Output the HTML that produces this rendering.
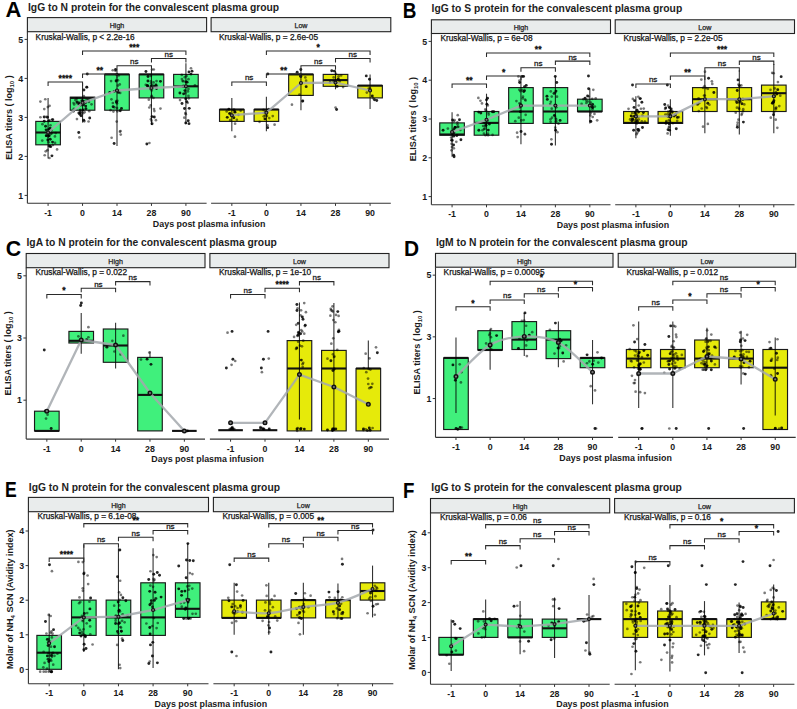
<!DOCTYPE html>
<html><head><meta charset="utf-8"><style>
html,body{margin:0;padding:0;background:#fff;width:797px;height:709px;overflow:hidden;position:relative}
svg text{font-family:"Liberation Sans", sans-serif}
</style></head><body>
<svg width="797" height="709" viewBox="0 0 797 709" style="position:absolute;left:0;top:0">
<rect width="797" height="709" fill="#ffffff"/>
<text transform="translate(5.5,17.2) scale(1.0,1)" font-size="22" font-weight="bold" fill="#000">A</text>
<text x="28" y="10.8" font-size="10.3" font-weight="bold" text-anchor="start" fill="#1e1e1e" >IgG to N protein for the convalescent plasma group</text>
<rect x="27.4" y="17.6" width="179.2" height="14.1" fill="#e9ecec" stroke="#222" stroke-width="1.1"/>
<text x="117" y="28" font-size="7.1" font-weight="normal" text-anchor="middle" fill="#222" stroke="#222" stroke-width="0.25">High</text>
<line x1="27.4" y1="203.3" x2="206.6" y2="203.3" stroke="#333" stroke-width="1.1"/>
<line x1="27.4" y1="31.7" x2="27.4" y2="203.3" stroke="#333" stroke-width="1.1"/>
<line x1="48.08" y1="203.3" x2="48.08" y2="205.9" stroke="#333" stroke-width="1"/>
<text x="48.08" y="215.7" font-size="8.8" font-weight="bold" text-anchor="middle" fill="#1a1a1a" >-1</text>
<line x1="82.54" y1="203.3" x2="82.54" y2="205.9" stroke="#333" stroke-width="1"/>
<text x="82.54" y="215.7" font-size="8.8" font-weight="bold" text-anchor="middle" fill="#1a1a1a" >0</text>
<line x1="117" y1="203.3" x2="117" y2="205.9" stroke="#333" stroke-width="1"/>
<text x="117" y="215.7" font-size="8.8" font-weight="bold" text-anchor="middle" fill="#1a1a1a" >14</text>
<line x1="151.46" y1="203.3" x2="151.46" y2="205.9" stroke="#333" stroke-width="1"/>
<text x="151.46" y="215.7" font-size="8.8" font-weight="bold" text-anchor="middle" fill="#1a1a1a" >28</text>
<line x1="185.92" y1="203.3" x2="185.92" y2="205.9" stroke="#333" stroke-width="1"/>
<text x="185.92" y="215.7" font-size="8.8" font-weight="bold" text-anchor="middle" fill="#1a1a1a" >90</text>
<rect x="35.78" y="121.4" width="24.6" height="23.4" fill="#40f07c" stroke="#1a1a1a" stroke-width="1.15"/>
<line x1="35.78" y1="132.5" x2="60.38" y2="132.5" stroke="#111" stroke-width="2.1"/>
<rect x="70.24" y="97.2" width="24.6" height="13" fill="#40f07c" stroke="#1a1a1a" stroke-width="1.15"/>
<line x1="70.24" y1="97.9" x2="94.84" y2="97.9" stroke="#111" stroke-width="2.1"/>
<rect x="104.7" y="74.4" width="24.6" height="35.8" fill="#40f07c" stroke="#1a1a1a" stroke-width="1.15"/>
<line x1="104.7" y1="74.4" x2="129.3" y2="74.4" stroke="#111" stroke-width="2.1"/>
<rect x="139.16" y="74.4" width="24.6" height="23.5" fill="#40f07c" stroke="#1a1a1a" stroke-width="1.15"/>
<line x1="139.16" y1="74.4" x2="163.76" y2="74.4" stroke="#111" stroke-width="2.1"/>
<rect x="173.62" y="74.4" width="24.6" height="23.5" fill="#40f07c" stroke="#1a1a1a" stroke-width="1.15"/>
<line x1="173.62" y1="86.3" x2="198.22" y2="86.3" stroke="#111" stroke-width="2.1"/>
<line x1="48.08" y1="97.9" x2="48.08" y2="158.4" stroke="#000" stroke-opacity="0.8" stroke-width="1.1"/>
<line x1="82.54" y1="83" x2="82.54" y2="122.6" stroke="#000" stroke-opacity="0.8" stroke-width="1.1"/>
<line x1="117" y1="69.5" x2="117" y2="146" stroke="#000" stroke-opacity="0.8" stroke-width="1.1"/>
<line x1="151.46" y1="69.5" x2="151.46" y2="125" stroke="#000" stroke-opacity="0.8" stroke-width="1.1"/>
<line x1="185.92" y1="63.3" x2="185.92" y2="123.8" stroke="#000" stroke-opacity="0.8" stroke-width="1.1"/>
<circle cx="52.55" cy="142.1" r="1.45" fill="#000" fill-opacity="0.85"/>
<circle cx="49.06" cy="130.66" r="1.35" fill="#000" fill-opacity="0.52"/>
<circle cx="48.66" cy="129.4" r="1.45" fill="#000" fill-opacity="0.85"/>
<circle cx="46.35" cy="135.64" r="1.45" fill="#000" fill-opacity="0.85"/>
<circle cx="44.7" cy="155.24" r="1.35" fill="#000" fill-opacity="0.52"/>
<circle cx="50.06" cy="128.12" r="1.45" fill="#000" fill-opacity="0.85"/>
<circle cx="45.56" cy="126.27" r="1.45" fill="#000" fill-opacity="0.85"/>
<circle cx="45.72" cy="151.37" r="1.35" fill="#000" fill-opacity="0.52"/>
<circle cx="50.48" cy="125.23" r="1.35" fill="#000" fill-opacity="0.52"/>
<circle cx="46.1" cy="135.74" r="1.35" fill="#000" fill-opacity="0.52"/>
<circle cx="49.7" cy="146.09" r="1.45" fill="#000" fill-opacity="0.85"/>
<circle cx="40.42" cy="117.25" r="1.35" fill="#000" fill-opacity="0.52"/>
<circle cx="49.97" cy="129.68" r="1.35" fill="#000" fill-opacity="0.52"/>
<circle cx="47.84" cy="107.1" r="1.35" fill="#000" fill-opacity="0.52"/>
<circle cx="42.45" cy="124.21" r="1.35" fill="#000" fill-opacity="0.52"/>
<circle cx="46.36" cy="116.88" r="1.35" fill="#000" fill-opacity="0.52"/>
<circle cx="52.97" cy="119.65" r="1.35" fill="#000" fill-opacity="0.52"/>
<circle cx="40.36" cy="101.57" r="1.35" fill="#000" fill-opacity="0.52"/>
<circle cx="49.44" cy="157.98" r="1.35" fill="#000" fill-opacity="0.52"/>
<circle cx="45.28" cy="99.27" r="1.35" fill="#000" fill-opacity="0.52"/>
<circle cx="48.97" cy="135.85" r="1.35" fill="#000" fill-opacity="0.52"/>
<circle cx="51.86" cy="133.26" r="1.35" fill="#000" fill-opacity="0.52"/>
<circle cx="49.58" cy="120.35" r="1.35" fill="#000" fill-opacity="0.52"/>
<circle cx="47.38" cy="150.17" r="1.35" fill="#000" fill-opacity="0.52"/>
<circle cx="51.95" cy="155.84" r="1.45" fill="#000" fill-opacity="0.85"/>
<circle cx="50.83" cy="133.98" r="1.35" fill="#000" fill-opacity="0.52"/>
<circle cx="48.42" cy="133.02" r="1.35" fill="#000" fill-opacity="0.52"/>
<circle cx="44.27" cy="109.04" r="1.35" fill="#000" fill-opacity="0.52"/>
<circle cx="44.23" cy="121.29" r="1.45" fill="#000" fill-opacity="0.85"/>
<circle cx="52.87" cy="145.09" r="1.35" fill="#000" fill-opacity="0.52"/>
<circle cx="52.37" cy="119.61" r="1.45" fill="#000" fill-opacity="0.85"/>
<circle cx="48.66" cy="142.24" r="1.35" fill="#000" fill-opacity="0.52"/>
<circle cx="50.25" cy="139.22" r="1.45" fill="#000" fill-opacity="0.85"/>
<circle cx="55.72" cy="133.11" r="1.35" fill="#000" fill-opacity="0.52"/>
<circle cx="48.03" cy="136.56" r="1.35" fill="#000" fill-opacity="0.52"/>
<circle cx="55.06" cy="142.93" r="1.35" fill="#000" fill-opacity="0.52"/>
<circle cx="49.59" cy="105.82" r="1.35" fill="#000" fill-opacity="0.52"/>
<circle cx="49.15" cy="135.64" r="1.45" fill="#000" fill-opacity="0.85"/>
<circle cx="46.09" cy="129.86" r="1.45" fill="#000" fill-opacity="0.85"/>
<circle cx="48.86" cy="145.95" r="1.35" fill="#000" fill-opacity="0.52"/>
<circle cx="47.82" cy="140.02" r="1.45" fill="#000" fill-opacity="0.85"/>
<circle cx="51.7" cy="130.12" r="1.35" fill="#000" fill-opacity="0.52"/>
<circle cx="54.92" cy="136.38" r="1.35" fill="#000" fill-opacity="0.52"/>
<circle cx="50.67" cy="146.67" r="1.45" fill="#000" fill-opacity="0.85"/>
<circle cx="47.51" cy="117.23" r="1.45" fill="#000" fill-opacity="0.85"/>
<circle cx="47.74" cy="135.13" r="1.35" fill="#000" fill-opacity="0.52"/>
<circle cx="57.08" cy="149.41" r="1.35" fill="#000" fill-opacity="0.52"/>
<circle cx="48.58" cy="120.9" r="1.45" fill="#000" fill-opacity="0.85"/>
<circle cx="42.27" cy="140.6" r="1.35" fill="#000" fill-opacity="0.52"/>
<circle cx="44.18" cy="117.04" r="1.45" fill="#000" fill-opacity="0.85"/>
<circle cx="76.95" cy="119.03" r="1.35" fill="#000" fill-opacity="0.52"/>
<circle cx="85.45" cy="101.93" r="1.35" fill="#000" fill-opacity="0.52"/>
<circle cx="88.58" cy="121.48" r="1.35" fill="#000" fill-opacity="0.52"/>
<circle cx="80.54" cy="112.67" r="1.45" fill="#000" fill-opacity="0.85"/>
<circle cx="89.24" cy="111.16" r="1.35" fill="#000" fill-opacity="0.52"/>
<circle cx="73.54" cy="111.36" r="1.35" fill="#000" fill-opacity="0.52"/>
<circle cx="81.93" cy="100.71" r="1.45" fill="#000" fill-opacity="0.85"/>
<circle cx="73.81" cy="108.73" r="1.35" fill="#000" fill-opacity="0.52"/>
<circle cx="81.07" cy="115.72" r="1.45" fill="#000" fill-opacity="0.85"/>
<circle cx="85.26" cy="102.53" r="1.35" fill="#000" fill-opacity="0.52"/>
<circle cx="83.52" cy="100.96" r="1.35" fill="#000" fill-opacity="0.52"/>
<circle cx="83.85" cy="96.15" r="1.35" fill="#000" fill-opacity="0.52"/>
<circle cx="80.32" cy="109.76" r="1.35" fill="#000" fill-opacity="0.52"/>
<circle cx="83.02" cy="110.02" r="1.45" fill="#000" fill-opacity="0.85"/>
<circle cx="80.31" cy="104.81" r="1.35" fill="#000" fill-opacity="0.52"/>
<circle cx="80.43" cy="105.04" r="1.35" fill="#000" fill-opacity="0.52"/>
<circle cx="86.62" cy="87.2" r="1.35" fill="#000" fill-opacity="0.52"/>
<circle cx="88.98" cy="101.99" r="1.35" fill="#000" fill-opacity="0.52"/>
<circle cx="74.17" cy="104.52" r="1.35" fill="#000" fill-opacity="0.52"/>
<circle cx="76.72" cy="103.02" r="1.35" fill="#000" fill-opacity="0.52"/>
<circle cx="73.57" cy="103.01" r="1.35" fill="#000" fill-opacity="0.52"/>
<circle cx="83.78" cy="120.31" r="1.45" fill="#000" fill-opacity="0.85"/>
<circle cx="80" cy="114.3" r="1.45" fill="#000" fill-opacity="0.85"/>
<circle cx="83.06" cy="101.56" r="1.45" fill="#000" fill-opacity="0.85"/>
<circle cx="76.72" cy="98.69" r="1.35" fill="#000" fill-opacity="0.52"/>
<circle cx="77.08" cy="101.87" r="1.45" fill="#000" fill-opacity="0.85"/>
<circle cx="84.32" cy="121.31" r="1.35" fill="#000" fill-opacity="0.52"/>
<circle cx="89.71" cy="118.02" r="1.45" fill="#000" fill-opacity="0.85"/>
<circle cx="79.1" cy="102.99" r="1.45" fill="#000" fill-opacity="0.85"/>
<circle cx="82.41" cy="103.17" r="1.35" fill="#000" fill-opacity="0.52"/>
<circle cx="85.93" cy="102.55" r="1.35" fill="#000" fill-opacity="0.52"/>
<circle cx="91.54" cy="104.3" r="1.35" fill="#000" fill-opacity="0.52"/>
<circle cx="86.87" cy="87.15" r="1.45" fill="#000" fill-opacity="0.85"/>
<circle cx="79.57" cy="104.55" r="1.45" fill="#000" fill-opacity="0.85"/>
<circle cx="78.83" cy="112.98" r="1.45" fill="#000" fill-opacity="0.85"/>
<circle cx="80.14" cy="110.41" r="1.35" fill="#000" fill-opacity="0.52"/>
<circle cx="84.59" cy="112.14" r="1.35" fill="#000" fill-opacity="0.52"/>
<circle cx="80.5" cy="111.46" r="1.35" fill="#000" fill-opacity="0.52"/>
<circle cx="81.43" cy="105.06" r="1.35" fill="#000" fill-opacity="0.52"/>
<circle cx="86.62" cy="99.72" r="1.35" fill="#000" fill-opacity="0.52"/>
<circle cx="85.91" cy="108.67" r="1.45" fill="#000" fill-opacity="0.85"/>
<circle cx="83.58" cy="104.7" r="1.45" fill="#000" fill-opacity="0.85"/>
<circle cx="88.57" cy="100.32" r="1.45" fill="#000" fill-opacity="0.85"/>
<circle cx="85.69" cy="106.09" r="1.45" fill="#000" fill-opacity="0.85"/>
<circle cx="83.13" cy="113.26" r="1.35" fill="#000" fill-opacity="0.52"/>
<circle cx="83.94" cy="90.07" r="1.45" fill="#000" fill-opacity="0.85"/>
<circle cx="75.33" cy="100.11" r="1.35" fill="#000" fill-opacity="0.52"/>
<circle cx="78.42" cy="104.05" r="1.35" fill="#000" fill-opacity="0.52"/>
<circle cx="73.54" cy="110.99" r="1.35" fill="#000" fill-opacity="0.52"/>
<circle cx="83.58" cy="102.56" r="1.45" fill="#000" fill-opacity="0.85"/>
<circle cx="114.09" cy="91.58" r="1.45" fill="#000" fill-opacity="0.85"/>
<circle cx="110.55" cy="110.15" r="1.35" fill="#000" fill-opacity="0.52"/>
<circle cx="120.16" cy="92.96" r="1.35" fill="#000" fill-opacity="0.52"/>
<circle cx="117.99" cy="80.31" r="1.35" fill="#000" fill-opacity="0.52"/>
<circle cx="117.34" cy="111.35" r="1.35" fill="#000" fill-opacity="0.52"/>
<circle cx="120.73" cy="134.53" r="1.35" fill="#000" fill-opacity="0.52"/>
<circle cx="118.37" cy="92.41" r="1.45" fill="#000" fill-opacity="0.85"/>
<circle cx="120.24" cy="110.68" r="1.45" fill="#000" fill-opacity="0.85"/>
<circle cx="116.08" cy="101.08" r="1.35" fill="#000" fill-opacity="0.52"/>
<circle cx="117.02" cy="103.47" r="1.35" fill="#000" fill-opacity="0.52"/>
<circle cx="111.44" cy="99.3" r="1.35" fill="#000" fill-opacity="0.52"/>
<circle cx="116.12" cy="80.93" r="1.45" fill="#000" fill-opacity="0.85"/>
<circle cx="111.62" cy="137.73" r="1.35" fill="#000" fill-opacity="0.52"/>
<circle cx="119.97" cy="131.63" r="1.35" fill="#000" fill-opacity="0.52"/>
<circle cx="120.55" cy="131.06" r="1.35" fill="#000" fill-opacity="0.52"/>
<circle cx="113.41" cy="111.58" r="1.35" fill="#000" fill-opacity="0.52"/>
<circle cx="117.4" cy="100.83" r="1.35" fill="#000" fill-opacity="0.52"/>
<circle cx="112.83" cy="102.99" r="1.35" fill="#000" fill-opacity="0.52"/>
<circle cx="116.69" cy="121.57" r="1.35" fill="#000" fill-opacity="0.52"/>
<circle cx="117.02" cy="107.98" r="1.35" fill="#000" fill-opacity="0.52"/>
<circle cx="116.76" cy="74.55" r="1.45" fill="#000" fill-opacity="0.85"/>
<circle cx="116.67" cy="79.94" r="1.35" fill="#000" fill-opacity="0.52"/>
<circle cx="114.45" cy="107.29" r="1.35" fill="#000" fill-opacity="0.52"/>
<circle cx="111.07" cy="81.06" r="1.35" fill="#000" fill-opacity="0.52"/>
<circle cx="118.75" cy="75.43" r="1.35" fill="#000" fill-opacity="0.52"/>
<circle cx="116.45" cy="102.26" r="1.45" fill="#000" fill-opacity="0.85"/>
<circle cx="114.25" cy="91.24" r="1.35" fill="#000" fill-opacity="0.52"/>
<circle cx="112.77" cy="70.26" r="1.35" fill="#000" fill-opacity="0.52"/>
<circle cx="118.99" cy="90.41" r="1.35" fill="#000" fill-opacity="0.52"/>
<circle cx="115.43" cy="70.84" r="1.35" fill="#000" fill-opacity="0.52"/>
<circle cx="114.14" cy="143.56" r="1.45" fill="#000" fill-opacity="0.85"/>
<circle cx="117.94" cy="85.62" r="1.35" fill="#000" fill-opacity="0.52"/>
<circle cx="115.59" cy="69.5" r="1.45" fill="#000" fill-opacity="0.85"/>
<circle cx="121.49" cy="108.42" r="1.45" fill="#000" fill-opacity="0.85"/>
<circle cx="113.13" cy="106.69" r="1.45" fill="#000" fill-opacity="0.85"/>
<circle cx="117.22" cy="74.51" r="1.35" fill="#000" fill-opacity="0.52"/>
<circle cx="119.75" cy="84.4" r="1.35" fill="#000" fill-opacity="0.52"/>
<circle cx="109.74" cy="92.44" r="1.45" fill="#000" fill-opacity="0.85"/>
<circle cx="154.02" cy="109.07" r="1.35" fill="#000" fill-opacity="0.52"/>
<circle cx="156.53" cy="81.03" r="1.35" fill="#000" fill-opacity="0.52"/>
<circle cx="151.27" cy="86.04" r="1.45" fill="#000" fill-opacity="0.85"/>
<circle cx="152.64" cy="85.35" r="1.35" fill="#000" fill-opacity="0.52"/>
<circle cx="155.98" cy="84.89" r="1.45" fill="#000" fill-opacity="0.85"/>
<circle cx="149.32" cy="107.5" r="1.35" fill="#000" fill-opacity="0.52"/>
<circle cx="155.93" cy="120.2" r="1.35" fill="#000" fill-opacity="0.52"/>
<circle cx="151" cy="81.24" r="1.35" fill="#000" fill-opacity="0.52"/>
<circle cx="147.33" cy="85.38" r="1.45" fill="#000" fill-opacity="0.85"/>
<circle cx="148.03" cy="76.57" r="1.45" fill="#000" fill-opacity="0.85"/>
<circle cx="152.07" cy="123.68" r="1.45" fill="#000" fill-opacity="0.85"/>
<circle cx="147.9" cy="86.2" r="1.45" fill="#000" fill-opacity="0.85"/>
<circle cx="153.62" cy="82.38" r="1.35" fill="#000" fill-opacity="0.52"/>
<circle cx="160.46" cy="108.57" r="1.35" fill="#000" fill-opacity="0.52"/>
<circle cx="152.05" cy="69.5" r="1.35" fill="#000" fill-opacity="0.52"/>
<circle cx="151.66" cy="90.51" r="1.35" fill="#000" fill-opacity="0.52"/>
<circle cx="154.39" cy="111.11" r="1.35" fill="#000" fill-opacity="0.52"/>
<circle cx="150.9" cy="75.88" r="1.35" fill="#000" fill-opacity="0.52"/>
<circle cx="160.46" cy="81.34" r="1.45" fill="#000" fill-opacity="0.85"/>
<circle cx="145.95" cy="71.54" r="1.45" fill="#000" fill-opacity="0.85"/>
<circle cx="155.3" cy="86.25" r="1.35" fill="#000" fill-opacity="0.52"/>
<circle cx="152.02" cy="116.6" r="1.45" fill="#000" fill-opacity="0.85"/>
<circle cx="150.89" cy="119.21" r="1.35" fill="#000" fill-opacity="0.52"/>
<circle cx="151.47" cy="96.8" r="1.35" fill="#000" fill-opacity="0.52"/>
<circle cx="154.29" cy="116.98" r="1.45" fill="#000" fill-opacity="0.85"/>
<circle cx="145.77" cy="84.75" r="1.35" fill="#000" fill-opacity="0.52"/>
<circle cx="150.66" cy="105.43" r="1.35" fill="#000" fill-opacity="0.52"/>
<circle cx="151.12" cy="83.27" r="1.35" fill="#000" fill-opacity="0.52"/>
<circle cx="148.82" cy="99.63" r="1.35" fill="#000" fill-opacity="0.52"/>
<circle cx="156.87" cy="85.98" r="1.35" fill="#000" fill-opacity="0.52"/>
<circle cx="153.44" cy="97.92" r="1.35" fill="#000" fill-opacity="0.52"/>
<circle cx="156.54" cy="88.54" r="1.45" fill="#000" fill-opacity="0.85"/>
<circle cx="153.81" cy="69.5" r="1.35" fill="#000" fill-opacity="0.52"/>
<circle cx="151.74" cy="95.88" r="1.35" fill="#000" fill-opacity="0.52"/>
<circle cx="154.31" cy="86.56" r="1.45" fill="#000" fill-opacity="0.85"/>
<circle cx="147.93" cy="81.05" r="1.45" fill="#000" fill-opacity="0.85"/>
<circle cx="151.61" cy="120.85" r="1.35" fill="#000" fill-opacity="0.52"/>
<circle cx="150.42" cy="88.93" r="1.35" fill="#000" fill-opacity="0.52"/>
<circle cx="183.62" cy="93.85" r="1.45" fill="#000" fill-opacity="0.85"/>
<circle cx="187.1" cy="82.16" r="1.45" fill="#000" fill-opacity="0.85"/>
<circle cx="183.43" cy="81.14" r="1.35" fill="#000" fill-opacity="0.52"/>
<circle cx="188.42" cy="89.06" r="1.35" fill="#000" fill-opacity="0.52"/>
<circle cx="188.23" cy="120.7" r="1.45" fill="#000" fill-opacity="0.85"/>
<circle cx="188.95" cy="71.89" r="1.45" fill="#000" fill-opacity="0.85"/>
<circle cx="190.97" cy="68.26" r="1.35" fill="#000" fill-opacity="0.52"/>
<circle cx="189.01" cy="123.65" r="1.45" fill="#000" fill-opacity="0.85"/>
<circle cx="184.51" cy="108.45" r="1.45" fill="#000" fill-opacity="0.85"/>
<circle cx="183.53" cy="86.21" r="1.45" fill="#000" fill-opacity="0.85"/>
<circle cx="185.26" cy="92.98" r="1.35" fill="#000" fill-opacity="0.52"/>
<circle cx="188.45" cy="95.92" r="1.35" fill="#000" fill-opacity="0.52"/>
<circle cx="185.35" cy="113.03" r="1.35" fill="#000" fill-opacity="0.52"/>
<circle cx="186.53" cy="75.98" r="1.35" fill="#000" fill-opacity="0.52"/>
<circle cx="192.03" cy="71.17" r="1.45" fill="#000" fill-opacity="0.85"/>
<circle cx="179.92" cy="93.05" r="1.45" fill="#000" fill-opacity="0.85"/>
<circle cx="189.2" cy="108.33" r="1.45" fill="#000" fill-opacity="0.85"/>
<circle cx="184.31" cy="117.66" r="1.35" fill="#000" fill-opacity="0.52"/>
<circle cx="188.49" cy="79.16" r="1.35" fill="#000" fill-opacity="0.52"/>
<circle cx="186.25" cy="86" r="1.35" fill="#000" fill-opacity="0.52"/>
<circle cx="186.71" cy="101.66" r="1.45" fill="#000" fill-opacity="0.85"/>
<circle cx="194.92" cy="85.32" r="1.35" fill="#000" fill-opacity="0.52"/>
<circle cx="181.91" cy="79.04" r="1.35" fill="#000" fill-opacity="0.52"/>
<circle cx="187.94" cy="91.46" r="1.35" fill="#000" fill-opacity="0.52"/>
<circle cx="180.04" cy="100.04" r="1.35" fill="#000" fill-opacity="0.52"/>
<circle cx="190.99" cy="74.09" r="1.45" fill="#000" fill-opacity="0.85"/>
<circle cx="183.06" cy="86.3" r="1.45" fill="#000" fill-opacity="0.85"/>
<circle cx="184.83" cy="77.18" r="1.35" fill="#000" fill-opacity="0.52"/>
<circle cx="185.77" cy="123.06" r="1.45" fill="#000" fill-opacity="0.85"/>
<circle cx="184.89" cy="90.61" r="1.45" fill="#000" fill-opacity="0.85"/>
<circle cx="181.78" cy="74.89" r="1.35" fill="#000" fill-opacity="0.52"/>
<circle cx="182.02" cy="103.5" r="1.45" fill="#000" fill-opacity="0.85"/>
<circle cx="182.57" cy="81.07" r="1.35" fill="#000" fill-opacity="0.52"/>
<circle cx="185.97" cy="81.94" r="1.45" fill="#000" fill-opacity="0.85"/>
<circle cx="188.77" cy="98.29" r="1.35" fill="#000" fill-opacity="0.52"/>
<circle cx="185.71" cy="98.85" r="1.45" fill="#000" fill-opacity="0.85"/>
<circle cx="187.69" cy="102.83" r="1.35" fill="#000" fill-opacity="0.52"/>
<circle cx="185.82" cy="114.15" r="1.35" fill="#000" fill-opacity="0.52"/>
<circle cx="146.87" cy="144" r="1.45" fill="#000" fill-opacity="0.85"/>
<circle cx="149.4" cy="143" r="1.35" fill="#000" fill-opacity="0.52"/>
<circle cx="78.73" cy="132.5" r="1.45" fill="#000" fill-opacity="0.85"/>
<circle cx="79.43" cy="137.4" r="1.35" fill="#000" fill-opacity="0.52"/>
<circle cx="87.27" cy="74" r="1.45" fill="#000" fill-opacity="0.85"/>
<polyline points="48.08,132.5 82.54,102.8 117,90.5 151.46,88 185.92,86.3" fill="none" stroke="#a3a8ad" stroke-opacity="0.85" stroke-width="2.3" stroke-linejoin="round"/>
<circle cx="48.08" cy="132.5" r="1.5" fill="#777" stroke="#111" stroke-width="1.1"/>
<circle cx="82.54" cy="102.8" r="1.5" fill="#777" stroke="#111" stroke-width="1.1"/>
<circle cx="117" cy="90.5" r="1.5" fill="#777" stroke="#111" stroke-width="1.1"/>
<circle cx="151.46" cy="88" r="1.5" fill="#777" stroke="#111" stroke-width="1.1"/>
<circle cx="185.92" cy="86.3" r="1.5" fill="#777" stroke="#111" stroke-width="1.1"/>
<path d="M48.08,85.9 V81.9 H82.54 V85.9" fill="none" stroke="#2a2a2a" stroke-width="1.05"/>
<text x="65.31" y="80.9" font-size="8.6" font-weight="normal" text-anchor="middle" fill="#222" stroke="#222" stroke-width="0.55">****</text>
<path d="M82.54,78 V74 H117 V78" fill="none" stroke="#2a2a2a" stroke-width="1.05"/>
<text x="99.77" y="73" font-size="8.6" font-weight="normal" text-anchor="middle" fill="#222" stroke="#222" stroke-width="0.55">**</text>
<path d="M117,69.8 V65.8 H151.46 V69.8" fill="none" stroke="#2a2a2a" stroke-width="1.05"/>
<text x="134.23" y="64.2" font-size="8" font-weight="normal" text-anchor="middle" fill="#222" stroke="#222" stroke-width="0.3">ns</text>
<path d="M151.46,62.4 V58.4 H185.92 V62.4" fill="none" stroke="#2a2a2a" stroke-width="1.05"/>
<text x="168.69" y="56.8" font-size="8" font-weight="normal" text-anchor="middle" fill="#222" stroke="#222" stroke-width="0.3">ns</text>
<path d="M82.54,55 V51 H185.92 V55" fill="none" stroke="#2a2a2a" stroke-width="1.05"/>
<text x="134.23" y="50" font-size="8.6" font-weight="normal" text-anchor="middle" fill="#222" stroke="#222" stroke-width="0.55">***</text>
<text x="35.6" y="39.9" font-size="8.3" font-weight="normal" text-anchor="start" fill="#111" stroke="#111" stroke-width="0.25">Kruskal-Wallis, p < 2.2e-16</text>
<rect x="211.1" y="17.6" width="179.7" height="14.1" fill="#e9ecec" stroke="#222" stroke-width="1.1"/>
<text x="300.95" y="28" font-size="7.1" font-weight="normal" text-anchor="middle" fill="#222" stroke="#222" stroke-width="0.25">Low</text>
<line x1="211.1" y1="203.3" x2="390.8" y2="203.3" stroke="#333" stroke-width="1.1"/>
<line x1="231.83" y1="203.3" x2="231.83" y2="205.9" stroke="#333" stroke-width="1"/>
<text x="231.83" y="215.7" font-size="8.8" font-weight="bold" text-anchor="middle" fill="#1a1a1a" >-1</text>
<line x1="266.39" y1="203.3" x2="266.39" y2="205.9" stroke="#333" stroke-width="1"/>
<text x="266.39" y="215.7" font-size="8.8" font-weight="bold" text-anchor="middle" fill="#1a1a1a" >0</text>
<line x1="300.95" y1="203.3" x2="300.95" y2="205.9" stroke="#333" stroke-width="1"/>
<text x="300.95" y="215.7" font-size="8.8" font-weight="bold" text-anchor="middle" fill="#1a1a1a" >14</text>
<line x1="335.51" y1="203.3" x2="335.51" y2="205.9" stroke="#333" stroke-width="1"/>
<text x="335.51" y="215.7" font-size="8.8" font-weight="bold" text-anchor="middle" fill="#1a1a1a" >28</text>
<line x1="370.07" y1="203.3" x2="370.07" y2="205.9" stroke="#333" stroke-width="1"/>
<text x="370.07" y="215.7" font-size="8.8" font-weight="bold" text-anchor="middle" fill="#1a1a1a" >90</text>
<rect x="219.53" y="109.5" width="24.6" height="11.9" fill="#e6ea0a" stroke="#1a1a1a" stroke-width="1.15"/>
<line x1="219.53" y1="109.5" x2="244.13" y2="109.5" stroke="#111" stroke-width="2.1"/>
<rect x="254.09" y="109.5" width="24.6" height="11.9" fill="#e6ea0a" stroke="#1a1a1a" stroke-width="1.15"/>
<line x1="254.09" y1="109.5" x2="278.69" y2="109.5" stroke="#111" stroke-width="2.1"/>
<rect x="288.65" y="74.4" width="24.6" height="21" fill="#e6ea0a" stroke="#1a1a1a" stroke-width="1.15"/>
<line x1="288.65" y1="74.4" x2="313.25" y2="74.4" stroke="#111" stroke-width="2.1"/>
<rect x="323.21" y="74.4" width="24.6" height="11.9" fill="#e6ea0a" stroke="#1a1a1a" stroke-width="1.15"/>
<line x1="323.21" y1="80.1" x2="347.81" y2="80.1" stroke="#111" stroke-width="2.1"/>
<rect x="357.77" y="85.6" width="24.6" height="12.3" fill="#e6ea0a" stroke="#1a1a1a" stroke-width="1.15"/>
<line x1="357.77" y1="85.6" x2="382.37" y2="85.6" stroke="#111" stroke-width="2.1"/>
<line x1="231.83" y1="97.9" x2="231.83" y2="131.2" stroke="#000" stroke-opacity="0.8" stroke-width="1.1"/>
<line x1="266.39" y1="96.7" x2="266.39" y2="131.2" stroke="#000" stroke-opacity="0.8" stroke-width="1.1"/>
<line x1="300.95" y1="69.5" x2="300.95" y2="110.2" stroke="#000" stroke-opacity="0.8" stroke-width="1.1"/>
<line x1="335.51" y1="70.7" x2="335.51" y2="89.3" stroke="#000" stroke-opacity="0.8" stroke-width="1.1"/>
<line x1="370.07" y1="74.4" x2="370.07" y2="109" stroke="#000" stroke-opacity="0.8" stroke-width="1.1"/>
<circle cx="230.28" cy="120.18" r="1.35" fill="#000" fill-opacity="0.52"/>
<circle cx="238.41" cy="114.86" r="1.35" fill="#000" fill-opacity="0.52"/>
<circle cx="228.83" cy="109.26" r="1.45" fill="#000" fill-opacity="0.85"/>
<circle cx="233.83" cy="117.75" r="1.45" fill="#000" fill-opacity="0.85"/>
<circle cx="229.75" cy="113.34" r="1.45" fill="#000" fill-opacity="0.85"/>
<circle cx="229.65" cy="113.94" r="1.35" fill="#000" fill-opacity="0.52"/>
<circle cx="227.24" cy="117.36" r="1.45" fill="#000" fill-opacity="0.85"/>
<circle cx="234.77" cy="110.04" r="1.35" fill="#000" fill-opacity="0.52"/>
<circle cx="236.85" cy="119.75" r="1.35" fill="#000" fill-opacity="0.52"/>
<circle cx="240.63" cy="110.71" r="1.35" fill="#000" fill-opacity="0.52"/>
<circle cx="234.92" cy="111.95" r="1.35" fill="#000" fill-opacity="0.52"/>
<circle cx="233.83" cy="110.01" r="1.45" fill="#000" fill-opacity="0.85"/>
<circle cx="235.09" cy="123.7" r="1.35" fill="#000" fill-opacity="0.52"/>
<circle cx="234.97" cy="112.16" r="1.45" fill="#000" fill-opacity="0.85"/>
<circle cx="226.68" cy="111.41" r="1.35" fill="#000" fill-opacity="0.52"/>
<circle cx="263.76" cy="112.99" r="1.35" fill="#000" fill-opacity="0.52"/>
<circle cx="265.43" cy="111.83" r="1.35" fill="#000" fill-opacity="0.52"/>
<circle cx="259.54" cy="121.87" r="1.35" fill="#000" fill-opacity="0.52"/>
<circle cx="272.76" cy="116.03" r="1.35" fill="#000" fill-opacity="0.52"/>
<circle cx="274.58" cy="124.7" r="1.35" fill="#000" fill-opacity="0.52"/>
<circle cx="269.25" cy="118.1" r="1.35" fill="#000" fill-opacity="0.52"/>
<circle cx="263.77" cy="116.31" r="1.35" fill="#000" fill-opacity="0.52"/>
<circle cx="267.48" cy="125.31" r="1.35" fill="#000" fill-opacity="0.52"/>
<circle cx="264.94" cy="118.91" r="1.45" fill="#000" fill-opacity="0.85"/>
<circle cx="267.69" cy="127.66" r="1.45" fill="#000" fill-opacity="0.85"/>
<circle cx="265.33" cy="115.52" r="1.35" fill="#000" fill-opacity="0.52"/>
<circle cx="263.58" cy="109.91" r="1.35" fill="#000" fill-opacity="0.52"/>
<circle cx="268.81" cy="109.18" r="1.35" fill="#000" fill-opacity="0.52"/>
<circle cx="265.63" cy="112.11" r="1.35" fill="#000" fill-opacity="0.52"/>
<circle cx="266.99" cy="115.89" r="1.35" fill="#000" fill-opacity="0.52"/>
<circle cx="302.79" cy="101.04" r="1.45" fill="#000" fill-opacity="0.85"/>
<circle cx="299.44" cy="94.67" r="1.35" fill="#000" fill-opacity="0.52"/>
<circle cx="306.18" cy="86.67" r="1.45" fill="#000" fill-opacity="0.85"/>
<circle cx="302.32" cy="101.15" r="1.35" fill="#000" fill-opacity="0.52"/>
<circle cx="300.86" cy="75.6" r="1.35" fill="#000" fill-opacity="0.52"/>
<circle cx="291.95" cy="104.72" r="1.35" fill="#000" fill-opacity="0.52"/>
<circle cx="305.34" cy="77.38" r="1.35" fill="#000" fill-opacity="0.52"/>
<circle cx="300.44" cy="76.22" r="1.35" fill="#000" fill-opacity="0.52"/>
<circle cx="297.17" cy="72.17" r="1.45" fill="#000" fill-opacity="0.85"/>
<circle cx="306.09" cy="80.69" r="1.35" fill="#000" fill-opacity="0.52"/>
<circle cx="300.83" cy="69.5" r="1.45" fill="#000" fill-opacity="0.85"/>
<circle cx="300.82" cy="76.54" r="1.45" fill="#000" fill-opacity="0.85"/>
<circle cx="343.08" cy="87.07" r="1.35" fill="#000" fill-opacity="0.52"/>
<circle cx="335.92" cy="73.84" r="1.35" fill="#000" fill-opacity="0.52"/>
<circle cx="333.67" cy="77.39" r="1.35" fill="#000" fill-opacity="0.52"/>
<circle cx="331.72" cy="70.7" r="1.45" fill="#000" fill-opacity="0.85"/>
<circle cx="330.16" cy="82.41" r="1.45" fill="#000" fill-opacity="0.85"/>
<circle cx="339.7" cy="81.44" r="1.35" fill="#000" fill-opacity="0.52"/>
<circle cx="338.29" cy="78.93" r="1.45" fill="#000" fill-opacity="0.85"/>
<circle cx="341.12" cy="75.42" r="1.35" fill="#000" fill-opacity="0.52"/>
<circle cx="333.81" cy="81.6" r="1.45" fill="#000" fill-opacity="0.85"/>
<circle cx="338.62" cy="76.34" r="1.35" fill="#000" fill-opacity="0.52"/>
<circle cx="337.11" cy="86.39" r="1.45" fill="#000" fill-opacity="0.85"/>
<circle cx="334.27" cy="71.11" r="1.45" fill="#000" fill-opacity="0.85"/>
<circle cx="372.28" cy="95.88" r="1.45" fill="#000" fill-opacity="0.85"/>
<circle cx="368.7" cy="88.55" r="1.35" fill="#000" fill-opacity="0.52"/>
<circle cx="376.75" cy="100.45" r="1.45" fill="#000" fill-opacity="0.85"/>
<circle cx="373.13" cy="98.32" r="1.35" fill="#000" fill-opacity="0.52"/>
<circle cx="370.01" cy="88.31" r="1.35" fill="#000" fill-opacity="0.52"/>
<circle cx="366.84" cy="92.6" r="1.35" fill="#000" fill-opacity="0.52"/>
<circle cx="374.49" cy="99.78" r="1.45" fill="#000" fill-opacity="0.85"/>
<circle cx="366.26" cy="75.92" r="1.45" fill="#000" fill-opacity="0.85"/>
<circle cx="370.17" cy="90.63" r="1.35" fill="#000" fill-opacity="0.52"/>
<circle cx="369.48" cy="79.32" r="1.45" fill="#000" fill-opacity="0.85"/>
<circle cx="336.59" cy="109.5" r="1.45" fill="#000" fill-opacity="0.85"/>
<circle cx="335.58" cy="107.5" r="1.35" fill="#000" fill-opacity="0.52"/>
<circle cx="267.81" cy="74" r="1.45" fill="#000" fill-opacity="0.85"/>
<circle cx="234.97" cy="136.7" r="1.35" fill="#000" fill-opacity="0.52"/>
<polyline points="231.83,115.2 266.39,112.7 300.95,83 335.51,82.6 370.07,90.5" fill="none" stroke="#a3a8ad" stroke-opacity="0.85" stroke-width="2.3" stroke-linejoin="round"/>
<circle cx="231.83" cy="115.2" r="1.5" fill="#777" stroke="#111" stroke-width="1.1"/>
<circle cx="266.39" cy="112.7" r="1.5" fill="#777" stroke="#111" stroke-width="1.1"/>
<circle cx="300.95" cy="83" r="1.5" fill="#777" stroke="#111" stroke-width="1.1"/>
<circle cx="335.51" cy="82.6" r="1.5" fill="#777" stroke="#111" stroke-width="1.1"/>
<circle cx="370.07" cy="90.5" r="1.5" fill="#777" stroke="#111" stroke-width="1.1"/>
<path d="M231.83,85.9 V81.9 H266.39 V85.9" fill="none" stroke="#2a2a2a" stroke-width="1.05"/>
<text x="249.11" y="80.3" font-size="8" font-weight="normal" text-anchor="middle" fill="#222" stroke="#222" stroke-width="0.3">ns</text>
<path d="M266.39,78 V74 H300.95 V78" fill="none" stroke="#2a2a2a" stroke-width="1.05"/>
<text x="283.67" y="73" font-size="8.6" font-weight="normal" text-anchor="middle" fill="#222" stroke="#222" stroke-width="0.55">**</text>
<path d="M300.95,69.8 V65.8 H335.51 V69.8" fill="none" stroke="#2a2a2a" stroke-width="1.05"/>
<text x="318.23" y="64.2" font-size="8" font-weight="normal" text-anchor="middle" fill="#222" stroke="#222" stroke-width="0.3">ns</text>
<path d="M335.51,62.4 V58.4 H370.07 V62.4" fill="none" stroke="#2a2a2a" stroke-width="1.05"/>
<text x="352.79" y="56.8" font-size="8" font-weight="normal" text-anchor="middle" fill="#222" stroke="#222" stroke-width="0.3">ns</text>
<path d="M266.39,55 V51 H370.07 V55" fill="none" stroke="#2a2a2a" stroke-width="1.05"/>
<text x="318.23" y="50" font-size="8.6" font-weight="normal" text-anchor="middle" fill="#222" stroke="#222" stroke-width="0.55">*</text>
<text x="219" y="39.9" font-size="8.3" font-weight="normal" text-anchor="start" fill="#111" stroke="#111" stroke-width="0.25">Kruskal-Wallis, p = 2.6e-05</text>
<line x1="24.6" y1="195.4" x2="27.4" y2="195.4" stroke="#333" stroke-width="1"/>
<text x="23.2" y="198.5" font-size="8.8" font-weight="bold" text-anchor="end" fill="#1a1a1a" >1</text>
<line x1="24.6" y1="156.4" x2="27.4" y2="156.4" stroke="#333" stroke-width="1"/>
<text x="23.2" y="159.5" font-size="8.8" font-weight="bold" text-anchor="end" fill="#1a1a1a" >2</text>
<line x1="24.6" y1="117.4" x2="27.4" y2="117.4" stroke="#333" stroke-width="1"/>
<text x="23.2" y="120.5" font-size="8.8" font-weight="bold" text-anchor="end" fill="#1a1a1a" >3</text>
<line x1="24.6" y1="78.4" x2="27.4" y2="78.4" stroke="#333" stroke-width="1"/>
<text x="23.2" y="81.5" font-size="8.8" font-weight="bold" text-anchor="end" fill="#1a1a1a" >4</text>
<line x1="24.6" y1="39.4" x2="27.4" y2="39.4" stroke="#333" stroke-width="1"/>
<text x="23.2" y="42.5" font-size="8.8" font-weight="bold" text-anchor="end" fill="#1a1a1a" >5</text>
<text transform="translate(12.2,117.5) rotate(-90)" font-size="9" font-weight="bold" text-anchor="middle" fill="#1a1a1a">ELISA titers ( log<tspan font-size="6" dy="1.5">10</tspan><tspan dy="-1.5"> )</tspan></text>
<text x="209.1" y="226.5" font-size="8.9" font-weight="bold" text-anchor="middle" fill="#1a1a1a" >Days post plasma infusion</text>
<text transform="translate(402.8,17.6) scale(0.86,1)" font-size="22" font-weight="bold" fill="#000">B</text>
<text x="431.6" y="12.1" font-size="10.3" font-weight="bold" text-anchor="start" fill="#1e1e1e" >IgG to S protein for the convalescent plasma group</text>
<rect x="431.4" y="19.8" width="179.1" height="13.7" fill="#e9ecec" stroke="#222" stroke-width="1.1"/>
<text x="520.95" y="29.8" font-size="7.1" font-weight="normal" text-anchor="middle" fill="#222" stroke="#222" stroke-width="0.25">High</text>
<line x1="431.4" y1="204.7" x2="610.5" y2="204.7" stroke="#333" stroke-width="1.1"/>
<line x1="431.4" y1="33.5" x2="431.4" y2="204.7" stroke="#333" stroke-width="1.1"/>
<line x1="452.07" y1="204.7" x2="452.07" y2="207.3" stroke="#333" stroke-width="1"/>
<text x="452.07" y="217.1" font-size="8.8" font-weight="bold" text-anchor="middle" fill="#1a1a1a" >-1</text>
<line x1="486.51" y1="204.7" x2="486.51" y2="207.3" stroke="#333" stroke-width="1"/>
<text x="486.51" y="217.1" font-size="8.8" font-weight="bold" text-anchor="middle" fill="#1a1a1a" >0</text>
<line x1="520.95" y1="204.7" x2="520.95" y2="207.3" stroke="#333" stroke-width="1"/>
<text x="520.95" y="217.1" font-size="8.8" font-weight="bold" text-anchor="middle" fill="#1a1a1a" >14</text>
<line x1="555.39" y1="204.7" x2="555.39" y2="207.3" stroke="#333" stroke-width="1"/>
<text x="555.39" y="217.1" font-size="8.8" font-weight="bold" text-anchor="middle" fill="#1a1a1a" >28</text>
<line x1="589.83" y1="204.7" x2="589.83" y2="207.3" stroke="#333" stroke-width="1"/>
<text x="589.83" y="217.1" font-size="8.8" font-weight="bold" text-anchor="middle" fill="#1a1a1a" >90</text>
<rect x="439.77" y="122.9" width="24.6" height="12.3" fill="#40f07c" stroke="#1a1a1a" stroke-width="1.15"/>
<line x1="439.77" y1="134.5" x2="464.37" y2="134.5" stroke="#111" stroke-width="2.1"/>
<rect x="474.21" y="111.5" width="24.6" height="23.7" fill="#40f07c" stroke="#1a1a1a" stroke-width="1.15"/>
<line x1="474.21" y1="122.9" x2="498.81" y2="122.9" stroke="#111" stroke-width="2.1"/>
<rect x="508.65" y="87.6" width="24.6" height="35.8" fill="#40f07c" stroke="#1a1a1a" stroke-width="1.15"/>
<line x1="508.65" y1="111.5" x2="533.25" y2="111.5" stroke="#111" stroke-width="2.1"/>
<rect x="543.09" y="87.6" width="24.6" height="35.8" fill="#40f07c" stroke="#1a1a1a" stroke-width="1.15"/>
<line x1="543.09" y1="111.5" x2="567.69" y2="111.5" stroke="#111" stroke-width="2.1"/>
<rect x="577.53" y="99.2" width="24.6" height="12.3" fill="#40f07c" stroke="#1a1a1a" stroke-width="1.15"/>
<line x1="577.53" y1="111.5" x2="602.13" y2="111.5" stroke="#111" stroke-width="2.1"/>
<line x1="452.07" y1="112.2" x2="452.07" y2="156.7" stroke="#000" stroke-opacity="0.8" stroke-width="1.1"/>
<line x1="486.51" y1="93.7" x2="486.51" y2="135.2" stroke="#000" stroke-opacity="0.8" stroke-width="1.1"/>
<line x1="520.95" y1="76.4" x2="520.95" y2="144.3" stroke="#000" stroke-opacity="0.8" stroke-width="1.1"/>
<line x1="555.39" y1="76.4" x2="555.39" y2="145.6" stroke="#000" stroke-opacity="0.8" stroke-width="1.1"/>
<line x1="589.83" y1="88.3" x2="589.83" y2="123.4" stroke="#000" stroke-opacity="0.8" stroke-width="1.1"/>
<circle cx="455.06" cy="127.33" r="1.45" fill="#000" fill-opacity="0.85"/>
<circle cx="451.97" cy="147.04" r="1.35" fill="#000" fill-opacity="0.52"/>
<circle cx="451.65" cy="132.9" r="1.35" fill="#000" fill-opacity="0.52"/>
<circle cx="453.84" cy="129.45" r="1.45" fill="#000" fill-opacity="0.85"/>
<circle cx="457.5" cy="124.29" r="1.35" fill="#000" fill-opacity="0.52"/>
<circle cx="451.58" cy="143.87" r="1.35" fill="#000" fill-opacity="0.52"/>
<circle cx="456.87" cy="135.48" r="1.45" fill="#000" fill-opacity="0.85"/>
<circle cx="453.68" cy="155.15" r="1.45" fill="#000" fill-opacity="0.85"/>
<circle cx="452.61" cy="140.32" r="1.35" fill="#000" fill-opacity="0.52"/>
<circle cx="458.31" cy="126.75" r="1.35" fill="#000" fill-opacity="0.52"/>
<circle cx="460.34" cy="129.88" r="1.35" fill="#000" fill-opacity="0.52"/>
<circle cx="456.31" cy="141.8" r="1.35" fill="#000" fill-opacity="0.52"/>
<circle cx="451.5" cy="150.36" r="1.35" fill="#000" fill-opacity="0.52"/>
<circle cx="451.13" cy="137.58" r="1.35" fill="#000" fill-opacity="0.52"/>
<circle cx="453.86" cy="132.66" r="1.45" fill="#000" fill-opacity="0.85"/>
<circle cx="455.22" cy="127.39" r="1.45" fill="#000" fill-opacity="0.85"/>
<circle cx="457.7" cy="126.83" r="1.35" fill="#000" fill-opacity="0.52"/>
<circle cx="453.58" cy="144.99" r="1.45" fill="#000" fill-opacity="0.85"/>
<circle cx="457.37" cy="122.31" r="1.35" fill="#000" fill-opacity="0.52"/>
<circle cx="457.75" cy="115.13" r="1.35" fill="#000" fill-opacity="0.52"/>
<circle cx="452.57" cy="119.9" r="1.45" fill="#000" fill-opacity="0.85"/>
<circle cx="453.85" cy="148.33" r="1.35" fill="#000" fill-opacity="0.52"/>
<circle cx="451.66" cy="140.3" r="1.45" fill="#000" fill-opacity="0.85"/>
<circle cx="453.76" cy="121.32" r="1.35" fill="#000" fill-opacity="0.52"/>
<circle cx="452.45" cy="133.32" r="1.45" fill="#000" fill-opacity="0.85"/>
<circle cx="447.85" cy="128.58" r="1.35" fill="#000" fill-opacity="0.52"/>
<circle cx="460.91" cy="139.71" r="1.45" fill="#000" fill-opacity="0.85"/>
<circle cx="454.61" cy="120.18" r="1.35" fill="#000" fill-opacity="0.52"/>
<circle cx="453.64" cy="136.14" r="1.45" fill="#000" fill-opacity="0.85"/>
<circle cx="459.47" cy="119.78" r="1.45" fill="#000" fill-opacity="0.85"/>
<circle cx="443.07" cy="130.23" r="1.45" fill="#000" fill-opacity="0.85"/>
<circle cx="486.87" cy="104.15" r="1.45" fill="#000" fill-opacity="0.85"/>
<circle cx="492.39" cy="111.69" r="1.45" fill="#000" fill-opacity="0.85"/>
<circle cx="487.8" cy="105.47" r="1.35" fill="#000" fill-opacity="0.52"/>
<circle cx="485.49" cy="135.2" r="1.35" fill="#000" fill-opacity="0.52"/>
<circle cx="485.33" cy="126.36" r="1.35" fill="#000" fill-opacity="0.52"/>
<circle cx="488.72" cy="114.57" r="1.35" fill="#000" fill-opacity="0.52"/>
<circle cx="485.95" cy="125.21" r="1.45" fill="#000" fill-opacity="0.85"/>
<circle cx="483.9" cy="133.69" r="1.35" fill="#000" fill-opacity="0.52"/>
<circle cx="481.97" cy="103.39" r="1.35" fill="#000" fill-opacity="0.52"/>
<circle cx="487.65" cy="120.52" r="1.35" fill="#000" fill-opacity="0.52"/>
<circle cx="492.57" cy="134.97" r="1.35" fill="#000" fill-opacity="0.52"/>
<circle cx="480.44" cy="100.74" r="1.35" fill="#000" fill-opacity="0.52"/>
<circle cx="478.83" cy="130.31" r="1.45" fill="#000" fill-opacity="0.85"/>
<circle cx="484.62" cy="128.65" r="1.35" fill="#000" fill-opacity="0.52"/>
<circle cx="488.1" cy="135.2" r="1.35" fill="#000" fill-opacity="0.52"/>
<circle cx="488.31" cy="130.1" r="1.45" fill="#000" fill-opacity="0.85"/>
<circle cx="489.38" cy="123.94" r="1.45" fill="#000" fill-opacity="0.85"/>
<circle cx="478.36" cy="97.92" r="1.35" fill="#000" fill-opacity="0.52"/>
<circle cx="493.76" cy="111.75" r="1.45" fill="#000" fill-opacity="0.85"/>
<circle cx="487.53" cy="98.14" r="1.45" fill="#000" fill-opacity="0.85"/>
<circle cx="488" cy="133.63" r="1.35" fill="#000" fill-opacity="0.52"/>
<circle cx="480.86" cy="112.93" r="1.45" fill="#000" fill-opacity="0.85"/>
<circle cx="486.04" cy="110.5" r="1.35" fill="#000" fill-opacity="0.52"/>
<circle cx="486.49" cy="99.86" r="1.45" fill="#000" fill-opacity="0.85"/>
<circle cx="482.53" cy="130.22" r="1.35" fill="#000" fill-opacity="0.52"/>
<circle cx="484.18" cy="129.08" r="1.35" fill="#000" fill-opacity="0.52"/>
<circle cx="485.31" cy="109.4" r="1.35" fill="#000" fill-opacity="0.52"/>
<circle cx="485.26" cy="123.3" r="1.35" fill="#000" fill-opacity="0.52"/>
<circle cx="488.44" cy="112.82" r="1.35" fill="#000" fill-opacity="0.52"/>
<circle cx="478.69" cy="112.1" r="1.45" fill="#000" fill-opacity="0.85"/>
<circle cx="483.13" cy="125.99" r="1.35" fill="#000" fill-opacity="0.52"/>
<circle cx="518.78" cy="117.65" r="1.35" fill="#000" fill-opacity="0.52"/>
<circle cx="520.34" cy="111.66" r="1.45" fill="#000" fill-opacity="0.85"/>
<circle cx="519.41" cy="80.49" r="1.35" fill="#000" fill-opacity="0.52"/>
<circle cx="517.08" cy="132.69" r="1.35" fill="#000" fill-opacity="0.52"/>
<circle cx="519.43" cy="103.23" r="1.35" fill="#000" fill-opacity="0.52"/>
<circle cx="524.49" cy="90.62" r="1.45" fill="#000" fill-opacity="0.85"/>
<circle cx="520.45" cy="104.01" r="1.35" fill="#000" fill-opacity="0.52"/>
<circle cx="519.82" cy="107.07" r="1.45" fill="#000" fill-opacity="0.85"/>
<circle cx="520.47" cy="91.13" r="1.35" fill="#000" fill-opacity="0.52"/>
<circle cx="522.15" cy="76.4" r="1.45" fill="#000" fill-opacity="0.85"/>
<circle cx="522.1" cy="90.11" r="1.35" fill="#000" fill-opacity="0.52"/>
<circle cx="518.43" cy="76.4" r="1.35" fill="#000" fill-opacity="0.52"/>
<circle cx="516.43" cy="101.07" r="1.35" fill="#000" fill-opacity="0.52"/>
<circle cx="519.63" cy="82.47" r="1.45" fill="#000" fill-opacity="0.85"/>
<circle cx="525.56" cy="100.49" r="1.35" fill="#000" fill-opacity="0.52"/>
<circle cx="522.99" cy="96.64" r="1.35" fill="#000" fill-opacity="0.52"/>
<circle cx="521.05" cy="131.53" r="1.45" fill="#000" fill-opacity="0.85"/>
<circle cx="525.06" cy="99.55" r="1.35" fill="#000" fill-opacity="0.52"/>
<circle cx="515.28" cy="121.16" r="1.35" fill="#000" fill-opacity="0.52"/>
<circle cx="524.83" cy="133.95" r="1.35" fill="#000" fill-opacity="0.52"/>
<circle cx="523.58" cy="76.4" r="1.45" fill="#000" fill-opacity="0.85"/>
<circle cx="526.25" cy="85.4" r="1.45" fill="#000" fill-opacity="0.85"/>
<circle cx="522.68" cy="98.41" r="1.35" fill="#000" fill-opacity="0.52"/>
<circle cx="525.67" cy="114.78" r="1.35" fill="#000" fill-opacity="0.52"/>
<circle cx="524.98" cy="134.35" r="1.35" fill="#000" fill-opacity="0.52"/>
<circle cx="517.66" cy="137.1" r="1.35" fill="#000" fill-opacity="0.52"/>
<circle cx="519.31" cy="89.8" r="1.35" fill="#000" fill-opacity="0.52"/>
<circle cx="524.53" cy="86.76" r="1.45" fill="#000" fill-opacity="0.85"/>
<circle cx="523.79" cy="91.58" r="1.45" fill="#000" fill-opacity="0.85"/>
<circle cx="523.67" cy="120.07" r="1.35" fill="#000" fill-opacity="0.52"/>
<circle cx="521.23" cy="120.41" r="1.35" fill="#000" fill-opacity="0.52"/>
<circle cx="550.2" cy="104.08" r="1.35" fill="#000" fill-opacity="0.52"/>
<circle cx="546.96" cy="96.28" r="1.45" fill="#000" fill-opacity="0.85"/>
<circle cx="560.11" cy="120.42" r="1.45" fill="#000" fill-opacity="0.85"/>
<circle cx="558.49" cy="123.64" r="1.35" fill="#000" fill-opacity="0.52"/>
<circle cx="547.32" cy="99.42" r="1.45" fill="#000" fill-opacity="0.85"/>
<circle cx="556.17" cy="119.67" r="1.35" fill="#000" fill-opacity="0.52"/>
<circle cx="550.81" cy="101.74" r="1.35" fill="#000" fill-opacity="0.52"/>
<circle cx="551.74" cy="108.67" r="1.35" fill="#000" fill-opacity="0.52"/>
<circle cx="556.97" cy="96.67" r="1.35" fill="#000" fill-opacity="0.52"/>
<circle cx="555.32" cy="92.55" r="1.35" fill="#000" fill-opacity="0.52"/>
<circle cx="556.28" cy="121.7" r="1.35" fill="#000" fill-opacity="0.52"/>
<circle cx="550.77" cy="91.42" r="1.35" fill="#000" fill-opacity="0.52"/>
<circle cx="554.04" cy="93.56" r="1.35" fill="#000" fill-opacity="0.52"/>
<circle cx="555.26" cy="76.4" r="1.45" fill="#000" fill-opacity="0.85"/>
<circle cx="555.8" cy="118.52" r="1.35" fill="#000" fill-opacity="0.52"/>
<circle cx="551.37" cy="139.36" r="1.35" fill="#000" fill-opacity="0.52"/>
<circle cx="551.99" cy="117.66" r="1.35" fill="#000" fill-opacity="0.52"/>
<circle cx="551.75" cy="96.53" r="1.35" fill="#000" fill-opacity="0.52"/>
<circle cx="556.34" cy="107.37" r="1.35" fill="#000" fill-opacity="0.52"/>
<circle cx="550.59" cy="121.78" r="1.35" fill="#000" fill-opacity="0.52"/>
<circle cx="555.23" cy="127.71" r="1.35" fill="#000" fill-opacity="0.52"/>
<circle cx="550.46" cy="119.28" r="1.35" fill="#000" fill-opacity="0.52"/>
<circle cx="554.41" cy="115.34" r="1.45" fill="#000" fill-opacity="0.85"/>
<circle cx="554.95" cy="116.21" r="1.35" fill="#000" fill-opacity="0.52"/>
<circle cx="555.73" cy="121.54" r="1.35" fill="#000" fill-opacity="0.52"/>
<circle cx="551.52" cy="144.27" r="1.45" fill="#000" fill-opacity="0.85"/>
<circle cx="555.99" cy="91.09" r="1.45" fill="#000" fill-opacity="0.85"/>
<circle cx="555.57" cy="130.18" r="1.45" fill="#000" fill-opacity="0.85"/>
<circle cx="556.76" cy="82.5" r="1.45" fill="#000" fill-opacity="0.85"/>
<circle cx="553.93" cy="93.17" r="1.35" fill="#000" fill-opacity="0.52"/>
<circle cx="557.42" cy="132.18" r="1.35" fill="#000" fill-opacity="0.52"/>
<circle cx="594.45" cy="113.91" r="1.35" fill="#000" fill-opacity="0.52"/>
<circle cx="592.49" cy="109.33" r="1.35" fill="#000" fill-opacity="0.52"/>
<circle cx="588.63" cy="88.7" r="1.45" fill="#000" fill-opacity="0.85"/>
<circle cx="592.71" cy="116.99" r="1.35" fill="#000" fill-opacity="0.52"/>
<circle cx="592.65" cy="107.67" r="1.45" fill="#000" fill-opacity="0.85"/>
<circle cx="586.2" cy="100.4" r="1.35" fill="#000" fill-opacity="0.52"/>
<circle cx="590.89" cy="102.62" r="1.35" fill="#000" fill-opacity="0.52"/>
<circle cx="586.38" cy="102.97" r="1.35" fill="#000" fill-opacity="0.52"/>
<circle cx="590.9" cy="121.47" r="1.45" fill="#000" fill-opacity="0.85"/>
<circle cx="595.68" cy="98.29" r="1.35" fill="#000" fill-opacity="0.52"/>
<circle cx="581.6" cy="103.93" r="1.35" fill="#000" fill-opacity="0.52"/>
<circle cx="583.38" cy="99.13" r="1.35" fill="#000" fill-opacity="0.52"/>
<circle cx="587.78" cy="101.52" r="1.35" fill="#000" fill-opacity="0.52"/>
<circle cx="585.1" cy="98.24" r="1.45" fill="#000" fill-opacity="0.85"/>
<circle cx="592.2" cy="98.78" r="1.35" fill="#000" fill-opacity="0.52"/>
<circle cx="593.3" cy="89.78" r="1.35" fill="#000" fill-opacity="0.52"/>
<circle cx="588.73" cy="96.5" r="1.35" fill="#000" fill-opacity="0.52"/>
<circle cx="597.17" cy="120.37" r="1.35" fill="#000" fill-opacity="0.52"/>
<circle cx="587.59" cy="95.92" r="1.45" fill="#000" fill-opacity="0.85"/>
<circle cx="590.35" cy="121" r="1.35" fill="#000" fill-opacity="0.52"/>
<circle cx="590.62" cy="112.95" r="1.35" fill="#000" fill-opacity="0.52"/>
<circle cx="592.64" cy="104.44" r="1.45" fill="#000" fill-opacity="0.85"/>
<circle cx="590.37" cy="115.4" r="1.35" fill="#000" fill-opacity="0.52"/>
<circle cx="594.81" cy="106.62" r="1.35" fill="#000" fill-opacity="0.52"/>
<circle cx="592.14" cy="106.71" r="1.45" fill="#000" fill-opacity="0.85"/>
<circle cx="454.08" cy="156.7" r="1.45" fill="#000" fill-opacity="0.85"/>
<circle cx="588.46" cy="76" r="1.45" fill="#000" fill-opacity="0.85"/>
<polyline points="452.07,132 486.51,119.7 520.95,105.6 555.39,105.6 589.83,105.6" fill="none" stroke="#a3a8ad" stroke-opacity="0.85" stroke-width="2.3" stroke-linejoin="round"/>
<circle cx="452.07" cy="132" r="1.5" fill="#777" stroke="#111" stroke-width="1.1"/>
<circle cx="486.51" cy="119.7" r="1.5" fill="#777" stroke="#111" stroke-width="1.1"/>
<circle cx="520.95" cy="105.6" r="1.5" fill="#777" stroke="#111" stroke-width="1.1"/>
<circle cx="555.39" cy="105.6" r="1.5" fill="#777" stroke="#111" stroke-width="1.1"/>
<circle cx="589.83" cy="105.6" r="1.5" fill="#777" stroke="#111" stroke-width="1.1"/>
<path d="M452.07,87.9 V83.9 H486.51 V87.9" fill="none" stroke="#2a2a2a" stroke-width="1.05"/>
<text x="469.29" y="82.9" font-size="8.6" font-weight="normal" text-anchor="middle" fill="#222" stroke="#222" stroke-width="0.55">**</text>
<path d="M486.51,80 V76 H520.95 V80" fill="none" stroke="#2a2a2a" stroke-width="1.05"/>
<text x="503.73" y="75" font-size="8.6" font-weight="normal" text-anchor="middle" fill="#222" stroke="#222" stroke-width="0.55">*</text>
<path d="M520.95,71.8 V67.8 H555.39 V71.8" fill="none" stroke="#2a2a2a" stroke-width="1.05"/>
<text x="538.17" y="66.2" font-size="8" font-weight="normal" text-anchor="middle" fill="#222" stroke="#222" stroke-width="0.3">ns</text>
<path d="M555.39,65.1 V61.1 H589.83 V65.1" fill="none" stroke="#2a2a2a" stroke-width="1.05"/>
<text x="572.61" y="59.5" font-size="8" font-weight="normal" text-anchor="middle" fill="#222" stroke="#222" stroke-width="0.3">ns</text>
<path d="M486.51,57 V53 H589.83 V57" fill="none" stroke="#2a2a2a" stroke-width="1.05"/>
<text x="538.17" y="52" font-size="8.6" font-weight="normal" text-anchor="middle" fill="#222" stroke="#222" stroke-width="0.55">**</text>
<text x="440.4" y="41.4" font-size="8.3" font-weight="normal" text-anchor="start" fill="#111" stroke="#111" stroke-width="0.25">Kruskal-Wallis, p = 6e-08</text>
<rect x="615.2" y="19.8" width="179.3" height="13.7" fill="#e9ecec" stroke="#222" stroke-width="1.1"/>
<text x="704.85" y="29.8" font-size="7.1" font-weight="normal" text-anchor="middle" fill="#222" stroke="#222" stroke-width="0.25">Low</text>
<line x1="615.2" y1="204.7" x2="794.5" y2="204.7" stroke="#333" stroke-width="1.1"/>
<line x1="635.89" y1="204.7" x2="635.89" y2="207.3" stroke="#333" stroke-width="1"/>
<text x="635.89" y="217.1" font-size="8.8" font-weight="bold" text-anchor="middle" fill="#1a1a1a" >-1</text>
<line x1="670.37" y1="204.7" x2="670.37" y2="207.3" stroke="#333" stroke-width="1"/>
<text x="670.37" y="217.1" font-size="8.8" font-weight="bold" text-anchor="middle" fill="#1a1a1a" >0</text>
<line x1="704.85" y1="204.7" x2="704.85" y2="207.3" stroke="#333" stroke-width="1"/>
<text x="704.85" y="217.1" font-size="8.8" font-weight="bold" text-anchor="middle" fill="#1a1a1a" >14</text>
<line x1="739.33" y1="204.7" x2="739.33" y2="207.3" stroke="#333" stroke-width="1"/>
<text x="739.33" y="217.1" font-size="8.8" font-weight="bold" text-anchor="middle" fill="#1a1a1a" >28</text>
<line x1="773.81" y1="204.7" x2="773.81" y2="207.3" stroke="#333" stroke-width="1"/>
<text x="773.81" y="217.1" font-size="8.8" font-weight="bold" text-anchor="middle" fill="#1a1a1a" >90</text>
<rect x="623.59" y="111.5" width="24.6" height="11.9" fill="#e6ea0a" stroke="#1a1a1a" stroke-width="1.15"/>
<line x1="623.59" y1="122.9" x2="648.19" y2="122.9" stroke="#111" stroke-width="2.1"/>
<rect x="658.07" y="111.5" width="24.6" height="11.9" fill="#e6ea0a" stroke="#1a1a1a" stroke-width="1.15"/>
<line x1="658.07" y1="122.9" x2="682.67" y2="122.9" stroke="#111" stroke-width="2.1"/>
<rect x="692.55" y="87.6" width="24.6" height="23.9" fill="#e6ea0a" stroke="#1a1a1a" stroke-width="1.15"/>
<line x1="692.55" y1="99.2" x2="717.15" y2="99.2" stroke="#111" stroke-width="2.1"/>
<rect x="727.03" y="87.6" width="24.6" height="23.9" fill="#e6ea0a" stroke="#1a1a1a" stroke-width="1.15"/>
<line x1="727.03" y1="99.2" x2="751.63" y2="99.2" stroke="#111" stroke-width="2.1"/>
<rect x="761.51" y="85.1" width="24.6" height="26.4" fill="#e6ea0a" stroke="#1a1a1a" stroke-width="1.15"/>
<line x1="761.51" y1="93.2" x2="786.11" y2="93.2" stroke="#111" stroke-width="2.1"/>
<line x1="635.89" y1="96.2" x2="635.89" y2="138.2" stroke="#000" stroke-opacity="0.8" stroke-width="1.1"/>
<line x1="670.37" y1="99.2" x2="670.37" y2="135.7" stroke="#000" stroke-opacity="0.8" stroke-width="1.1"/>
<line x1="704.85" y1="71.5" x2="704.85" y2="133.2" stroke="#000" stroke-opacity="0.8" stroke-width="1.1"/>
<line x1="739.33" y1="70.3" x2="739.33" y2="134.5" stroke="#000" stroke-opacity="0.8" stroke-width="1.1"/>
<line x1="773.81" y1="64.1" x2="773.81" y2="133.2" stroke="#000" stroke-opacity="0.8" stroke-width="1.1"/>
<circle cx="638.53" cy="112.11" r="1.45" fill="#000" fill-opacity="0.85"/>
<circle cx="635.82" cy="122.68" r="1.45" fill="#000" fill-opacity="0.85"/>
<circle cx="638.74" cy="129.27" r="1.35" fill="#000" fill-opacity="0.52"/>
<circle cx="636.87" cy="123.51" r="1.35" fill="#000" fill-opacity="0.52"/>
<circle cx="636.02" cy="116.63" r="1.35" fill="#000" fill-opacity="0.52"/>
<circle cx="631.95" cy="118.49" r="1.35" fill="#000" fill-opacity="0.52"/>
<circle cx="638.72" cy="130.59" r="1.45" fill="#000" fill-opacity="0.85"/>
<circle cx="636.56" cy="116.51" r="1.45" fill="#000" fill-opacity="0.85"/>
<circle cx="638.78" cy="119.5" r="1.35" fill="#000" fill-opacity="0.52"/>
<circle cx="632.83" cy="98.9" r="1.35" fill="#000" fill-opacity="0.52"/>
<circle cx="642.47" cy="127.43" r="1.45" fill="#000" fill-opacity="0.85"/>
<circle cx="628.53" cy="108.86" r="1.35" fill="#000" fill-opacity="0.52"/>
<circle cx="636.6" cy="114.43" r="1.35" fill="#000" fill-opacity="0.52"/>
<circle cx="638.72" cy="105.51" r="1.35" fill="#000" fill-opacity="0.52"/>
<circle cx="636.59" cy="134.19" r="1.35" fill="#000" fill-opacity="0.52"/>
<circle cx="630.07" cy="119.38" r="1.35" fill="#000" fill-opacity="0.52"/>
<circle cx="639.8" cy="98.54" r="1.35" fill="#000" fill-opacity="0.52"/>
<circle cx="640.92" cy="108.75" r="1.35" fill="#000" fill-opacity="0.52"/>
<circle cx="634.58" cy="100.63" r="1.45" fill="#000" fill-opacity="0.85"/>
<circle cx="637.26" cy="121.18" r="1.45" fill="#000" fill-opacity="0.85"/>
<circle cx="638.33" cy="96.73" r="1.35" fill="#000" fill-opacity="0.52"/>
<circle cx="637.84" cy="129.53" r="1.45" fill="#000" fill-opacity="0.85"/>
<circle cx="637.48" cy="132.6" r="1.35" fill="#000" fill-opacity="0.52"/>
<circle cx="642.47" cy="115.54" r="1.35" fill="#000" fill-opacity="0.52"/>
<circle cx="632.11" cy="112.95" r="1.35" fill="#000" fill-opacity="0.52"/>
<circle cx="641.87" cy="102.2" r="1.45" fill="#000" fill-opacity="0.85"/>
<circle cx="631.19" cy="115.9" r="1.45" fill="#000" fill-opacity="0.85"/>
<circle cx="634.01" cy="107.39" r="1.45" fill="#000" fill-opacity="0.85"/>
<circle cx="637.05" cy="110.25" r="1.45" fill="#000" fill-opacity="0.85"/>
<circle cx="643.36" cy="112.6" r="1.45" fill="#000" fill-opacity="0.85"/>
<circle cx="640.35" cy="98.59" r="1.45" fill="#000" fill-opacity="0.85"/>
<circle cx="635.23" cy="112.53" r="1.45" fill="#000" fill-opacity="0.85"/>
<circle cx="644.89" cy="121.52" r="1.35" fill="#000" fill-opacity="0.52"/>
<circle cx="633.91" cy="116.37" r="1.45" fill="#000" fill-opacity="0.85"/>
<circle cx="643.73" cy="108.53" r="1.35" fill="#000" fill-opacity="0.52"/>
<circle cx="632.64" cy="119.18" r="1.45" fill="#000" fill-opacity="0.85"/>
<circle cx="631.85" cy="120.72" r="1.45" fill="#000" fill-opacity="0.85"/>
<circle cx="634.49" cy="120.68" r="1.35" fill="#000" fill-opacity="0.52"/>
<circle cx="641.79" cy="121.39" r="1.35" fill="#000" fill-opacity="0.52"/>
<circle cx="636.66" cy="119.48" r="1.35" fill="#000" fill-opacity="0.52"/>
<circle cx="638.44" cy="116.9" r="1.35" fill="#000" fill-opacity="0.52"/>
<circle cx="633.67" cy="130.29" r="1.45" fill="#000" fill-opacity="0.85"/>
<circle cx="634.62" cy="113.34" r="1.35" fill="#000" fill-opacity="0.52"/>
<circle cx="632.7" cy="119.27" r="1.35" fill="#000" fill-opacity="0.52"/>
<circle cx="678.67" cy="117.2" r="1.35" fill="#000" fill-opacity="0.52"/>
<circle cx="671.18" cy="108.92" r="1.45" fill="#000" fill-opacity="0.85"/>
<circle cx="672.26" cy="112.6" r="1.35" fill="#000" fill-opacity="0.52"/>
<circle cx="666.27" cy="121.91" r="1.35" fill="#000" fill-opacity="0.52"/>
<circle cx="668.83" cy="116.72" r="1.35" fill="#000" fill-opacity="0.52"/>
<circle cx="669.47" cy="107.73" r="1.35" fill="#000" fill-opacity="0.52"/>
<circle cx="676.95" cy="112.31" r="1.35" fill="#000" fill-opacity="0.52"/>
<circle cx="665.74" cy="107.83" r="1.45" fill="#000" fill-opacity="0.85"/>
<circle cx="669.47" cy="107.37" r="1.45" fill="#000" fill-opacity="0.85"/>
<circle cx="677.37" cy="117.42" r="1.45" fill="#000" fill-opacity="0.85"/>
<circle cx="667.99" cy="116.33" r="1.45" fill="#000" fill-opacity="0.85"/>
<circle cx="668.23" cy="111.61" r="1.35" fill="#000" fill-opacity="0.52"/>
<circle cx="665.95" cy="123.32" r="1.45" fill="#000" fill-opacity="0.85"/>
<circle cx="670.55" cy="111.08" r="1.45" fill="#000" fill-opacity="0.85"/>
<circle cx="671.52" cy="115.02" r="1.35" fill="#000" fill-opacity="0.52"/>
<circle cx="664.72" cy="104.57" r="1.45" fill="#000" fill-opacity="0.85"/>
<circle cx="667.59" cy="133.42" r="1.35" fill="#000" fill-opacity="0.52"/>
<circle cx="666.45" cy="120.98" r="1.35" fill="#000" fill-opacity="0.52"/>
<circle cx="668.88" cy="127.56" r="1.35" fill="#000" fill-opacity="0.52"/>
<circle cx="677.19" cy="120.86" r="1.35" fill="#000" fill-opacity="0.52"/>
<circle cx="669.56" cy="130.14" r="1.45" fill="#000" fill-opacity="0.85"/>
<circle cx="668.05" cy="129.63" r="1.45" fill="#000" fill-opacity="0.85"/>
<circle cx="667.69" cy="113.99" r="1.35" fill="#000" fill-opacity="0.52"/>
<circle cx="672.21" cy="111.6" r="1.45" fill="#000" fill-opacity="0.85"/>
<circle cx="669.12" cy="126.65" r="1.35" fill="#000" fill-opacity="0.52"/>
<circle cx="676.27" cy="128.74" r="1.45" fill="#000" fill-opacity="0.85"/>
<circle cx="665.12" cy="108.9" r="1.35" fill="#000" fill-opacity="0.52"/>
<circle cx="668.1" cy="105.59" r="1.35" fill="#000" fill-opacity="0.52"/>
<circle cx="669.85" cy="111.73" r="1.35" fill="#000" fill-opacity="0.52"/>
<circle cx="675.53" cy="114.78" r="1.45" fill="#000" fill-opacity="0.85"/>
<circle cx="669.13" cy="123.7" r="1.45" fill="#000" fill-opacity="0.85"/>
<circle cx="669.91" cy="114.45" r="1.45" fill="#000" fill-opacity="0.85"/>
<circle cx="674.11" cy="115.96" r="1.45" fill="#000" fill-opacity="0.85"/>
<circle cx="672.87" cy="123.24" r="1.35" fill="#000" fill-opacity="0.52"/>
<circle cx="668.88" cy="120.01" r="1.35" fill="#000" fill-opacity="0.52"/>
<circle cx="665.37" cy="114.51" r="1.35" fill="#000" fill-opacity="0.52"/>
<circle cx="670.5" cy="115.24" r="1.35" fill="#000" fill-opacity="0.52"/>
<circle cx="669.86" cy="121.27" r="1.35" fill="#000" fill-opacity="0.52"/>
<circle cx="704.55" cy="86.22" r="1.35" fill="#000" fill-opacity="0.52"/>
<circle cx="713.85" cy="92.57" r="1.45" fill="#000" fill-opacity="0.85"/>
<circle cx="711.88" cy="81.28" r="1.35" fill="#000" fill-opacity="0.52"/>
<circle cx="701.73" cy="108.51" r="1.35" fill="#000" fill-opacity="0.52"/>
<circle cx="706.34" cy="107.12" r="1.35" fill="#000" fill-opacity="0.52"/>
<circle cx="703.01" cy="126.71" r="1.35" fill="#000" fill-opacity="0.52"/>
<circle cx="707.88" cy="123.94" r="1.35" fill="#000" fill-opacity="0.52"/>
<circle cx="698.6" cy="98.29" r="1.35" fill="#000" fill-opacity="0.52"/>
<circle cx="699.03" cy="103.27" r="1.35" fill="#000" fill-opacity="0.52"/>
<circle cx="704.59" cy="100.25" r="1.35" fill="#000" fill-opacity="0.52"/>
<circle cx="704.98" cy="71.69" r="1.35" fill="#000" fill-opacity="0.52"/>
<circle cx="697.31" cy="104.18" r="1.35" fill="#000" fill-opacity="0.52"/>
<circle cx="706.09" cy="88.06" r="1.35" fill="#000" fill-opacity="0.52"/>
<circle cx="707.92" cy="88.86" r="1.35" fill="#000" fill-opacity="0.52"/>
<circle cx="697.65" cy="104.43" r="1.35" fill="#000" fill-opacity="0.52"/>
<circle cx="707.81" cy="103.27" r="1.45" fill="#000" fill-opacity="0.85"/>
<circle cx="704.05" cy="95.49" r="1.35" fill="#000" fill-opacity="0.52"/>
<circle cx="698.81" cy="111.03" r="1.35" fill="#000" fill-opacity="0.52"/>
<circle cx="708.57" cy="78.18" r="1.45" fill="#000" fill-opacity="0.85"/>
<circle cx="703.08" cy="87.85" r="1.35" fill="#000" fill-opacity="0.52"/>
<circle cx="709.44" cy="104.73" r="1.35" fill="#000" fill-opacity="0.52"/>
<circle cx="704.8" cy="95.53" r="1.35" fill="#000" fill-opacity="0.52"/>
<circle cx="712.29" cy="83.88" r="1.35" fill="#000" fill-opacity="0.52"/>
<circle cx="706.99" cy="108.1" r="1.35" fill="#000" fill-opacity="0.52"/>
<circle cx="701.34" cy="79.56" r="1.35" fill="#000" fill-opacity="0.52"/>
<circle cx="741.28" cy="85.4" r="1.35" fill="#000" fill-opacity="0.52"/>
<circle cx="738.01" cy="79.92" r="1.45" fill="#000" fill-opacity="0.85"/>
<circle cx="738.37" cy="119.68" r="1.35" fill="#000" fill-opacity="0.52"/>
<circle cx="735.75" cy="112.65" r="1.35" fill="#000" fill-opacity="0.52"/>
<circle cx="737.38" cy="127.32" r="1.45" fill="#000" fill-opacity="0.85"/>
<circle cx="736.88" cy="102.57" r="1.45" fill="#000" fill-opacity="0.85"/>
<circle cx="739.26" cy="109.02" r="1.35" fill="#000" fill-opacity="0.52"/>
<circle cx="743.11" cy="111.16" r="1.35" fill="#000" fill-opacity="0.52"/>
<circle cx="739.21" cy="102.49" r="1.35" fill="#000" fill-opacity="0.52"/>
<circle cx="739.02" cy="107.93" r="1.35" fill="#000" fill-opacity="0.52"/>
<circle cx="739.4" cy="85.76" r="1.45" fill="#000" fill-opacity="0.85"/>
<circle cx="744.3" cy="104.42" r="1.35" fill="#000" fill-opacity="0.52"/>
<circle cx="742.88" cy="99.29" r="1.45" fill="#000" fill-opacity="0.85"/>
<circle cx="741.54" cy="114.83" r="1.35" fill="#000" fill-opacity="0.52"/>
<circle cx="743.39" cy="122.08" r="1.45" fill="#000" fill-opacity="0.85"/>
<circle cx="736" cy="100.79" r="1.35" fill="#000" fill-opacity="0.52"/>
<circle cx="741.95" cy="103.7" r="1.45" fill="#000" fill-opacity="0.85"/>
<circle cx="736.91" cy="107.68" r="1.35" fill="#000" fill-opacity="0.52"/>
<circle cx="743.21" cy="109.21" r="1.35" fill="#000" fill-opacity="0.52"/>
<circle cx="737.24" cy="90.43" r="1.45" fill="#000" fill-opacity="0.85"/>
<circle cx="737.36" cy="125.17" r="1.35" fill="#000" fill-opacity="0.52"/>
<circle cx="737.62" cy="122.68" r="1.35" fill="#000" fill-opacity="0.52"/>
<circle cx="742.03" cy="113.48" r="1.35" fill="#000" fill-opacity="0.52"/>
<circle cx="738.45" cy="84.51" r="1.35" fill="#000" fill-opacity="0.52"/>
<circle cx="740.08" cy="101.4" r="1.45" fill="#000" fill-opacity="0.85"/>
<circle cx="777.75" cy="89.66" r="1.45" fill="#000" fill-opacity="0.85"/>
<circle cx="777.33" cy="127.81" r="1.35" fill="#000" fill-opacity="0.52"/>
<circle cx="775.6" cy="108.1" r="1.35" fill="#000" fill-opacity="0.52"/>
<circle cx="773.89" cy="100.76" r="1.45" fill="#000" fill-opacity="0.85"/>
<circle cx="779.29" cy="106.11" r="1.35" fill="#000" fill-opacity="0.52"/>
<circle cx="773.35" cy="102.16" r="1.45" fill="#000" fill-opacity="0.85"/>
<circle cx="772.2" cy="72.93" r="1.35" fill="#000" fill-opacity="0.52"/>
<circle cx="775.73" cy="119.72" r="1.35" fill="#000" fill-opacity="0.52"/>
<circle cx="776.32" cy="107.72" r="1.35" fill="#000" fill-opacity="0.52"/>
<circle cx="774.41" cy="96.18" r="1.45" fill="#000" fill-opacity="0.85"/>
<circle cx="777.94" cy="82.12" r="1.35" fill="#000" fill-opacity="0.52"/>
<circle cx="775.92" cy="92.21" r="1.35" fill="#000" fill-opacity="0.52"/>
<circle cx="772.41" cy="102.57" r="1.35" fill="#000" fill-opacity="0.52"/>
<circle cx="780.29" cy="95.66" r="1.35" fill="#000" fill-opacity="0.52"/>
<circle cx="772.4" cy="103.33" r="1.45" fill="#000" fill-opacity="0.85"/>
<circle cx="775.79" cy="109.37" r="1.35" fill="#000" fill-opacity="0.52"/>
<circle cx="770.48" cy="89.8" r="1.35" fill="#000" fill-opacity="0.52"/>
<circle cx="776.82" cy="93.98" r="1.45" fill="#000" fill-opacity="0.85"/>
<circle cx="773.17" cy="102.47" r="1.35" fill="#000" fill-opacity="0.52"/>
<circle cx="770.78" cy="117.65" r="1.35" fill="#000" fill-opacity="0.52"/>
<circle cx="773.66" cy="73.23" r="1.35" fill="#000" fill-opacity="0.52"/>
<circle cx="774.73" cy="88.38" r="1.35" fill="#000" fill-opacity="0.52"/>
<circle cx="773.88" cy="112.42" r="1.35" fill="#000" fill-opacity="0.52"/>
<circle cx="781.17" cy="76.65" r="1.45" fill="#000" fill-opacity="0.85"/>
<circle cx="773.56" cy="114.82" r="1.45" fill="#000" fill-opacity="0.85"/>
<circle cx="632.51" cy="85" r="1.45" fill="#000" fill-opacity="0.85"/>
<circle cx="667.35" cy="85" r="1.45" fill="#000" fill-opacity="0.85"/>
<polyline points="635.89,116.4 670.37,116.4 704.85,99.2 739.33,99.2 773.81,96.2" fill="none" stroke="#a3a8ad" stroke-opacity="0.85" stroke-width="2.3" stroke-linejoin="round"/>
<circle cx="635.89" cy="116.4" r="1.5" fill="#777" stroke="#111" stroke-width="1.1"/>
<circle cx="670.37" cy="116.4" r="1.5" fill="#777" stroke="#111" stroke-width="1.1"/>
<circle cx="704.85" cy="99.2" r="1.5" fill="#777" stroke="#111" stroke-width="1.1"/>
<circle cx="739.33" cy="99.2" r="1.5" fill="#777" stroke="#111" stroke-width="1.1"/>
<circle cx="773.81" cy="96.2" r="1.5" fill="#777" stroke="#111" stroke-width="1.1"/>
<path d="M635.89,87.9 V83.9 H670.37 V87.9" fill="none" stroke="#2a2a2a" stroke-width="1.05"/>
<text x="653.13" y="82.3" font-size="8" font-weight="normal" text-anchor="middle" fill="#222" stroke="#222" stroke-width="0.3">ns</text>
<path d="M670.37,80 V76 H704.85 V80" fill="none" stroke="#2a2a2a" stroke-width="1.05"/>
<text x="687.61" y="75" font-size="8.6" font-weight="normal" text-anchor="middle" fill="#222" stroke="#222" stroke-width="0.55">**</text>
<path d="M704.85,71.8 V67.8 H739.33 V71.8" fill="none" stroke="#2a2a2a" stroke-width="1.05"/>
<text x="722.09" y="66.2" font-size="8" font-weight="normal" text-anchor="middle" fill="#222" stroke="#222" stroke-width="0.3">ns</text>
<path d="M739.33,65.1 V61.1 H773.81 V65.1" fill="none" stroke="#2a2a2a" stroke-width="1.05"/>
<text x="756.57" y="59.5" font-size="8" font-weight="normal" text-anchor="middle" fill="#222" stroke="#222" stroke-width="0.3">ns</text>
<path d="M670.37,57 V53 H773.81 V57" fill="none" stroke="#2a2a2a" stroke-width="1.05"/>
<text x="722.09" y="52" font-size="8.6" font-weight="normal" text-anchor="middle" fill="#222" stroke="#222" stroke-width="0.55">***</text>
<text x="623.5" y="41.4" font-size="8.3" font-weight="normal" text-anchor="start" fill="#111" stroke="#111" stroke-width="0.25">Kruskal-Wallis, p = 2.2e-05</text>
<line x1="428.6" y1="196.6" x2="431.4" y2="196.6" stroke="#333" stroke-width="1"/>
<text x="427.2" y="199.7" font-size="8.8" font-weight="bold" text-anchor="end" fill="#1a1a1a" >1</text>
<line x1="428.6" y1="157.8" x2="431.4" y2="157.8" stroke="#333" stroke-width="1"/>
<text x="427.2" y="160.9" font-size="8.8" font-weight="bold" text-anchor="end" fill="#1a1a1a" >2</text>
<line x1="428.6" y1="119" x2="431.4" y2="119" stroke="#333" stroke-width="1"/>
<text x="427.2" y="122.1" font-size="8.8" font-weight="bold" text-anchor="end" fill="#1a1a1a" >3</text>
<line x1="428.6" y1="80.2" x2="431.4" y2="80.2" stroke="#333" stroke-width="1"/>
<text x="427.2" y="83.3" font-size="8.8" font-weight="bold" text-anchor="end" fill="#1a1a1a" >4</text>
<line x1="428.6" y1="41.4" x2="431.4" y2="41.4" stroke="#333" stroke-width="1"/>
<text x="427.2" y="44.5" font-size="8.8" font-weight="bold" text-anchor="end" fill="#1a1a1a" >5</text>
<text transform="translate(416.2,119.1) rotate(-90)" font-size="9" font-weight="bold" text-anchor="middle" fill="#1a1a1a">ELISA titers ( log<tspan font-size="6" dy="1.5">10</tspan><tspan dy="-1.5"> )</tspan></text>
<text x="612.95" y="227.9" font-size="8.9" font-weight="bold" text-anchor="middle" fill="#1a1a1a" >Days post plasma infusion</text>
<text transform="translate(5.8,256.3) scale(0.97,1)" font-size="22" font-weight="bold" fill="#000">C</text>
<text x="26.5" y="246.3" font-size="10.3" font-weight="bold" text-anchor="start" fill="#1e1e1e" >IgA to N protein for the convalescent plasma group</text>
<rect x="26.2" y="253.5" width="178.8" height="14.2" fill="#e9ecec" stroke="#222" stroke-width="1.1"/>
<text x="115.6" y="264" font-size="7.1" font-weight="normal" text-anchor="middle" fill="#222" stroke="#222" stroke-width="0.25">High</text>
<line x1="26.2" y1="439.1" x2="205" y2="439.1" stroke="#333" stroke-width="1.1"/>
<line x1="26.2" y1="267.7" x2="26.2" y2="439.1" stroke="#333" stroke-width="1.1"/>
<line x1="46.83" y1="439.1" x2="46.83" y2="441.7" stroke="#333" stroke-width="1"/>
<text x="46.83" y="451.5" font-size="8.8" font-weight="bold" text-anchor="middle" fill="#1a1a1a" >-1</text>
<line x1="81.22" y1="439.1" x2="81.22" y2="441.7" stroke="#333" stroke-width="1"/>
<text x="81.22" y="451.5" font-size="8.8" font-weight="bold" text-anchor="middle" fill="#1a1a1a" >0</text>
<line x1="115.6" y1="439.1" x2="115.6" y2="441.7" stroke="#333" stroke-width="1"/>
<text x="115.6" y="451.5" font-size="8.8" font-weight="bold" text-anchor="middle" fill="#1a1a1a" >14</text>
<line x1="149.98" y1="439.1" x2="149.98" y2="441.7" stroke="#333" stroke-width="1"/>
<text x="149.98" y="451.5" font-size="8.8" font-weight="bold" text-anchor="middle" fill="#1a1a1a" >28</text>
<line x1="184.37" y1="439.1" x2="184.37" y2="441.7" stroke="#333" stroke-width="1"/>
<text x="184.37" y="451.5" font-size="8.8" font-weight="bold" text-anchor="middle" fill="#1a1a1a" >90</text>
<rect x="34.53" y="411.2" width="24.6" height="19.7" fill="#40f07c" stroke="#1a1a1a" stroke-width="1.15"/>
<line x1="34.53" y1="430.9" x2="59.13" y2="430.9" stroke="#111" stroke-width="2.1"/>
<rect x="68.92" y="331.4" width="24.6" height="11.6" fill="#40f07c" stroke="#1a1a1a" stroke-width="1.15"/>
<line x1="68.92" y1="340.8" x2="93.52" y2="340.8" stroke="#111" stroke-width="2.1"/>
<rect x="103.3" y="329" width="24.6" height="33.3" fill="#40f07c" stroke="#1a1a1a" stroke-width="1.15"/>
<line x1="103.3" y1="345.5" x2="127.9" y2="345.5" stroke="#111" stroke-width="2.1"/>
<rect x="137.68" y="357.4" width="24.6" height="73.5" fill="#40f07c" stroke="#1a1a1a" stroke-width="1.15"/>
<line x1="137.68" y1="394.9" x2="162.28" y2="394.9" stroke="#111" stroke-width="2.1"/>
<line x1="172.07" y1="430.9" x2="196.67" y2="430.9" stroke="#111" stroke-width="2.1"/>
<line x1="81.22" y1="312.9" x2="81.22" y2="353.7" stroke="#000" stroke-opacity="0.8" stroke-width="1.1"/>
<line x1="115.6" y1="322.8" x2="115.6" y2="368.5" stroke="#000" stroke-opacity="0.8" stroke-width="1.1"/>
<line x1="149.98" y1="351.2" x2="149.98" y2="357.4" stroke="#000" stroke-opacity="0.8" stroke-width="1.1"/>
<circle cx="46.04" cy="418.55" r="1.35" fill="#000" fill-opacity="0.52"/>
<circle cx="47.56" cy="414.74" r="1.35" fill="#000" fill-opacity="0.52"/>
<circle cx="78.37" cy="336.36" r="1.35" fill="#000" fill-opacity="0.52"/>
<circle cx="88.42" cy="327.14" r="1.35" fill="#000" fill-opacity="0.52"/>
<circle cx="88.4" cy="337.26" r="1.35" fill="#000" fill-opacity="0.52"/>
<circle cx="81.28" cy="339.96" r="1.35" fill="#000" fill-opacity="0.52"/>
<circle cx="86.65" cy="339.76" r="1.45" fill="#000" fill-opacity="0.85"/>
<circle cx="112.36" cy="340.79" r="1.35" fill="#000" fill-opacity="0.52"/>
<circle cx="123.36" cy="335.65" r="1.35" fill="#000" fill-opacity="0.52"/>
<circle cx="120.52" cy="354.41" r="1.35" fill="#000" fill-opacity="0.52"/>
<circle cx="114.39" cy="351.5" r="1.35" fill="#000" fill-opacity="0.52"/>
<circle cx="106.9" cy="347.13" r="1.45" fill="#000" fill-opacity="0.85"/>
<circle cx="149.33" cy="352.59" r="1.35" fill="#000" fill-opacity="0.52"/>
<circle cx="140.98" cy="359.54" r="1.35" fill="#000" fill-opacity="0.52"/>
<circle cx="147.1" cy="359.17" r="1.45" fill="#000" fill-opacity="0.85"/>
<circle cx="150.97" cy="364.34" r="1.45" fill="#000" fill-opacity="0.85"/>
<circle cx="187.49" cy="430.9" r="1.45" fill="#000" fill-opacity="0.85"/>
<circle cx="44.25" cy="350" r="1.45" fill="#000" fill-opacity="0.85"/>
<circle cx="81.37" cy="303" r="1.45" fill="#000" fill-opacity="0.85"/>
<circle cx="80.67" cy="305.5" r="1.45" fill="#000" fill-opacity="0.85"/>
<circle cx="51.19" cy="428.5" r="1.45" fill="#000" fill-opacity="0.85"/>
<circle cx="45.35" cy="411" r="1.45" fill="#000" fill-opacity="0.85"/>
<polyline points="46.83,411.2 81.22,340 115.6,345 149.98,393 184.37,431" fill="none" stroke="#a3a8ad" stroke-opacity="0.85" stroke-width="2.3" stroke-linejoin="round"/>
<circle cx="46.83" cy="411.2" r="1.8" fill="#777" stroke="#111" stroke-width="1.4"/>
<circle cx="81.22" cy="340" r="1.8" fill="#777" stroke="#111" stroke-width="1.4"/>
<circle cx="115.6" cy="345" r="1.8" fill="#777" stroke="#111" stroke-width="1.4"/>
<circle cx="149.98" cy="393" r="1.8" fill="#777" stroke="#111" stroke-width="1.4"/>
<circle cx="184.37" cy="431" r="1.8" fill="#777" stroke="#111" stroke-width="1.4"/>
<path d="M46.83,298.4 V294.4 H81.22 V298.4" fill="none" stroke="#2a2a2a" stroke-width="1.05"/>
<text x="64.02" y="293.4" font-size="8.6" font-weight="normal" text-anchor="middle" fill="#222" stroke="#222" stroke-width="0.55">*</text>
<path d="M81.22,292.2 V288.2 H115.6 V292.2" fill="none" stroke="#2a2a2a" stroke-width="1.05"/>
<text x="98.41" y="286.6" font-size="8" font-weight="normal" text-anchor="middle" fill="#222" stroke="#222" stroke-width="0.3">ns</text>
<path d="M115.6,285.6 V281.6 H149.98 V285.6" fill="none" stroke="#2a2a2a" stroke-width="1.05"/>
<text x="132.79" y="280" font-size="8" font-weight="normal" text-anchor="middle" fill="#222" stroke="#222" stroke-width="0.3">ns</text>
<text x="35.4" y="275.4" font-size="8.3" font-weight="normal" text-anchor="start" fill="#111" stroke="#111" stroke-width="0.25">Kruskal-Wallis, p = 0.022</text>
<rect x="209.9" y="253.5" width="179.1" height="14.2" fill="#e9ecec" stroke="#222" stroke-width="1.1"/>
<text x="299.45" y="264" font-size="7.1" font-weight="normal" text-anchor="middle" fill="#222" stroke="#222" stroke-width="0.25">Low</text>
<line x1="209.9" y1="439.1" x2="389" y2="439.1" stroke="#333" stroke-width="1.1"/>
<line x1="230.57" y1="439.1" x2="230.57" y2="441.7" stroke="#333" stroke-width="1"/>
<text x="230.57" y="451.5" font-size="8.8" font-weight="bold" text-anchor="middle" fill="#1a1a1a" >-1</text>
<line x1="265.01" y1="439.1" x2="265.01" y2="441.7" stroke="#333" stroke-width="1"/>
<text x="265.01" y="451.5" font-size="8.8" font-weight="bold" text-anchor="middle" fill="#1a1a1a" >0</text>
<line x1="299.45" y1="439.1" x2="299.45" y2="441.7" stroke="#333" stroke-width="1"/>
<text x="299.45" y="451.5" font-size="8.8" font-weight="bold" text-anchor="middle" fill="#1a1a1a" >14</text>
<line x1="333.89" y1="439.1" x2="333.89" y2="441.7" stroke="#333" stroke-width="1"/>
<text x="333.89" y="451.5" font-size="8.8" font-weight="bold" text-anchor="middle" fill="#1a1a1a" >28</text>
<line x1="368.33" y1="439.1" x2="368.33" y2="441.7" stroke="#333" stroke-width="1"/>
<text x="368.33" y="451.5" font-size="8.8" font-weight="bold" text-anchor="middle" fill="#1a1a1a" >90</text>
<line x1="218.27" y1="430.2" x2="242.87" y2="430.2" stroke="#111" stroke-width="2.1"/>
<line x1="252.71" y1="430.2" x2="277.31" y2="430.2" stroke="#111" stroke-width="2.1"/>
<rect x="287.15" y="340.6" width="24.6" height="90.3" fill="#e6ea0a" stroke="#1a1a1a" stroke-width="1.15"/>
<line x1="287.15" y1="368.5" x2="311.75" y2="368.5" stroke="#111" stroke-width="2.1"/>
<rect x="321.59" y="350.4" width="24.6" height="80.5" fill="#e6ea0a" stroke="#1a1a1a" stroke-width="1.15"/>
<line x1="321.59" y1="368.5" x2="346.19" y2="368.5" stroke="#111" stroke-width="2.1"/>
<rect x="356.03" y="368.5" width="24.6" height="62.4" fill="#e6ea0a" stroke="#1a1a1a" stroke-width="1.15"/>
<line x1="356.03" y1="368.5" x2="380.63" y2="368.5" stroke="#111" stroke-width="2.1"/>
<line x1="299.45" y1="302.5" x2="299.45" y2="419.5" stroke="#000" stroke-opacity="0.8" stroke-width="1.1"/>
<line x1="333.89" y1="303" x2="333.89" y2="430.9" stroke="#000" stroke-opacity="0.8" stroke-width="1.1"/>
<line x1="368.33" y1="340.6" x2="368.33" y2="368.5" stroke="#000" stroke-opacity="0.8" stroke-width="1.1"/>
<circle cx="302.52" cy="364.17" r="1.35" fill="#000" fill-opacity="0.52"/>
<circle cx="303.26" cy="340.72" r="1.35" fill="#000" fill-opacity="0.52"/>
<circle cx="296.01" cy="348.96" r="1.35" fill="#000" fill-opacity="0.52"/>
<circle cx="296.99" cy="310.48" r="1.45" fill="#000" fill-opacity="0.85"/>
<circle cx="302.32" cy="316.89" r="1.45" fill="#000" fill-opacity="0.85"/>
<circle cx="300.59" cy="333.73" r="1.45" fill="#000" fill-opacity="0.85"/>
<circle cx="297.95" cy="335.17" r="1.45" fill="#000" fill-opacity="0.85"/>
<circle cx="301.2" cy="428.42" r="1.35" fill="#000" fill-opacity="0.52"/>
<circle cx="304.31" cy="429.11" r="1.45" fill="#000" fill-opacity="0.85"/>
<circle cx="298.84" cy="332.77" r="1.45" fill="#000" fill-opacity="0.85"/>
<circle cx="304.23" cy="303.08" r="1.35" fill="#000" fill-opacity="0.52"/>
<circle cx="296.8" cy="347.99" r="1.45" fill="#000" fill-opacity="0.85"/>
<circle cx="305.91" cy="312.16" r="1.35" fill="#000" fill-opacity="0.52"/>
<circle cx="300.58" cy="315.45" r="1.35" fill="#000" fill-opacity="0.52"/>
<circle cx="302.71" cy="367.1" r="1.35" fill="#000" fill-opacity="0.52"/>
<circle cx="305.25" cy="325.27" r="1.45" fill="#000" fill-opacity="0.85"/>
<circle cx="296.19" cy="324.82" r="1.35" fill="#000" fill-opacity="0.52"/>
<circle cx="302.99" cy="319.19" r="1.45" fill="#000" fill-opacity="0.85"/>
<circle cx="301.97" cy="346.29" r="1.35" fill="#000" fill-opacity="0.52"/>
<circle cx="294.07" cy="336.96" r="1.35" fill="#000" fill-opacity="0.52"/>
<circle cx="298.09" cy="323.38" r="1.35" fill="#000" fill-opacity="0.52"/>
<circle cx="298.69" cy="333.39" r="1.35" fill="#000" fill-opacity="0.52"/>
<circle cx="297.15" cy="430.8" r="1.35" fill="#000" fill-opacity="0.52"/>
<circle cx="300.37" cy="428.8" r="1.35" fill="#000" fill-opacity="0.52"/>
<circle cx="298.29" cy="332.16" r="1.35" fill="#000" fill-opacity="0.52"/>
<circle cx="304.92" cy="326.11" r="1.35" fill="#000" fill-opacity="0.52"/>
<circle cx="301.33" cy="360.08" r="1.45" fill="#000" fill-opacity="0.85"/>
<circle cx="298.16" cy="341.77" r="1.35" fill="#000" fill-opacity="0.52"/>
<circle cx="297.56" cy="308.43" r="1.35" fill="#000" fill-opacity="0.52"/>
<circle cx="303.23" cy="362.82" r="1.35" fill="#000" fill-opacity="0.52"/>
<circle cx="299.95" cy="345.71" r="1.35" fill="#000" fill-opacity="0.52"/>
<circle cx="298.21" cy="323.21" r="1.35" fill="#000" fill-opacity="0.52"/>
<circle cx="297.52" cy="336.01" r="1.35" fill="#000" fill-opacity="0.52"/>
<circle cx="296.89" cy="304.44" r="1.45" fill="#000" fill-opacity="0.85"/>
<circle cx="304.25" cy="333.68" r="1.35" fill="#000" fill-opacity="0.52"/>
<circle cx="302.3" cy="331.52" r="1.35" fill="#000" fill-opacity="0.52"/>
<circle cx="301.26" cy="330.13" r="1.35" fill="#000" fill-opacity="0.52"/>
<circle cx="301.03" cy="310.33" r="1.35" fill="#000" fill-opacity="0.52"/>
<circle cx="331.05" cy="310.18" r="1.35" fill="#000" fill-opacity="0.52"/>
<circle cx="333.34" cy="320.12" r="1.35" fill="#000" fill-opacity="0.52"/>
<circle cx="332.57" cy="429.62" r="1.35" fill="#000" fill-opacity="0.52"/>
<circle cx="333.07" cy="429.8" r="1.35" fill="#000" fill-opacity="0.52"/>
<circle cx="333.97" cy="357.01" r="1.35" fill="#000" fill-opacity="0.52"/>
<circle cx="332.02" cy="310.72" r="1.35" fill="#000" fill-opacity="0.52"/>
<circle cx="338.63" cy="315.94" r="1.35" fill="#000" fill-opacity="0.52"/>
<circle cx="332.68" cy="428.96" r="1.45" fill="#000" fill-opacity="0.85"/>
<circle cx="338.97" cy="331.14" r="1.45" fill="#000" fill-opacity="0.85"/>
<circle cx="334.38" cy="356.46" r="1.35" fill="#000" fill-opacity="0.52"/>
<circle cx="337.29" cy="349.94" r="1.35" fill="#000" fill-opacity="0.52"/>
<circle cx="330.37" cy="315.7" r="1.35" fill="#000" fill-opacity="0.52"/>
<circle cx="330.89" cy="360.71" r="1.45" fill="#000" fill-opacity="0.85"/>
<circle cx="327.46" cy="358.72" r="1.35" fill="#000" fill-opacity="0.52"/>
<circle cx="332.51" cy="306.29" r="1.35" fill="#000" fill-opacity="0.52"/>
<circle cx="332.84" cy="311.54" r="1.35" fill="#000" fill-opacity="0.52"/>
<circle cx="335.34" cy="322.24" r="1.35" fill="#000" fill-opacity="0.52"/>
<circle cx="337.77" cy="311.58" r="1.45" fill="#000" fill-opacity="0.85"/>
<circle cx="335.8" cy="428.9" r="1.45" fill="#000" fill-opacity="0.85"/>
<circle cx="338.33" cy="331.78" r="1.45" fill="#000" fill-opacity="0.85"/>
<circle cx="331.33" cy="343.69" r="1.35" fill="#000" fill-opacity="0.52"/>
<circle cx="327.48" cy="430.04" r="1.45" fill="#000" fill-opacity="0.85"/>
<circle cx="334.21" cy="368.98" r="1.45" fill="#000" fill-opacity="0.85"/>
<circle cx="332.92" cy="354.35" r="1.35" fill="#000" fill-opacity="0.52"/>
<circle cx="336.03" cy="314.96" r="1.35" fill="#000" fill-opacity="0.52"/>
<circle cx="330.75" cy="308.73" r="1.35" fill="#000" fill-opacity="0.52"/>
<circle cx="332.93" cy="370.56" r="1.45" fill="#000" fill-opacity="0.85"/>
<circle cx="333.29" cy="338.35" r="1.35" fill="#000" fill-opacity="0.52"/>
<circle cx="338.89" cy="329.73" r="1.35" fill="#000" fill-opacity="0.52"/>
<circle cx="334.08" cy="429.75" r="1.35" fill="#000" fill-opacity="0.52"/>
<circle cx="332.45" cy="430.54" r="1.45" fill="#000" fill-opacity="0.85"/>
<circle cx="365.67" cy="353.64" r="1.35" fill="#000" fill-opacity="0.52"/>
<circle cx="369.33" cy="388.2" r="1.35" fill="#000" fill-opacity="0.52"/>
<circle cx="368.29" cy="383.99" r="1.35" fill="#000" fill-opacity="0.52"/>
<circle cx="366.32" cy="372.17" r="1.35" fill="#000" fill-opacity="0.52"/>
<circle cx="370.68" cy="387.29" r="1.35" fill="#000" fill-opacity="0.52"/>
<circle cx="368.04" cy="378.57" r="1.35" fill="#000" fill-opacity="0.52"/>
<circle cx="363.81" cy="367.99" r="1.35" fill="#000" fill-opacity="0.52"/>
<circle cx="363.3" cy="430.06" r="1.35" fill="#000" fill-opacity="0.52"/>
<circle cx="377.33" cy="352.71" r="1.45" fill="#000" fill-opacity="0.85"/>
<circle cx="376.02" cy="347.35" r="1.35" fill="#000" fill-opacity="0.52"/>
<circle cx="368.68" cy="368.89" r="1.35" fill="#000" fill-opacity="0.52"/>
<circle cx="367.3" cy="430.73" r="1.35" fill="#000" fill-opacity="0.52"/>
<circle cx="371.43" cy="387.23" r="1.35" fill="#000" fill-opacity="0.52"/>
<circle cx="370.42" cy="369.62" r="1.35" fill="#000" fill-opacity="0.52"/>
<circle cx="369.48" cy="358.36" r="1.35" fill="#000" fill-opacity="0.52"/>
<circle cx="372.32" cy="383.79" r="1.35" fill="#000" fill-opacity="0.52"/>
<circle cx="370.14" cy="430.26" r="1.45" fill="#000" fill-opacity="0.85"/>
<circle cx="367.58" cy="430.23" r="1.35" fill="#000" fill-opacity="0.52"/>
<circle cx="365.78" cy="429.39" r="1.35" fill="#000" fill-opacity="0.52"/>
<circle cx="232.05" cy="331.4" r="1.45" fill="#000" fill-opacity="0.85"/>
<circle cx="227.53" cy="332.7" r="1.35" fill="#000" fill-opacity="0.52"/>
<circle cx="232.9" cy="359.3" r="1.45" fill="#000" fill-opacity="0.85"/>
<circle cx="235.2" cy="361" r="1.35" fill="#000" fill-opacity="0.52"/>
<circle cx="231.58" cy="364.8" r="1.35" fill="#000" fill-opacity="0.52"/>
<circle cx="226.36" cy="368" r="1.45" fill="#000" fill-opacity="0.85"/>
<circle cx="268.1" cy="331.4" r="1.45" fill="#000" fill-opacity="0.85"/>
<circle cx="268.76" cy="358.6" r="1.35" fill="#000" fill-opacity="0.52"/>
<circle cx="263.42" cy="359.3" r="1.45" fill="#000" fill-opacity="0.85"/>
<circle cx="261.37" cy="368" r="1.45" fill="#000" fill-opacity="0.85"/>
<circle cx="261.89" cy="372.2" r="1.35" fill="#000" fill-opacity="0.52"/>
<circle cx="230.93" cy="429" r="1.45" fill="#000" fill-opacity="0.85"/>
<circle cx="234.32" cy="429" r="1.35" fill="#000" fill-opacity="0.52"/>
<circle cx="231.96" cy="428" r="1.35" fill="#000" fill-opacity="0.52"/>
<circle cx="269.24" cy="429" r="1.45" fill="#000" fill-opacity="0.85"/>
<circle cx="262.13" cy="428" r="1.35" fill="#000" fill-opacity="0.52"/>
<circle cx="263.28" cy="429" r="1.35" fill="#000" fill-opacity="0.52"/>
<circle cx="233.06" cy="429" r="1.45" fill="#000" fill-opacity="0.85"/>
<circle cx="232.05" cy="428" r="1.45" fill="#000" fill-opacity="0.85"/>
<circle cx="229.62" cy="429" r="1.35" fill="#000" fill-opacity="0.52"/>
<circle cx="232.36" cy="427" r="1.35" fill="#000" fill-opacity="0.52"/>
<circle cx="263.39" cy="429" r="1.45" fill="#000" fill-opacity="0.85"/>
<circle cx="260.58" cy="428" r="1.45" fill="#000" fill-opacity="0.85"/>
<circle cx="264.15" cy="429" r="1.35" fill="#000" fill-opacity="0.52"/>
<circle cx="260.46" cy="427" r="1.35" fill="#000" fill-opacity="0.52"/>
<circle cx="300.71" cy="429" r="1.45" fill="#000" fill-opacity="0.85"/>
<circle cx="297.8" cy="428" r="1.35" fill="#000" fill-opacity="0.52"/>
<circle cx="333.84" cy="429" r="1.45" fill="#000" fill-opacity="0.85"/>
<circle cx="369.31" cy="428" r="1.45" fill="#000" fill-opacity="0.85"/>
<circle cx="297.02" cy="429" r="1.45" fill="#000" fill-opacity="0.85"/>
<circle cx="333.53" cy="429" r="1.35" fill="#000" fill-opacity="0.52"/>
<circle cx="363.47" cy="429" r="1.45" fill="#000" fill-opacity="0.85"/>
<circle cx="372.59" cy="428" r="1.35" fill="#000" fill-opacity="0.52"/>
<polyline points="230.57,422.8 265.01,422.8 299.45,374.6 333.89,387 368.33,404.3" fill="none" stroke="#a3a8ad" stroke-opacity="0.85" stroke-width="2.3" stroke-linejoin="round"/>
<circle cx="230.57" cy="422.8" r="1.8" fill="#777" stroke="#111" stroke-width="1.4"/>
<circle cx="265.01" cy="422.8" r="1.8" fill="#777" stroke="#111" stroke-width="1.4"/>
<circle cx="299.45" cy="374.6" r="1.8" fill="#777" stroke="#111" stroke-width="1.4"/>
<circle cx="333.89" cy="387" r="1.8" fill="#777" stroke="#111" stroke-width="1.4"/>
<circle cx="368.33" cy="404.3" r="1.8" fill="#777" stroke="#111" stroke-width="1.4"/>
<path d="M230.57,298.4 V294.4 H265.01 V298.4" fill="none" stroke="#2a2a2a" stroke-width="1.05"/>
<text x="247.79" y="292.8" font-size="8" font-weight="normal" text-anchor="middle" fill="#222" stroke="#222" stroke-width="0.3">ns</text>
<path d="M265.01,292.2 V288.2 H299.45 V292.2" fill="none" stroke="#2a2a2a" stroke-width="1.05"/>
<text x="282.23" y="287.2" font-size="8.6" font-weight="normal" text-anchor="middle" fill="#222" stroke="#222" stroke-width="0.55">****</text>
<path d="M299.45,285.6 V281.6 H333.89 V285.6" fill="none" stroke="#2a2a2a" stroke-width="1.05"/>
<text x="316.67" y="280" font-size="8" font-weight="normal" text-anchor="middle" fill="#222" stroke="#222" stroke-width="0.3">ns</text>
<text x="219" y="275.4" font-size="8.3" font-weight="normal" text-anchor="start" fill="#111" stroke="#111" stroke-width="0.25">Kruskal-Wallis, p = 1e-10</text>
<line x1="23.4" y1="400.2" x2="26.2" y2="400.2" stroke="#333" stroke-width="1"/>
<text x="22" y="403.3" font-size="8.8" font-weight="bold" text-anchor="end" fill="#1a1a1a" >1</text>
<line x1="23.4" y1="338" x2="26.2" y2="338" stroke="#333" stroke-width="1"/>
<text x="22" y="341.1" font-size="8.8" font-weight="bold" text-anchor="end" fill="#1a1a1a" >3</text>
<line x1="23.4" y1="275.8" x2="26.2" y2="275.8" stroke="#333" stroke-width="1"/>
<text x="22" y="278.9" font-size="8.8" font-weight="bold" text-anchor="end" fill="#1a1a1a" >5</text>
<text transform="translate(11,353.4) rotate(-90)" font-size="9" font-weight="bold" text-anchor="middle" fill="#1a1a1a">ELISA titers ( log<tspan font-size="6" dy="1.5">10</tspan><tspan dy="-1.5"> )</tspan></text>
<text x="207.6" y="462" font-size="8.9" font-weight="bold" text-anchor="middle" fill="#1a1a1a" >Days post plasma infusion</text>
<text transform="translate(404,255.8) scale(0.95,1)" font-size="22" font-weight="bold" fill="#000">D</text>
<text x="435.9" y="246.3" font-size="10.3" font-weight="bold" text-anchor="start" fill="#1e1e1e" >IgM to N protein for the convalescent plasma group</text>
<rect x="435.5" y="253.4" width="177.5" height="13.8" fill="#e9ecec" stroke="#222" stroke-width="1.1"/>
<text x="524.25" y="263.5" font-size="7.1" font-weight="normal" text-anchor="middle" fill="#222" stroke="#222" stroke-width="0.25">High</text>
<line x1="435.5" y1="437.4" x2="613" y2="437.4" stroke="#333" stroke-width="1.1"/>
<line x1="435.5" y1="267.2" x2="435.5" y2="437.4" stroke="#333" stroke-width="1.1"/>
<line x1="455.98" y1="437.4" x2="455.98" y2="440" stroke="#333" stroke-width="1"/>
<text x="455.98" y="449.8" font-size="8.8" font-weight="bold" text-anchor="middle" fill="#1a1a1a" >-1</text>
<line x1="490.12" y1="437.4" x2="490.12" y2="440" stroke="#333" stroke-width="1"/>
<text x="490.12" y="449.8" font-size="8.8" font-weight="bold" text-anchor="middle" fill="#1a1a1a" >0</text>
<line x1="524.25" y1="437.4" x2="524.25" y2="440" stroke="#333" stroke-width="1"/>
<text x="524.25" y="449.8" font-size="8.8" font-weight="bold" text-anchor="middle" fill="#1a1a1a" >14</text>
<line x1="558.38" y1="437.4" x2="558.38" y2="440" stroke="#333" stroke-width="1"/>
<text x="558.38" y="449.8" font-size="8.8" font-weight="bold" text-anchor="middle" fill="#1a1a1a" >28</text>
<line x1="592.52" y1="437.4" x2="592.52" y2="440" stroke="#333" stroke-width="1"/>
<text x="592.52" y="449.8" font-size="8.8" font-weight="bold" text-anchor="middle" fill="#1a1a1a" >90</text>
<rect x="443.68" y="357.9" width="24.6" height="71.6" fill="#40f07c" stroke="#1a1a1a" stroke-width="1.15"/>
<line x1="443.68" y1="357.9" x2="468.28" y2="357.9" stroke="#111" stroke-width="2.1"/>
<rect x="477.82" y="330.7" width="24.6" height="19.3" fill="#40f07c" stroke="#1a1a1a" stroke-width="1.15"/>
<line x1="477.82" y1="350" x2="502.42" y2="350" stroke="#111" stroke-width="2.1"/>
<rect x="511.95" y="321.6" width="24.6" height="27.9" fill="#40f07c" stroke="#1a1a1a" stroke-width="1.15"/>
<line x1="511.95" y1="339.6" x2="536.55" y2="339.6" stroke="#111" stroke-width="2.1"/>
<rect x="546.08" y="330.7" width="24.6" height="27.9" fill="#40f07c" stroke="#1a1a1a" stroke-width="1.15"/>
<line x1="546.08" y1="339.6" x2="570.68" y2="339.6" stroke="#111" stroke-width="2.1"/>
<rect x="580.22" y="357.9" width="24.6" height="9.8" fill="#40f07c" stroke="#1a1a1a" stroke-width="1.15"/>
<line x1="580.22" y1="357.9" x2="604.82" y2="357.9" stroke="#111" stroke-width="2.1"/>
<line x1="455.98" y1="337.6" x2="455.98" y2="412.9" stroke="#000" stroke-opacity="0.8" stroke-width="1.1"/>
<line x1="490.12" y1="329" x2="490.12" y2="369.7" stroke="#000" stroke-opacity="0.8" stroke-width="1.1"/>
<line x1="524.25" y1="312.9" x2="524.25" y2="356.1" stroke="#000" stroke-opacity="0.8" stroke-width="1.1"/>
<line x1="558.38" y1="321.6" x2="558.38" y2="367.2" stroke="#000" stroke-opacity="0.8" stroke-width="1.1"/>
<line x1="592.52" y1="340" x2="592.52" y2="404.3" stroke="#000" stroke-opacity="0.8" stroke-width="1.1"/>
<circle cx="460.9" cy="382.39" r="1.35" fill="#000" fill-opacity="0.52"/>
<circle cx="457.79" cy="429.27" r="1.45" fill="#000" fill-opacity="0.85"/>
<circle cx="461.87" cy="427.58" r="1.35" fill="#000" fill-opacity="0.52"/>
<circle cx="459.71" cy="364.29" r="1.35" fill="#000" fill-opacity="0.52"/>
<circle cx="452.94" cy="364.89" r="1.45" fill="#000" fill-opacity="0.85"/>
<circle cx="461.44" cy="372.22" r="1.35" fill="#000" fill-opacity="0.52"/>
<circle cx="460.11" cy="427.57" r="1.45" fill="#000" fill-opacity="0.85"/>
<circle cx="455.39" cy="380.28" r="1.45" fill="#000" fill-opacity="0.85"/>
<circle cx="490.96" cy="329" r="1.35" fill="#000" fill-opacity="0.52"/>
<circle cx="489.94" cy="346.65" r="1.35" fill="#000" fill-opacity="0.52"/>
<circle cx="490.47" cy="344.99" r="1.45" fill="#000" fill-opacity="0.85"/>
<circle cx="489.3" cy="335.12" r="1.35" fill="#000" fill-opacity="0.52"/>
<circle cx="492.03" cy="343.59" r="1.35" fill="#000" fill-opacity="0.52"/>
<circle cx="496.6" cy="335.6" r="1.45" fill="#000" fill-opacity="0.85"/>
<circle cx="491.31" cy="349.31" r="1.35" fill="#000" fill-opacity="0.52"/>
<circle cx="486.11" cy="343.39" r="1.35" fill="#000" fill-opacity="0.52"/>
<circle cx="489.97" cy="333.39" r="1.35" fill="#000" fill-opacity="0.52"/>
<circle cx="490.99" cy="337.14" r="1.35" fill="#000" fill-opacity="0.52"/>
<circle cx="532.24" cy="332.19" r="1.35" fill="#000" fill-opacity="0.52"/>
<circle cx="524.21" cy="320.69" r="1.35" fill="#000" fill-opacity="0.52"/>
<circle cx="526.11" cy="345.44" r="1.35" fill="#000" fill-opacity="0.52"/>
<circle cx="526.9" cy="356.03" r="1.35" fill="#000" fill-opacity="0.52"/>
<circle cx="529.25" cy="335.23" r="1.45" fill="#000" fill-opacity="0.85"/>
<circle cx="518.44" cy="348.45" r="1.45" fill="#000" fill-opacity="0.85"/>
<circle cx="524.98" cy="312.9" r="1.45" fill="#000" fill-opacity="0.85"/>
<circle cx="519.47" cy="338.72" r="1.35" fill="#000" fill-opacity="0.52"/>
<circle cx="526.92" cy="340.4" r="1.35" fill="#000" fill-opacity="0.52"/>
<circle cx="521.85" cy="320.78" r="1.35" fill="#000" fill-opacity="0.52"/>
<circle cx="526.08" cy="325.76" r="1.35" fill="#000" fill-opacity="0.52"/>
<circle cx="526.1" cy="336.49" r="1.35" fill="#000" fill-opacity="0.52"/>
<circle cx="561.2" cy="340.83" r="1.45" fill="#000" fill-opacity="0.85"/>
<circle cx="563.64" cy="361.42" r="1.35" fill="#000" fill-opacity="0.52"/>
<circle cx="555.43" cy="323.1" r="1.45" fill="#000" fill-opacity="0.85"/>
<circle cx="562.76" cy="353.04" r="1.45" fill="#000" fill-opacity="0.85"/>
<circle cx="558.99" cy="348.19" r="1.35" fill="#000" fill-opacity="0.52"/>
<circle cx="559.78" cy="346.21" r="1.35" fill="#000" fill-opacity="0.52"/>
<circle cx="556.24" cy="340.21" r="1.35" fill="#000" fill-opacity="0.52"/>
<circle cx="558.05" cy="348.11" r="1.45" fill="#000" fill-opacity="0.85"/>
<circle cx="549.87" cy="329.74" r="1.35" fill="#000" fill-opacity="0.52"/>
<circle cx="566.1" cy="345.32" r="1.35" fill="#000" fill-opacity="0.52"/>
<circle cx="559.7" cy="339.32" r="1.45" fill="#000" fill-opacity="0.85"/>
<circle cx="554.5" cy="353.57" r="1.35" fill="#000" fill-opacity="0.52"/>
<circle cx="598.31" cy="362.55" r="1.35" fill="#000" fill-opacity="0.52"/>
<circle cx="586.97" cy="363.25" r="1.35" fill="#000" fill-opacity="0.52"/>
<circle cx="590.76" cy="386.15" r="1.35" fill="#000" fill-opacity="0.52"/>
<circle cx="597.49" cy="352.34" r="1.35" fill="#000" fill-opacity="0.52"/>
<circle cx="593.65" cy="360.71" r="1.35" fill="#000" fill-opacity="0.52"/>
<circle cx="587.08" cy="354.87" r="1.45" fill="#000" fill-opacity="0.85"/>
<circle cx="592.67" cy="364.24" r="1.45" fill="#000" fill-opacity="0.85"/>
<circle cx="595.04" cy="390.41" r="1.35" fill="#000" fill-opacity="0.52"/>
<circle cx="589.36" cy="361.44" r="1.35" fill="#000" fill-opacity="0.52"/>
<circle cx="601.52" cy="358.04" r="1.45" fill="#000" fill-opacity="0.85"/>
<circle cx="594.98" cy="428.5" r="1.45" fill="#000" fill-opacity="0.85"/>
<circle cx="596.05" cy="428.5" r="1.35" fill="#000" fill-opacity="0.52"/>
<circle cx="456.08" cy="428.5" r="1.45" fill="#000" fill-opacity="0.85"/>
<path d="M455.98,376.6 C461.67,371.33 478.74,351.7 490.12,345 C501.49,338.3 512.87,336.82 524.25,336.4 C535.63,335.98 547.01,336.53 558.38,342.5 C569.76,348.47 586.83,367.25 592.52,372.2" fill="none" stroke="#a3a8ad" stroke-opacity="0.85" stroke-width="2.3"/>
<circle cx="455.98" cy="376.6" r="1.8" fill="#777" stroke="#111" stroke-width="1.4"/>
<circle cx="490.12" cy="345" r="1.8" fill="#777" stroke="#111" stroke-width="1.4"/>
<circle cx="524.25" cy="336.4" r="1.8" fill="#777" stroke="#111" stroke-width="1.4"/>
<circle cx="558.38" cy="342.5" r="1.8" fill="#777" stroke="#111" stroke-width="1.4"/>
<circle cx="592.52" cy="372.2" r="1.8" fill="#777" stroke="#111" stroke-width="1.4"/>
<path d="M455.98,310.7 V306.7 H490.12 V310.7" fill="none" stroke="#2a2a2a" stroke-width="1.05"/>
<text x="473.05" y="305.7" font-size="8.6" font-weight="normal" text-anchor="middle" fill="#222" stroke="#222" stroke-width="0.55">*</text>
<path d="M490.12,304 V300 H524.25 V304" fill="none" stroke="#2a2a2a" stroke-width="1.05"/>
<text x="507.18" y="298.4" font-size="8" font-weight="normal" text-anchor="middle" fill="#222" stroke="#222" stroke-width="0.3">ns</text>
<path d="M524.25,297.7 V293.7 H558.38 V297.7" fill="none" stroke="#2a2a2a" stroke-width="1.05"/>
<text x="541.32" y="292.1" font-size="8" font-weight="normal" text-anchor="middle" fill="#222" stroke="#222" stroke-width="0.3">ns</text>
<path d="M558.38,291.5 V287.5 H592.52 V291.5" fill="none" stroke="#2a2a2a" stroke-width="1.05"/>
<text x="575.45" y="286.5" font-size="8.6" font-weight="normal" text-anchor="middle" fill="#222" stroke="#222" stroke-width="0.55">*</text>
<path d="M490.12,285.3 V281.3 H592.52 V285.3" fill="none" stroke="#2a2a2a" stroke-width="1.05"/>
<text x="541.32" y="280.3" font-size="8.6" font-weight="normal" text-anchor="middle" fill="#222" stroke="#222" stroke-width="0.55">*</text>
<text x="443.6" y="275.4" font-size="8.3" font-weight="normal" text-anchor="start" fill="#111" stroke="#111" stroke-width="0.25">Kruskal-Wallis, p = 0.00095</text>
<rect x="618.2" y="253.4" width="177.5" height="13.8" fill="#e9ecec" stroke="#222" stroke-width="1.1"/>
<text x="706.95" y="263.5" font-size="7.1" font-weight="normal" text-anchor="middle" fill="#222" stroke="#222" stroke-width="0.25">Low</text>
<line x1="618.2" y1="437.4" x2="795.7" y2="437.4" stroke="#333" stroke-width="1.1"/>
<line x1="638.68" y1="437.4" x2="638.68" y2="440" stroke="#333" stroke-width="1"/>
<text x="638.68" y="449.8" font-size="8.8" font-weight="bold" text-anchor="middle" fill="#1a1a1a" >-1</text>
<line x1="672.82" y1="437.4" x2="672.82" y2="440" stroke="#333" stroke-width="1"/>
<text x="672.82" y="449.8" font-size="8.8" font-weight="bold" text-anchor="middle" fill="#1a1a1a" >0</text>
<line x1="706.95" y1="437.4" x2="706.95" y2="440" stroke="#333" stroke-width="1"/>
<text x="706.95" y="449.8" font-size="8.8" font-weight="bold" text-anchor="middle" fill="#1a1a1a" >14</text>
<line x1="741.08" y1="437.4" x2="741.08" y2="440" stroke="#333" stroke-width="1"/>
<text x="741.08" y="449.8" font-size="8.8" font-weight="bold" text-anchor="middle" fill="#1a1a1a" >28</text>
<line x1="775.22" y1="437.4" x2="775.22" y2="440" stroke="#333" stroke-width="1"/>
<text x="775.22" y="449.8" font-size="8.8" font-weight="bold" text-anchor="middle" fill="#1a1a1a" >90</text>
<rect x="626.38" y="349.5" width="24.6" height="18.2" fill="#e6ea0a" stroke="#1a1a1a" stroke-width="1.15"/>
<line x1="626.38" y1="358.6" x2="650.98" y2="358.6" stroke="#111" stroke-width="2.1"/>
<rect x="660.52" y="349.5" width="24.6" height="18.2" fill="#e6ea0a" stroke="#1a1a1a" stroke-width="1.15"/>
<line x1="660.52" y1="358.6" x2="685.12" y2="358.6" stroke="#111" stroke-width="2.1"/>
<rect x="694.65" y="340" width="24.6" height="27.7" fill="#e6ea0a" stroke="#1a1a1a" stroke-width="1.15"/>
<line x1="694.65" y1="358.6" x2="719.25" y2="358.6" stroke="#111" stroke-width="2.1"/>
<rect x="728.78" y="349.5" width="24.6" height="18.2" fill="#e6ea0a" stroke="#1a1a1a" stroke-width="1.15"/>
<line x1="728.78" y1="358.6" x2="753.38" y2="358.6" stroke="#111" stroke-width="2.1"/>
<rect x="762.92" y="349.5" width="24.6" height="80" fill="#e6ea0a" stroke="#1a1a1a" stroke-width="1.15"/>
<line x1="762.92" y1="367.7" x2="787.52" y2="367.7" stroke="#111" stroke-width="2.1"/>
<line x1="638.68" y1="321.6" x2="638.68" y2="408" stroke="#000" stroke-opacity="0.8" stroke-width="1.1"/>
<line x1="672.82" y1="321.6" x2="672.82" y2="408" stroke="#000" stroke-opacity="0.8" stroke-width="1.1"/>
<line x1="706.95" y1="327.7" x2="706.95" y2="369.7" stroke="#000" stroke-opacity="0.8" stroke-width="1.1"/>
<line x1="741.08" y1="330.7" x2="741.08" y2="384.5" stroke="#000" stroke-opacity="0.8" stroke-width="1.1"/>
<line x1="775.22" y1="337.6" x2="775.22" y2="415.4" stroke="#000" stroke-opacity="0.8" stroke-width="1.1"/>
<circle cx="638.59" cy="364.64" r="1.35" fill="#000" fill-opacity="0.52"/>
<circle cx="637.79" cy="354.33" r="1.35" fill="#000" fill-opacity="0.52"/>
<circle cx="634.99" cy="380.11" r="1.35" fill="#000" fill-opacity="0.52"/>
<circle cx="639.56" cy="368.52" r="1.45" fill="#000" fill-opacity="0.85"/>
<circle cx="643.84" cy="362.49" r="1.35" fill="#000" fill-opacity="0.52"/>
<circle cx="639.07" cy="352.81" r="1.45" fill="#000" fill-opacity="0.85"/>
<circle cx="634.08" cy="367.28" r="1.35" fill="#000" fill-opacity="0.52"/>
<circle cx="641.99" cy="357.08" r="1.35" fill="#000" fill-opacity="0.52"/>
<circle cx="644.92" cy="393.09" r="1.35" fill="#000" fill-opacity="0.52"/>
<circle cx="633.41" cy="325.34" r="1.35" fill="#000" fill-opacity="0.52"/>
<circle cx="640.32" cy="369.21" r="1.45" fill="#000" fill-opacity="0.85"/>
<circle cx="640.19" cy="363.78" r="1.35" fill="#000" fill-opacity="0.52"/>
<circle cx="629.68" cy="349.11" r="1.35" fill="#000" fill-opacity="0.52"/>
<circle cx="631.94" cy="375.79" r="1.35" fill="#000" fill-opacity="0.52"/>
<circle cx="637.14" cy="360.61" r="1.35" fill="#000" fill-opacity="0.52"/>
<circle cx="636.3" cy="351.44" r="1.35" fill="#000" fill-opacity="0.52"/>
<circle cx="640.18" cy="364.07" r="1.45" fill="#000" fill-opacity="0.85"/>
<circle cx="638.08" cy="368.85" r="1.35" fill="#000" fill-opacity="0.52"/>
<circle cx="639.52" cy="352.1" r="1.35" fill="#000" fill-opacity="0.52"/>
<circle cx="637.24" cy="339.03" r="1.35" fill="#000" fill-opacity="0.52"/>
<circle cx="637.89" cy="374.98" r="1.35" fill="#000" fill-opacity="0.52"/>
<circle cx="637.94" cy="360.39" r="1.35" fill="#000" fill-opacity="0.52"/>
<circle cx="635.59" cy="391.66" r="1.35" fill="#000" fill-opacity="0.52"/>
<circle cx="634.58" cy="342.03" r="1.45" fill="#000" fill-opacity="0.85"/>
<circle cx="634.77" cy="383.11" r="1.35" fill="#000" fill-opacity="0.52"/>
<circle cx="638.82" cy="367.4" r="1.35" fill="#000" fill-opacity="0.52"/>
<circle cx="643.88" cy="350.52" r="1.45" fill="#000" fill-opacity="0.85"/>
<circle cx="634.57" cy="350.51" r="1.35" fill="#000" fill-opacity="0.52"/>
<circle cx="630.8" cy="360.75" r="1.35" fill="#000" fill-opacity="0.52"/>
<circle cx="631.61" cy="361.47" r="1.35" fill="#000" fill-opacity="0.52"/>
<circle cx="638.16" cy="356.3" r="1.45" fill="#000" fill-opacity="0.85"/>
<circle cx="639.47" cy="369.45" r="1.45" fill="#000" fill-opacity="0.85"/>
<circle cx="644.88" cy="344.52" r="1.45" fill="#000" fill-opacity="0.85"/>
<circle cx="638.78" cy="365.71" r="1.45" fill="#000" fill-opacity="0.85"/>
<circle cx="633.78" cy="383.04" r="1.35" fill="#000" fill-opacity="0.52"/>
<circle cx="635" cy="355.48" r="1.35" fill="#000" fill-opacity="0.52"/>
<circle cx="640.16" cy="392.18" r="1.35" fill="#000" fill-opacity="0.52"/>
<circle cx="647.68" cy="355.26" r="1.45" fill="#000" fill-opacity="0.85"/>
<circle cx="671.69" cy="359.54" r="1.35" fill="#000" fill-opacity="0.52"/>
<circle cx="668.86" cy="364.46" r="1.45" fill="#000" fill-opacity="0.85"/>
<circle cx="677.39" cy="358" r="1.35" fill="#000" fill-opacity="0.52"/>
<circle cx="673.18" cy="347.54" r="1.35" fill="#000" fill-opacity="0.52"/>
<circle cx="668.52" cy="361.18" r="1.35" fill="#000" fill-opacity="0.52"/>
<circle cx="673.62" cy="360.74" r="1.35" fill="#000" fill-opacity="0.52"/>
<circle cx="675.95" cy="353.36" r="1.35" fill="#000" fill-opacity="0.52"/>
<circle cx="669.73" cy="360.87" r="1.45" fill="#000" fill-opacity="0.85"/>
<circle cx="671.48" cy="346.79" r="1.35" fill="#000" fill-opacity="0.52"/>
<circle cx="664.29" cy="372.76" r="1.35" fill="#000" fill-opacity="0.52"/>
<circle cx="675.31" cy="326.59" r="1.35" fill="#000" fill-opacity="0.52"/>
<circle cx="673.77" cy="325.83" r="1.35" fill="#000" fill-opacity="0.52"/>
<circle cx="677.12" cy="356.17" r="1.35" fill="#000" fill-opacity="0.52"/>
<circle cx="670.19" cy="353.63" r="1.45" fill="#000" fill-opacity="0.85"/>
<circle cx="673.94" cy="347.59" r="1.35" fill="#000" fill-opacity="0.52"/>
<circle cx="674.19" cy="354.65" r="1.35" fill="#000" fill-opacity="0.52"/>
<circle cx="673.82" cy="357.43" r="1.35" fill="#000" fill-opacity="0.52"/>
<circle cx="669.59" cy="369.05" r="1.45" fill="#000" fill-opacity="0.85"/>
<circle cx="671.77" cy="357.79" r="1.35" fill="#000" fill-opacity="0.52"/>
<circle cx="677.81" cy="359.79" r="1.35" fill="#000" fill-opacity="0.52"/>
<circle cx="679.71" cy="368.95" r="1.35" fill="#000" fill-opacity="0.52"/>
<circle cx="676.06" cy="334.72" r="1.35" fill="#000" fill-opacity="0.52"/>
<circle cx="668.85" cy="336.55" r="1.45" fill="#000" fill-opacity="0.85"/>
<circle cx="676.35" cy="366.71" r="1.35" fill="#000" fill-opacity="0.52"/>
<circle cx="672.01" cy="363.73" r="1.35" fill="#000" fill-opacity="0.52"/>
<circle cx="681.82" cy="354.92" r="1.35" fill="#000" fill-opacity="0.52"/>
<circle cx="671.93" cy="345.82" r="1.35" fill="#000" fill-opacity="0.52"/>
<circle cx="674.33" cy="366" r="1.35" fill="#000" fill-opacity="0.52"/>
<circle cx="672.1" cy="373.25" r="1.35" fill="#000" fill-opacity="0.52"/>
<circle cx="675.14" cy="362.8" r="1.35" fill="#000" fill-opacity="0.52"/>
<circle cx="673.68" cy="341.23" r="1.35" fill="#000" fill-opacity="0.52"/>
<circle cx="672.37" cy="351.35" r="1.35" fill="#000" fill-opacity="0.52"/>
<circle cx="670.74" cy="325.92" r="1.45" fill="#000" fill-opacity="0.85"/>
<circle cx="676.41" cy="337.05" r="1.35" fill="#000" fill-opacity="0.52"/>
<circle cx="674.87" cy="368.2" r="1.45" fill="#000" fill-opacity="0.85"/>
<circle cx="667.85" cy="361.23" r="1.35" fill="#000" fill-opacity="0.52"/>
<circle cx="672.67" cy="354.87" r="1.35" fill="#000" fill-opacity="0.52"/>
<circle cx="671.15" cy="351.79" r="1.35" fill="#000" fill-opacity="0.52"/>
<circle cx="711.33" cy="334.58" r="1.35" fill="#000" fill-opacity="0.52"/>
<circle cx="714.88" cy="364.38" r="1.35" fill="#000" fill-opacity="0.52"/>
<circle cx="711.3" cy="369.7" r="1.45" fill="#000" fill-opacity="0.85"/>
<circle cx="706.52" cy="347.71" r="1.35" fill="#000" fill-opacity="0.52"/>
<circle cx="705.95" cy="339.25" r="1.35" fill="#000" fill-opacity="0.52"/>
<circle cx="708.41" cy="346.86" r="1.45" fill="#000" fill-opacity="0.85"/>
<circle cx="703.71" cy="364.13" r="1.35" fill="#000" fill-opacity="0.52"/>
<circle cx="705.42" cy="367.51" r="1.35" fill="#000" fill-opacity="0.52"/>
<circle cx="704.41" cy="350.45" r="1.35" fill="#000" fill-opacity="0.52"/>
<circle cx="707.9" cy="353.57" r="1.35" fill="#000" fill-opacity="0.52"/>
<circle cx="714.67" cy="346.95" r="1.45" fill="#000" fill-opacity="0.85"/>
<circle cx="712.04" cy="355.56" r="1.35" fill="#000" fill-opacity="0.52"/>
<circle cx="707.09" cy="330.31" r="1.35" fill="#000" fill-opacity="0.52"/>
<circle cx="702.66" cy="369.7" r="1.35" fill="#000" fill-opacity="0.52"/>
<circle cx="708.52" cy="340.78" r="1.35" fill="#000" fill-opacity="0.52"/>
<circle cx="710.59" cy="340.84" r="1.35" fill="#000" fill-opacity="0.52"/>
<circle cx="707.15" cy="349.1" r="1.35" fill="#000" fill-opacity="0.52"/>
<circle cx="705.78" cy="369.7" r="1.45" fill="#000" fill-opacity="0.85"/>
<circle cx="701.89" cy="359.59" r="1.35" fill="#000" fill-opacity="0.52"/>
<circle cx="715.95" cy="347.85" r="1.35" fill="#000" fill-opacity="0.52"/>
<circle cx="707" cy="365.84" r="1.45" fill="#000" fill-opacity="0.85"/>
<circle cx="701.54" cy="363.22" r="1.35" fill="#000" fill-opacity="0.52"/>
<circle cx="703.5" cy="351.48" r="1.45" fill="#000" fill-opacity="0.85"/>
<circle cx="706.89" cy="355.95" r="1.35" fill="#000" fill-opacity="0.52"/>
<circle cx="704.9" cy="365.7" r="1.35" fill="#000" fill-opacity="0.52"/>
<circle cx="703.53" cy="361.39" r="1.35" fill="#000" fill-opacity="0.52"/>
<circle cx="704.76" cy="364.27" r="1.45" fill="#000" fill-opacity="0.85"/>
<circle cx="708.73" cy="350.03" r="1.35" fill="#000" fill-opacity="0.52"/>
<circle cx="706.32" cy="338.28" r="1.35" fill="#000" fill-opacity="0.52"/>
<circle cx="710.93" cy="358.32" r="1.45" fill="#000" fill-opacity="0.85"/>
<circle cx="703.8" cy="369.7" r="1.35" fill="#000" fill-opacity="0.52"/>
<circle cx="700.35" cy="358.57" r="1.35" fill="#000" fill-opacity="0.52"/>
<circle cx="705.6" cy="362.38" r="1.35" fill="#000" fill-opacity="0.52"/>
<circle cx="707.85" cy="341.96" r="1.35" fill="#000" fill-opacity="0.52"/>
<circle cx="711.35" cy="361" r="1.45" fill="#000" fill-opacity="0.85"/>
<circle cx="708.46" cy="354.26" r="1.35" fill="#000" fill-opacity="0.52"/>
<circle cx="705.6" cy="341.73" r="1.35" fill="#000" fill-opacity="0.52"/>
<circle cx="709.21" cy="353.71" r="1.45" fill="#000" fill-opacity="0.85"/>
<circle cx="746.94" cy="356.91" r="1.35" fill="#000" fill-opacity="0.52"/>
<circle cx="745.27" cy="374.12" r="1.45" fill="#000" fill-opacity="0.85"/>
<circle cx="745.05" cy="340.6" r="1.45" fill="#000" fill-opacity="0.85"/>
<circle cx="742.37" cy="350.2" r="1.35" fill="#000" fill-opacity="0.52"/>
<circle cx="748.96" cy="351.92" r="1.35" fill="#000" fill-opacity="0.52"/>
<circle cx="743.54" cy="357.96" r="1.35" fill="#000" fill-opacity="0.52"/>
<circle cx="740.99" cy="358.21" r="1.45" fill="#000" fill-opacity="0.85"/>
<circle cx="741.07" cy="355.16" r="1.35" fill="#000" fill-opacity="0.52"/>
<circle cx="742.49" cy="356.31" r="1.35" fill="#000" fill-opacity="0.52"/>
<circle cx="734.85" cy="358.35" r="1.35" fill="#000" fill-opacity="0.52"/>
<circle cx="747.19" cy="334.78" r="1.35" fill="#000" fill-opacity="0.52"/>
<circle cx="740.14" cy="366.17" r="1.35" fill="#000" fill-opacity="0.52"/>
<circle cx="735.43" cy="350.92" r="1.35" fill="#000" fill-opacity="0.52"/>
<circle cx="734.28" cy="356.87" r="1.45" fill="#000" fill-opacity="0.85"/>
<circle cx="748.93" cy="367.47" r="1.35" fill="#000" fill-opacity="0.52"/>
<circle cx="733.08" cy="358.72" r="1.35" fill="#000" fill-opacity="0.52"/>
<circle cx="740.15" cy="332.59" r="1.35" fill="#000" fill-opacity="0.52"/>
<circle cx="742.92" cy="338.48" r="1.35" fill="#000" fill-opacity="0.52"/>
<circle cx="742.18" cy="366.5" r="1.35" fill="#000" fill-opacity="0.52"/>
<circle cx="741.33" cy="345.81" r="1.35" fill="#000" fill-opacity="0.52"/>
<circle cx="746.53" cy="351.76" r="1.35" fill="#000" fill-opacity="0.52"/>
<circle cx="740.33" cy="351.17" r="1.35" fill="#000" fill-opacity="0.52"/>
<circle cx="740.7" cy="367.87" r="1.35" fill="#000" fill-opacity="0.52"/>
<circle cx="743.31" cy="373.4" r="1.35" fill="#000" fill-opacity="0.52"/>
<circle cx="740.3" cy="341.74" r="1.45" fill="#000" fill-opacity="0.85"/>
<circle cx="740.61" cy="339.88" r="1.45" fill="#000" fill-opacity="0.85"/>
<circle cx="750.08" cy="361.14" r="1.45" fill="#000" fill-opacity="0.85"/>
<circle cx="743.45" cy="354.23" r="1.35" fill="#000" fill-opacity="0.52"/>
<circle cx="743.38" cy="356.7" r="1.35" fill="#000" fill-opacity="0.52"/>
<circle cx="744" cy="362.64" r="1.45" fill="#000" fill-opacity="0.85"/>
<circle cx="740.41" cy="354.92" r="1.35" fill="#000" fill-opacity="0.52"/>
<circle cx="774.36" cy="368.67" r="1.35" fill="#000" fill-opacity="0.52"/>
<circle cx="777.22" cy="359.89" r="1.35" fill="#000" fill-opacity="0.52"/>
<circle cx="769.7" cy="348.59" r="1.35" fill="#000" fill-opacity="0.52"/>
<circle cx="781.67" cy="427.92" r="1.45" fill="#000" fill-opacity="0.85"/>
<circle cx="777.49" cy="339.25" r="1.35" fill="#000" fill-opacity="0.52"/>
<circle cx="770.86" cy="348.19" r="1.45" fill="#000" fill-opacity="0.85"/>
<circle cx="775.35" cy="428.13" r="1.35" fill="#000" fill-opacity="0.52"/>
<circle cx="769.5" cy="342.04" r="1.35" fill="#000" fill-opacity="0.52"/>
<circle cx="771.33" cy="376.2" r="1.35" fill="#000" fill-opacity="0.52"/>
<circle cx="770.87" cy="375.12" r="1.35" fill="#000" fill-opacity="0.52"/>
<circle cx="776.43" cy="353.26" r="1.45" fill="#000" fill-opacity="0.85"/>
<circle cx="771.91" cy="358.82" r="1.35" fill="#000" fill-opacity="0.52"/>
<circle cx="777.53" cy="373.57" r="1.45" fill="#000" fill-opacity="0.85"/>
<circle cx="777.79" cy="357.64" r="1.35" fill="#000" fill-opacity="0.52"/>
<circle cx="771.14" cy="360.66" r="1.45" fill="#000" fill-opacity="0.85"/>
<circle cx="642.13" cy="428.5" r="1.45" fill="#000" fill-opacity="0.85"/>
<circle cx="641.57" cy="428.5" r="1.35" fill="#000" fill-opacity="0.52"/>
<circle cx="676.2" cy="428.5" r="1.45" fill="#000" fill-opacity="0.85"/>
<circle cx="669.33" cy="428.5" r="1.35" fill="#000" fill-opacity="0.52"/>
<circle cx="708.67" cy="428.5" r="1.45" fill="#000" fill-opacity="0.85"/>
<circle cx="743.63" cy="428.5" r="1.45" fill="#000" fill-opacity="0.85"/>
<circle cx="775.22" cy="428.5" r="1.45" fill="#000" fill-opacity="0.85"/>
<circle cx="779.2" cy="428.5" r="1.35" fill="#000" fill-opacity="0.52"/>
<polyline points="638.68,373.5 672.82,373.5 706.95,356.5 741.08,359 775.22,379.3" fill="none" stroke="#a3a8ad" stroke-opacity="0.85" stroke-width="2.3" stroke-linejoin="round"/>
<circle cx="638.68" cy="373.5" r="1.8" fill="#777" stroke="#111" stroke-width="1.4"/>
<circle cx="672.82" cy="373.5" r="1.8" fill="#777" stroke="#111" stroke-width="1.4"/>
<circle cx="706.95" cy="356.5" r="1.8" fill="#777" stroke="#111" stroke-width="1.4"/>
<circle cx="741.08" cy="359" r="1.8" fill="#777" stroke="#111" stroke-width="1.4"/>
<circle cx="775.22" cy="379.3" r="1.8" fill="#777" stroke="#111" stroke-width="1.4"/>
<path d="M638.68,310.7 V306.7 H672.82 V310.7" fill="none" stroke="#2a2a2a" stroke-width="1.05"/>
<text x="655.75" y="305.1" font-size="8" font-weight="normal" text-anchor="middle" fill="#222" stroke="#222" stroke-width="0.3">ns</text>
<path d="M672.82,304 V300 H706.95 V304" fill="none" stroke="#2a2a2a" stroke-width="1.05"/>
<text x="689.88" y="299" font-size="8.6" font-weight="normal" text-anchor="middle" fill="#222" stroke="#222" stroke-width="0.55">*</text>
<path d="M706.95,297.7 V293.7 H741.08 V297.7" fill="none" stroke="#2a2a2a" stroke-width="1.05"/>
<text x="724.02" y="292.1" font-size="8" font-weight="normal" text-anchor="middle" fill="#222" stroke="#222" stroke-width="0.3">ns</text>
<path d="M741.08,291.5 V287.5 H775.22 V291.5" fill="none" stroke="#2a2a2a" stroke-width="1.05"/>
<text x="758.15" y="286.5" font-size="8.6" font-weight="normal" text-anchor="middle" fill="#222" stroke="#222" stroke-width="0.55">*</text>
<path d="M672.82,285.3 V281.3 H775.22 V285.3" fill="none" stroke="#2a2a2a" stroke-width="1.05"/>
<text x="724.02" y="279.7" font-size="8" font-weight="normal" text-anchor="middle" fill="#222" stroke="#222" stroke-width="0.3">ns</text>
<text x="626.4" y="275.4" font-size="8.3" font-weight="normal" text-anchor="start" fill="#111" stroke="#111" stroke-width="0.25">Kruskal-Wallis, p = 0.012</text>
<line x1="432.7" y1="398.55" x2="435.5" y2="398.55" stroke="#333" stroke-width="1"/>
<text x="431.3" y="401.65" font-size="8.8" font-weight="bold" text-anchor="end" fill="#1a1a1a" >1</text>
<line x1="432.7" y1="336.85" x2="435.5" y2="336.85" stroke="#333" stroke-width="1"/>
<text x="431.3" y="339.95" font-size="8.8" font-weight="bold" text-anchor="end" fill="#1a1a1a" >3</text>
<line x1="432.7" y1="275.15" x2="435.5" y2="275.15" stroke="#333" stroke-width="1"/>
<text x="431.3" y="278.25" font-size="8.8" font-weight="bold" text-anchor="end" fill="#1a1a1a" >5</text>
<text transform="translate(420.3,352.3) rotate(-90)" font-size="9" font-weight="bold" text-anchor="middle" fill="#1a1a1a">ELISA titers ( log<tspan font-size="6" dy="1.5">10</tspan><tspan dy="-1.5"> )</tspan></text>
<text x="615.6" y="460.5" font-size="8.9" font-weight="bold" text-anchor="middle" fill="#1a1a1a" >Days post plasma infusion</text>
<text transform="translate(5,497.4) scale(0.8,1)" font-size="22" font-weight="bold" fill="#000">E</text>
<text x="28.8" y="490.6" font-size="10.3" font-weight="bold" text-anchor="start" fill="#1e1e1e" >IgG to N protein for the convalescent plasma group</text>
<rect x="28.4" y="497.4" width="180.1" height="14.3" fill="#e9ecec" stroke="#222" stroke-width="1.1"/>
<text x="118.45" y="508" font-size="7.1" font-weight="normal" text-anchor="middle" fill="#222" stroke="#222" stroke-width="0.25">High</text>
<line x1="28.4" y1="683.7" x2="208.5" y2="683.7" stroke="#333" stroke-width="1.1"/>
<line x1="28.4" y1="511.7" x2="28.4" y2="683.7" stroke="#333" stroke-width="1.1"/>
<line x1="49.18" y1="683.7" x2="49.18" y2="686.3" stroke="#333" stroke-width="1"/>
<text x="49.18" y="696.1" font-size="8.8" font-weight="bold" text-anchor="middle" fill="#1a1a1a" >-1</text>
<line x1="83.82" y1="683.7" x2="83.82" y2="686.3" stroke="#333" stroke-width="1"/>
<text x="83.82" y="696.1" font-size="8.8" font-weight="bold" text-anchor="middle" fill="#1a1a1a" >0</text>
<line x1="118.45" y1="683.7" x2="118.45" y2="686.3" stroke="#333" stroke-width="1"/>
<text x="118.45" y="696.1" font-size="8.8" font-weight="bold" text-anchor="middle" fill="#1a1a1a" >14</text>
<line x1="153.08" y1="683.7" x2="153.08" y2="686.3" stroke="#333" stroke-width="1"/>
<text x="153.08" y="696.1" font-size="8.8" font-weight="bold" text-anchor="middle" fill="#1a1a1a" >28</text>
<line x1="187.72" y1="683.7" x2="187.72" y2="686.3" stroke="#333" stroke-width="1"/>
<text x="187.72" y="696.1" font-size="8.8" font-weight="bold" text-anchor="middle" fill="#1a1a1a" >90</text>
<rect x="36.88" y="635.4" width="24.6" height="33.9" fill="#40f07c" stroke="#1a1a1a" stroke-width="1.15"/>
<line x1="36.88" y1="652.7" x2="61.48" y2="652.7" stroke="#111" stroke-width="2.1"/>
<rect x="71.52" y="600.1" width="24.6" height="35.3" fill="#40f07c" stroke="#1a1a1a" stroke-width="1.15"/>
<line x1="71.52" y1="617.4" x2="96.12" y2="617.4" stroke="#111" stroke-width="2.1"/>
<rect x="106.15" y="600.1" width="24.6" height="35.3" fill="#40f07c" stroke="#1a1a1a" stroke-width="1.15"/>
<line x1="106.15" y1="617.4" x2="130.75" y2="617.4" stroke="#111" stroke-width="2.1"/>
<rect x="140.78" y="582.8" width="24.6" height="52.6" fill="#40f07c" stroke="#1a1a1a" stroke-width="1.15"/>
<line x1="140.78" y1="617.4" x2="165.38" y2="617.4" stroke="#111" stroke-width="2.1"/>
<rect x="175.42" y="582.8" width="24.6" height="34.6" fill="#40f07c" stroke="#1a1a1a" stroke-width="1.15"/>
<line x1="175.42" y1="608.8" x2="200.02" y2="608.8" stroke="#111" stroke-width="2.1"/>
<line x1="49.18" y1="613.7" x2="49.18" y2="671.7" stroke="#000" stroke-opacity="0.8" stroke-width="1.1"/>
<line x1="83.82" y1="544.6" x2="83.82" y2="652" stroke="#000" stroke-opacity="0.8" stroke-width="1.1"/>
<line x1="118.45" y1="548.3" x2="118.45" y2="669.3" stroke="#000" stroke-opacity="0.8" stroke-width="1.1"/>
<line x1="153.08" y1="548.3" x2="153.08" y2="668" stroke="#000" stroke-opacity="0.8" stroke-width="1.1"/>
<line x1="187.72" y1="543.3" x2="187.72" y2="618.6" stroke="#000" stroke-opacity="0.8" stroke-width="1.1"/>
<circle cx="52" cy="656.79" r="1.35" fill="#000" fill-opacity="0.52"/>
<circle cx="53.21" cy="664.66" r="1.35" fill="#000" fill-opacity="0.52"/>
<circle cx="53.54" cy="629.65" r="1.45" fill="#000" fill-opacity="0.85"/>
<circle cx="48.8" cy="661.51" r="1.45" fill="#000" fill-opacity="0.85"/>
<circle cx="44.56" cy="662.91" r="1.35" fill="#000" fill-opacity="0.52"/>
<circle cx="48.72" cy="614.97" r="1.35" fill="#000" fill-opacity="0.52"/>
<circle cx="54.53" cy="646.68" r="1.45" fill="#000" fill-opacity="0.85"/>
<circle cx="53.03" cy="652.82" r="1.35" fill="#000" fill-opacity="0.52"/>
<circle cx="50.68" cy="616" r="1.35" fill="#000" fill-opacity="0.52"/>
<circle cx="54.47" cy="655.82" r="1.35" fill="#000" fill-opacity="0.52"/>
<circle cx="48.07" cy="642.53" r="1.35" fill="#000" fill-opacity="0.52"/>
<circle cx="43.33" cy="667.28" r="1.35" fill="#000" fill-opacity="0.52"/>
<circle cx="48.28" cy="653" r="1.35" fill="#000" fill-opacity="0.52"/>
<circle cx="51.25" cy="671.7" r="1.35" fill="#000" fill-opacity="0.52"/>
<circle cx="51.85" cy="637.41" r="1.35" fill="#000" fill-opacity="0.52"/>
<circle cx="40.18" cy="671.7" r="1.35" fill="#000" fill-opacity="0.52"/>
<circle cx="50.64" cy="632.81" r="1.35" fill="#000" fill-opacity="0.52"/>
<circle cx="43.66" cy="651.84" r="1.35" fill="#000" fill-opacity="0.52"/>
<circle cx="47.84" cy="659.01" r="1.35" fill="#000" fill-opacity="0.52"/>
<circle cx="51.31" cy="660.74" r="1.35" fill="#000" fill-opacity="0.52"/>
<circle cx="51.09" cy="671.7" r="1.45" fill="#000" fill-opacity="0.85"/>
<circle cx="43.69" cy="671.7" r="1.35" fill="#000" fill-opacity="0.52"/>
<circle cx="47" cy="668.7" r="1.35" fill="#000" fill-opacity="0.52"/>
<circle cx="51.56" cy="655.43" r="1.45" fill="#000" fill-opacity="0.85"/>
<circle cx="50.17" cy="655.58" r="1.35" fill="#000" fill-opacity="0.52"/>
<circle cx="50.97" cy="646.69" r="1.35" fill="#000" fill-opacity="0.52"/>
<circle cx="51.45" cy="631.43" r="1.35" fill="#000" fill-opacity="0.52"/>
<circle cx="49.83" cy="660.36" r="1.35" fill="#000" fill-opacity="0.52"/>
<circle cx="50.55" cy="659.33" r="1.35" fill="#000" fill-opacity="0.52"/>
<circle cx="48.69" cy="671.7" r="1.35" fill="#000" fill-opacity="0.52"/>
<circle cx="47.39" cy="655.88" r="1.45" fill="#000" fill-opacity="0.85"/>
<circle cx="49.05" cy="641.8" r="1.45" fill="#000" fill-opacity="0.85"/>
<circle cx="45.94" cy="671.7" r="1.35" fill="#000" fill-opacity="0.52"/>
<circle cx="48.77" cy="639.03" r="1.35" fill="#000" fill-opacity="0.52"/>
<circle cx="45.46" cy="621.46" r="1.45" fill="#000" fill-opacity="0.85"/>
<circle cx="47.29" cy="639.42" r="1.45" fill="#000" fill-opacity="0.85"/>
<circle cx="48.08" cy="659.29" r="1.35" fill="#000" fill-opacity="0.52"/>
<circle cx="52.21" cy="653.39" r="1.35" fill="#000" fill-opacity="0.52"/>
<circle cx="50.63" cy="641.8" r="1.35" fill="#000" fill-opacity="0.52"/>
<circle cx="57.43" cy="653.74" r="1.35" fill="#000" fill-opacity="0.52"/>
<circle cx="48.11" cy="645.62" r="1.45" fill="#000" fill-opacity="0.85"/>
<circle cx="46.41" cy="633.52" r="1.35" fill="#000" fill-opacity="0.52"/>
<circle cx="51.69" cy="671.7" r="1.45" fill="#000" fill-opacity="0.85"/>
<circle cx="52.51" cy="633.69" r="1.35" fill="#000" fill-opacity="0.52"/>
<circle cx="79.11" cy="603.22" r="1.35" fill="#000" fill-opacity="0.52"/>
<circle cx="81.04" cy="636" r="1.45" fill="#000" fill-opacity="0.85"/>
<circle cx="83.59" cy="629.27" r="1.35" fill="#000" fill-opacity="0.52"/>
<circle cx="79.65" cy="633.08" r="1.45" fill="#000" fill-opacity="0.85"/>
<circle cx="90.59" cy="598.07" r="1.45" fill="#000" fill-opacity="0.85"/>
<circle cx="84.34" cy="613.43" r="1.45" fill="#000" fill-opacity="0.85"/>
<circle cx="92.58" cy="644.52" r="1.35" fill="#000" fill-opacity="0.52"/>
<circle cx="84.23" cy="572.84" r="1.35" fill="#000" fill-opacity="0.52"/>
<circle cx="89.71" cy="620.28" r="1.45" fill="#000" fill-opacity="0.85"/>
<circle cx="82.81" cy="562.09" r="1.35" fill="#000" fill-opacity="0.52"/>
<circle cx="76.05" cy="625.5" r="1.35" fill="#000" fill-opacity="0.52"/>
<circle cx="79.92" cy="629.91" r="1.35" fill="#000" fill-opacity="0.52"/>
<circle cx="80.32" cy="602.02" r="1.35" fill="#000" fill-opacity="0.52"/>
<circle cx="85.41" cy="636.74" r="1.45" fill="#000" fill-opacity="0.85"/>
<circle cx="84.12" cy="644.25" r="1.45" fill="#000" fill-opacity="0.85"/>
<circle cx="81.94" cy="631.76" r="1.35" fill="#000" fill-opacity="0.52"/>
<circle cx="82.16" cy="619.89" r="1.35" fill="#000" fill-opacity="0.52"/>
<circle cx="82.8" cy="621.1" r="1.35" fill="#000" fill-opacity="0.52"/>
<circle cx="85.17" cy="635.71" r="1.45" fill="#000" fill-opacity="0.85"/>
<circle cx="89.91" cy="608.9" r="1.45" fill="#000" fill-opacity="0.85"/>
<circle cx="83.87" cy="649.7" r="1.45" fill="#000" fill-opacity="0.85"/>
<circle cx="82" cy="615.87" r="1.35" fill="#000" fill-opacity="0.52"/>
<circle cx="79.45" cy="597.47" r="1.35" fill="#000" fill-opacity="0.52"/>
<circle cx="86.69" cy="623.29" r="1.35" fill="#000" fill-opacity="0.52"/>
<circle cx="83.62" cy="634.51" r="1.35" fill="#000" fill-opacity="0.52"/>
<circle cx="82.89" cy="590.87" r="1.35" fill="#000" fill-opacity="0.52"/>
<circle cx="82.37" cy="633.97" r="1.35" fill="#000" fill-opacity="0.52"/>
<circle cx="87.16" cy="613.11" r="1.35" fill="#000" fill-opacity="0.52"/>
<circle cx="87.57" cy="575.49" r="1.35" fill="#000" fill-opacity="0.52"/>
<circle cx="90.15" cy="626.47" r="1.35" fill="#000" fill-opacity="0.52"/>
<circle cx="83.82" cy="573.68" r="1.45" fill="#000" fill-opacity="0.85"/>
<circle cx="90.28" cy="634.3" r="1.35" fill="#000" fill-opacity="0.52"/>
<circle cx="78.21" cy="627.83" r="1.35" fill="#000" fill-opacity="0.52"/>
<circle cx="89.43" cy="601.74" r="1.35" fill="#000" fill-opacity="0.52"/>
<circle cx="88.16" cy="584.03" r="1.35" fill="#000" fill-opacity="0.52"/>
<circle cx="78.41" cy="561.9" r="1.35" fill="#000" fill-opacity="0.52"/>
<circle cx="82.75" cy="588.37" r="1.35" fill="#000" fill-opacity="0.52"/>
<circle cx="86.04" cy="648.5" r="1.45" fill="#000" fill-opacity="0.85"/>
<circle cx="119.85" cy="549.95" r="1.45" fill="#000" fill-opacity="0.85"/>
<circle cx="120.27" cy="668.05" r="1.35" fill="#000" fill-opacity="0.52"/>
<circle cx="122.1" cy="638.57" r="1.35" fill="#000" fill-opacity="0.52"/>
<circle cx="119.35" cy="617.58" r="1.35" fill="#000" fill-opacity="0.52"/>
<circle cx="127.45" cy="615.27" r="1.35" fill="#000" fill-opacity="0.52"/>
<circle cx="114.19" cy="605.7" r="1.35" fill="#000" fill-opacity="0.52"/>
<circle cx="119" cy="623.25" r="1.45" fill="#000" fill-opacity="0.85"/>
<circle cx="119.9" cy="622.67" r="1.35" fill="#000" fill-opacity="0.52"/>
<circle cx="117.49" cy="631.49" r="1.45" fill="#000" fill-opacity="0.85"/>
<circle cx="117.17" cy="644.94" r="1.35" fill="#000" fill-opacity="0.52"/>
<circle cx="118.22" cy="633.3" r="1.35" fill="#000" fill-opacity="0.52"/>
<circle cx="118.92" cy="610.65" r="1.35" fill="#000" fill-opacity="0.52"/>
<circle cx="122.65" cy="614.27" r="1.35" fill="#000" fill-opacity="0.52"/>
<circle cx="120.91" cy="594.9" r="1.35" fill="#000" fill-opacity="0.52"/>
<circle cx="115.72" cy="618.39" r="1.35" fill="#000" fill-opacity="0.52"/>
<circle cx="119.51" cy="599.79" r="1.35" fill="#000" fill-opacity="0.52"/>
<circle cx="115.61" cy="623.44" r="1.45" fill="#000" fill-opacity="0.85"/>
<circle cx="125.85" cy="600.72" r="1.45" fill="#000" fill-opacity="0.85"/>
<circle cx="119.14" cy="592.3" r="1.35" fill="#000" fill-opacity="0.52"/>
<circle cx="115.64" cy="620.64" r="1.35" fill="#000" fill-opacity="0.52"/>
<circle cx="120.3" cy="627.02" r="1.35" fill="#000" fill-opacity="0.52"/>
<circle cx="122.85" cy="597.76" r="1.45" fill="#000" fill-opacity="0.85"/>
<circle cx="122.12" cy="620.81" r="1.35" fill="#000" fill-opacity="0.52"/>
<circle cx="119.29" cy="605.39" r="1.35" fill="#000" fill-opacity="0.52"/>
<circle cx="117.56" cy="576.71" r="1.45" fill="#000" fill-opacity="0.85"/>
<circle cx="121.26" cy="631.05" r="1.35" fill="#000" fill-opacity="0.52"/>
<circle cx="121.38" cy="631.29" r="1.45" fill="#000" fill-opacity="0.85"/>
<circle cx="119.15" cy="610.26" r="1.45" fill="#000" fill-opacity="0.85"/>
<circle cx="120.17" cy="580.77" r="1.35" fill="#000" fill-opacity="0.52"/>
<circle cx="124.63" cy="622.32" r="1.35" fill="#000" fill-opacity="0.52"/>
<circle cx="119.6" cy="664.76" r="1.35" fill="#000" fill-opacity="0.52"/>
<circle cx="118.6" cy="611.72" r="1.35" fill="#000" fill-opacity="0.52"/>
<circle cx="121.04" cy="627.55" r="1.35" fill="#000" fill-opacity="0.52"/>
<circle cx="118.28" cy="624.03" r="1.35" fill="#000" fill-opacity="0.52"/>
<circle cx="120" cy="611.48" r="1.35" fill="#000" fill-opacity="0.52"/>
<circle cx="122.78" cy="640.49" r="1.45" fill="#000" fill-opacity="0.85"/>
<circle cx="115.83" cy="615.93" r="1.45" fill="#000" fill-opacity="0.85"/>
<circle cx="118.17" cy="601.93" r="1.45" fill="#000" fill-opacity="0.85"/>
<circle cx="148.73" cy="579.48" r="1.45" fill="#000" fill-opacity="0.85"/>
<circle cx="149.71" cy="661.49" r="1.35" fill="#000" fill-opacity="0.52"/>
<circle cx="155.06" cy="592.32" r="1.45" fill="#000" fill-opacity="0.85"/>
<circle cx="154.37" cy="600.41" r="1.45" fill="#000" fill-opacity="0.85"/>
<circle cx="151.15" cy="603.37" r="1.45" fill="#000" fill-opacity="0.85"/>
<circle cx="153.87" cy="618.12" r="1.35" fill="#000" fill-opacity="0.52"/>
<circle cx="152.54" cy="607.46" r="1.35" fill="#000" fill-opacity="0.52"/>
<circle cx="153.74" cy="580.77" r="1.35" fill="#000" fill-opacity="0.52"/>
<circle cx="152.81" cy="642.37" r="1.45" fill="#000" fill-opacity="0.85"/>
<circle cx="157.28" cy="572.47" r="1.45" fill="#000" fill-opacity="0.85"/>
<circle cx="153.07" cy="586.82" r="1.35" fill="#000" fill-opacity="0.52"/>
<circle cx="152.37" cy="606.58" r="1.35" fill="#000" fill-opacity="0.52"/>
<circle cx="153.03" cy="609.3" r="1.35" fill="#000" fill-opacity="0.52"/>
<circle cx="154.47" cy="579.65" r="1.35" fill="#000" fill-opacity="0.52"/>
<circle cx="155.01" cy="609.83" r="1.35" fill="#000" fill-opacity="0.52"/>
<circle cx="156.59" cy="628.03" r="1.35" fill="#000" fill-opacity="0.52"/>
<circle cx="153.31" cy="555.11" r="1.35" fill="#000" fill-opacity="0.52"/>
<circle cx="146.39" cy="623.51" r="1.35" fill="#000" fill-opacity="0.52"/>
<circle cx="157.39" cy="662.84" r="1.45" fill="#000" fill-opacity="0.85"/>
<circle cx="161.08" cy="597.11" r="1.45" fill="#000" fill-opacity="0.85"/>
<circle cx="152.31" cy="626" r="1.35" fill="#000" fill-opacity="0.52"/>
<circle cx="156.13" cy="598.58" r="1.35" fill="#000" fill-opacity="0.52"/>
<circle cx="150.49" cy="644.9" r="1.45" fill="#000" fill-opacity="0.85"/>
<circle cx="150.33" cy="585.55" r="1.35" fill="#000" fill-opacity="0.52"/>
<circle cx="148.85" cy="663.5" r="1.45" fill="#000" fill-opacity="0.85"/>
<circle cx="150.12" cy="633.96" r="1.45" fill="#000" fill-opacity="0.85"/>
<circle cx="153.39" cy="578.9" r="1.35" fill="#000" fill-opacity="0.52"/>
<circle cx="156.7" cy="557.09" r="1.35" fill="#000" fill-opacity="0.52"/>
<circle cx="149.88" cy="604.76" r="1.45" fill="#000" fill-opacity="0.85"/>
<circle cx="150.47" cy="571.26" r="1.35" fill="#000" fill-opacity="0.52"/>
<circle cx="159.53" cy="575.31" r="1.45" fill="#000" fill-opacity="0.85"/>
<circle cx="155.58" cy="598.28" r="1.35" fill="#000" fill-opacity="0.52"/>
<circle cx="152.41" cy="656.04" r="1.45" fill="#000" fill-opacity="0.85"/>
<circle cx="149.73" cy="591.35" r="1.45" fill="#000" fill-opacity="0.85"/>
<circle cx="153.74" cy="574.2" r="1.45" fill="#000" fill-opacity="0.85"/>
<circle cx="149.78" cy="627.45" r="1.45" fill="#000" fill-opacity="0.85"/>
<circle cx="157.75" cy="623" r="1.35" fill="#000" fill-opacity="0.52"/>
<circle cx="151.32" cy="600.64" r="1.45" fill="#000" fill-opacity="0.85"/>
<circle cx="188.35" cy="618.6" r="1.45" fill="#000" fill-opacity="0.85"/>
<circle cx="186.2" cy="618.6" r="1.35" fill="#000" fill-opacity="0.52"/>
<circle cx="184.95" cy="591.08" r="1.45" fill="#000" fill-opacity="0.85"/>
<circle cx="178.72" cy="565.95" r="1.45" fill="#000" fill-opacity="0.85"/>
<circle cx="192.26" cy="588.56" r="1.35" fill="#000" fill-opacity="0.52"/>
<circle cx="192.4" cy="574.1" r="1.35" fill="#000" fill-opacity="0.52"/>
<circle cx="188.05" cy="601.93" r="1.45" fill="#000" fill-opacity="0.85"/>
<circle cx="187.88" cy="543.6" r="1.45" fill="#000" fill-opacity="0.85"/>
<circle cx="178.72" cy="588.86" r="1.45" fill="#000" fill-opacity="0.85"/>
<circle cx="183.7" cy="618.6" r="1.45" fill="#000" fill-opacity="0.85"/>
<circle cx="187.25" cy="586.42" r="1.35" fill="#000" fill-opacity="0.52"/>
<circle cx="189" cy="599.82" r="1.45" fill="#000" fill-opacity="0.85"/>
<circle cx="190.61" cy="618.57" r="1.35" fill="#000" fill-opacity="0.52"/>
<circle cx="181.79" cy="606.69" r="1.35" fill="#000" fill-opacity="0.52"/>
<circle cx="195.81" cy="613.75" r="1.35" fill="#000" fill-opacity="0.52"/>
<circle cx="192.52" cy="613.81" r="1.35" fill="#000" fill-opacity="0.52"/>
<circle cx="189.72" cy="560.57" r="1.45" fill="#000" fill-opacity="0.85"/>
<circle cx="189.87" cy="573.03" r="1.35" fill="#000" fill-opacity="0.52"/>
<circle cx="193.28" cy="560.71" r="1.45" fill="#000" fill-opacity="0.85"/>
<circle cx="189.33" cy="585.85" r="1.35" fill="#000" fill-opacity="0.52"/>
<circle cx="185.84" cy="607.96" r="1.45" fill="#000" fill-opacity="0.85"/>
<circle cx="181.75" cy="591.39" r="1.45" fill="#000" fill-opacity="0.85"/>
<circle cx="186.46" cy="559.94" r="1.45" fill="#000" fill-opacity="0.85"/>
<circle cx="181.57" cy="595.35" r="1.45" fill="#000" fill-opacity="0.85"/>
<circle cx="186.18" cy="577.74" r="1.45" fill="#000" fill-opacity="0.85"/>
<circle cx="188.67" cy="589.67" r="1.35" fill="#000" fill-opacity="0.52"/>
<circle cx="180.66" cy="603.12" r="1.35" fill="#000" fill-opacity="0.52"/>
<circle cx="186.45" cy="599.14" r="1.35" fill="#000" fill-opacity="0.52"/>
<circle cx="189.1" cy="618.1" r="1.45" fill="#000" fill-opacity="0.85"/>
<circle cx="185.27" cy="609.36" r="1.45" fill="#000" fill-opacity="0.85"/>
<circle cx="184.14" cy="602.58" r="1.35" fill="#000" fill-opacity="0.52"/>
<circle cx="49.47" cy="564.8" r="1.45" fill="#000" fill-opacity="0.85"/>
<circle cx="51.94" cy="571.2" r="1.35" fill="#000" fill-opacity="0.52"/>
<polyline points="49.18,643.3 83.82,617.4 118.45,616.7 153.08,610 187.72,600.1" fill="none" stroke="#a3a8ad" stroke-opacity="0.85" stroke-width="2.3" stroke-linejoin="round"/>
<circle cx="49.18" cy="643.3" r="1.5" fill="#777" stroke="#111" stroke-width="1.1"/>
<circle cx="83.82" cy="617.4" r="1.5" fill="#777" stroke="#111" stroke-width="1.1"/>
<circle cx="118.45" cy="616.7" r="1.5" fill="#777" stroke="#111" stroke-width="1.1"/>
<circle cx="153.08" cy="610" r="1.5" fill="#777" stroke="#111" stroke-width="1.1"/>
<circle cx="187.72" cy="600.1" r="1.5" fill="#777" stroke="#111" stroke-width="1.1"/>
<path d="M49.18,562.1 V558.1 H83.82 V562.1" fill="none" stroke="#2a2a2a" stroke-width="1.05"/>
<text x="66.5" y="557.1" font-size="8.6" font-weight="normal" text-anchor="middle" fill="#222" stroke="#222" stroke-width="0.55">****</text>
<path d="M83.82,547.8 V543.8 H118.45 V547.8" fill="none" stroke="#2a2a2a" stroke-width="1.05"/>
<text x="101.13" y="542.2" font-size="8" font-weight="normal" text-anchor="middle" fill="#222" stroke="#222" stroke-width="0.3">ns</text>
<path d="M118.45,541.2 V537.2 H153.08 V541.2" fill="none" stroke="#2a2a2a" stroke-width="1.05"/>
<text x="135.77" y="535.6" font-size="8" font-weight="normal" text-anchor="middle" fill="#222" stroke="#222" stroke-width="0.3">ns</text>
<path d="M153.08,534.5 V530.5 H187.72 V534.5" fill="none" stroke="#2a2a2a" stroke-width="1.05"/>
<text x="170.4" y="528.9" font-size="8" font-weight="normal" text-anchor="middle" fill="#222" stroke="#222" stroke-width="0.3">ns</text>
<path d="M83.82,527.6 V523.6 H187.72 V527.6" fill="none" stroke="#2a2a2a" stroke-width="1.05"/>
<text x="135.77" y="522.6" font-size="8.6" font-weight="normal" text-anchor="middle" fill="#222" stroke="#222" stroke-width="0.55">**</text>
<text x="37.4" y="519.4" font-size="8.3" font-weight="normal" text-anchor="start" fill="#111" stroke="#111" stroke-width="0.25">Kruskal-Wallis, p = 6.1e-08</text>
<rect x="213.4" y="497.4" width="179.9" height="14.3" fill="#e9ecec" stroke="#222" stroke-width="1.1"/>
<text x="303.35" y="508" font-size="7.1" font-weight="normal" text-anchor="middle" fill="#222" stroke="#222" stroke-width="0.25">Low</text>
<line x1="213.4" y1="683.7" x2="393.3" y2="683.7" stroke="#333" stroke-width="1.1"/>
<line x1="234.16" y1="683.7" x2="234.16" y2="686.3" stroke="#333" stroke-width="1"/>
<text x="234.16" y="696.1" font-size="8.8" font-weight="bold" text-anchor="middle" fill="#1a1a1a" >-1</text>
<line x1="268.75" y1="683.7" x2="268.75" y2="686.3" stroke="#333" stroke-width="1"/>
<text x="268.75" y="696.1" font-size="8.8" font-weight="bold" text-anchor="middle" fill="#1a1a1a" >0</text>
<line x1="303.35" y1="683.7" x2="303.35" y2="686.3" stroke="#333" stroke-width="1"/>
<text x="303.35" y="696.1" font-size="8.8" font-weight="bold" text-anchor="middle" fill="#1a1a1a" >14</text>
<line x1="337.95" y1="683.7" x2="337.95" y2="686.3" stroke="#333" stroke-width="1"/>
<text x="337.95" y="696.1" font-size="8.8" font-weight="bold" text-anchor="middle" fill="#1a1a1a" >28</text>
<line x1="372.54" y1="683.7" x2="372.54" y2="686.3" stroke="#333" stroke-width="1"/>
<text x="372.54" y="696.1" font-size="8.8" font-weight="bold" text-anchor="middle" fill="#1a1a1a" >90</text>
<rect x="221.86" y="600.1" width="24.6" height="17.8" fill="#e6ea0a" stroke="#1a1a1a" stroke-width="1.15"/>
<line x1="221.86" y1="617.9" x2="246.46" y2="617.9" stroke="#111" stroke-width="2.1"/>
<rect x="256.45" y="600.1" width="24.6" height="17.8" fill="#e6ea0a" stroke="#1a1a1a" stroke-width="1.15"/>
<line x1="256.45" y1="617.9" x2="281.05" y2="617.9" stroke="#111" stroke-width="2.1"/>
<rect x="291.05" y="600.1" width="24.6" height="17.8" fill="#e6ea0a" stroke="#1a1a1a" stroke-width="1.15"/>
<line x1="291.05" y1="600.1" x2="315.65" y2="600.1" stroke="#111" stroke-width="2.1"/>
<rect x="325.65" y="600.1" width="24.6" height="17.8" fill="#e6ea0a" stroke="#1a1a1a" stroke-width="1.15"/>
<line x1="325.65" y1="600.1" x2="350.25" y2="600.1" stroke="#111" stroke-width="2.1"/>
<rect x="360.24" y="582.8" width="24.6" height="17.3" fill="#e6ea0a" stroke="#1a1a1a" stroke-width="1.15"/>
<line x1="360.24" y1="591" x2="384.84" y2="591" stroke="#111" stroke-width="2.1"/>
<line x1="234.16" y1="582.8" x2="234.16" y2="634.7" stroke="#000" stroke-opacity="0.8" stroke-width="1.1"/>
<line x1="268.75" y1="582.8" x2="268.75" y2="634.7" stroke="#000" stroke-opacity="0.8" stroke-width="1.1"/>
<line x1="303.35" y1="582.8" x2="303.35" y2="634.7" stroke="#000" stroke-opacity="0.8" stroke-width="1.1"/>
<line x1="337.95" y1="583.5" x2="337.95" y2="618.6" stroke="#000" stroke-opacity="0.8" stroke-width="1.1"/>
<line x1="372.54" y1="565.6" x2="372.54" y2="617.4" stroke="#000" stroke-opacity="0.8" stroke-width="1.1"/>
<circle cx="237.56" cy="607.98" r="1.35" fill="#000" fill-opacity="0.52"/>
<circle cx="232.84" cy="612.41" r="1.35" fill="#000" fill-opacity="0.52"/>
<circle cx="232.63" cy="604" r="1.35" fill="#000" fill-opacity="0.52"/>
<circle cx="242.11" cy="595.51" r="1.35" fill="#000" fill-opacity="0.52"/>
<circle cx="228.96" cy="600.71" r="1.45" fill="#000" fill-opacity="0.85"/>
<circle cx="242.43" cy="612.16" r="1.45" fill="#000" fill-opacity="0.85"/>
<circle cx="231.81" cy="606.9" r="1.45" fill="#000" fill-opacity="0.85"/>
<circle cx="231.97" cy="622.8" r="1.35" fill="#000" fill-opacity="0.52"/>
<circle cx="235.2" cy="606.17" r="1.35" fill="#000" fill-opacity="0.52"/>
<circle cx="240.47" cy="605.73" r="1.45" fill="#000" fill-opacity="0.85"/>
<circle cx="235.13" cy="613.37" r="1.35" fill="#000" fill-opacity="0.52"/>
<circle cx="237.14" cy="591.58" r="1.35" fill="#000" fill-opacity="0.52"/>
<circle cx="236.18" cy="621.22" r="1.35" fill="#000" fill-opacity="0.52"/>
<circle cx="233.78" cy="613.22" r="1.35" fill="#000" fill-opacity="0.52"/>
<circle cx="240.39" cy="607.34" r="1.35" fill="#000" fill-opacity="0.52"/>
<circle cx="228.27" cy="597.78" r="1.35" fill="#000" fill-opacity="0.52"/>
<circle cx="237.48" cy="611.78" r="1.45" fill="#000" fill-opacity="0.85"/>
<circle cx="243.14" cy="600.39" r="1.45" fill="#000" fill-opacity="0.85"/>
<circle cx="236.39" cy="584.75" r="1.45" fill="#000" fill-opacity="0.85"/>
<circle cx="271.68" cy="599.47" r="1.35" fill="#000" fill-opacity="0.52"/>
<circle cx="262.6" cy="620.83" r="1.35" fill="#000" fill-opacity="0.52"/>
<circle cx="275.19" cy="616.37" r="1.35" fill="#000" fill-opacity="0.52"/>
<circle cx="269.18" cy="632.21" r="1.35" fill="#000" fill-opacity="0.52"/>
<circle cx="268.39" cy="625.3" r="1.35" fill="#000" fill-opacity="0.52"/>
<circle cx="267.43" cy="616.68" r="1.45" fill="#000" fill-opacity="0.85"/>
<circle cx="270.03" cy="604.11" r="1.35" fill="#000" fill-opacity="0.52"/>
<circle cx="269.06" cy="622.01" r="1.35" fill="#000" fill-opacity="0.52"/>
<circle cx="277.28" cy="620.59" r="1.35" fill="#000" fill-opacity="0.52"/>
<circle cx="266.68" cy="595.94" r="1.35" fill="#000" fill-opacity="0.52"/>
<circle cx="265.42" cy="602.42" r="1.35" fill="#000" fill-opacity="0.52"/>
<circle cx="272.86" cy="607.22" r="1.35" fill="#000" fill-opacity="0.52"/>
<circle cx="274.56" cy="595.95" r="1.35" fill="#000" fill-opacity="0.52"/>
<circle cx="266.38" cy="585.29" r="1.35" fill="#000" fill-opacity="0.52"/>
<circle cx="269.7" cy="601.92" r="1.35" fill="#000" fill-opacity="0.52"/>
<circle cx="269.53" cy="627.95" r="1.45" fill="#000" fill-opacity="0.85"/>
<circle cx="268.35" cy="616.19" r="1.35" fill="#000" fill-opacity="0.52"/>
<circle cx="270.04" cy="610.64" r="1.35" fill="#000" fill-opacity="0.52"/>
<circle cx="265.01" cy="610.3" r="1.35" fill="#000" fill-opacity="0.52"/>
<circle cx="304.26" cy="598.88" r="1.35" fill="#000" fill-opacity="0.52"/>
<circle cx="308.34" cy="607.22" r="1.35" fill="#000" fill-opacity="0.52"/>
<circle cx="299.71" cy="612.55" r="1.45" fill="#000" fill-opacity="0.85"/>
<circle cx="299.31" cy="613.67" r="1.35" fill="#000" fill-opacity="0.52"/>
<circle cx="299.51" cy="617.75" r="1.45" fill="#000" fill-opacity="0.85"/>
<circle cx="310.61" cy="595.66" r="1.35" fill="#000" fill-opacity="0.52"/>
<circle cx="302.83" cy="610.85" r="1.35" fill="#000" fill-opacity="0.52"/>
<circle cx="299.41" cy="607.26" r="1.45" fill="#000" fill-opacity="0.85"/>
<circle cx="297.29" cy="615.11" r="1.35" fill="#000" fill-opacity="0.52"/>
<circle cx="296.52" cy="608.53" r="1.45" fill="#000" fill-opacity="0.85"/>
<circle cx="299.95" cy="634.31" r="1.35" fill="#000" fill-opacity="0.52"/>
<circle cx="304.86" cy="593.27" r="1.35" fill="#000" fill-opacity="0.52"/>
<circle cx="300.92" cy="608.42" r="1.35" fill="#000" fill-opacity="0.52"/>
<circle cx="301.51" cy="606.79" r="1.35" fill="#000" fill-opacity="0.52"/>
<circle cx="304.03" cy="611.92" r="1.35" fill="#000" fill-opacity="0.52"/>
<circle cx="303.81" cy="604.06" r="1.35" fill="#000" fill-opacity="0.52"/>
<circle cx="295.71" cy="593.56" r="1.45" fill="#000" fill-opacity="0.85"/>
<circle cx="298.5" cy="622.97" r="1.35" fill="#000" fill-opacity="0.52"/>
<circle cx="301.35" cy="618.45" r="1.45" fill="#000" fill-opacity="0.85"/>
<circle cx="333.37" cy="611.7" r="1.45" fill="#000" fill-opacity="0.85"/>
<circle cx="333.95" cy="614.06" r="1.35" fill="#000" fill-opacity="0.52"/>
<circle cx="341.41" cy="613.66" r="1.35" fill="#000" fill-opacity="0.52"/>
<circle cx="338.07" cy="591.82" r="1.45" fill="#000" fill-opacity="0.85"/>
<circle cx="342.55" cy="613.96" r="1.35" fill="#000" fill-opacity="0.52"/>
<circle cx="334.84" cy="597.9" r="1.35" fill="#000" fill-opacity="0.52"/>
<circle cx="336.92" cy="608.44" r="1.35" fill="#000" fill-opacity="0.52"/>
<circle cx="341.8" cy="618.6" r="1.45" fill="#000" fill-opacity="0.85"/>
<circle cx="339.61" cy="605.99" r="1.45" fill="#000" fill-opacity="0.85"/>
<circle cx="329.45" cy="597.35" r="1.35" fill="#000" fill-opacity="0.52"/>
<circle cx="328.95" cy="592.1" r="1.45" fill="#000" fill-opacity="0.85"/>
<circle cx="340.77" cy="599.52" r="1.35" fill="#000" fill-opacity="0.52"/>
<circle cx="339.52" cy="609.67" r="1.45" fill="#000" fill-opacity="0.85"/>
<circle cx="337.88" cy="603.85" r="1.35" fill="#000" fill-opacity="0.52"/>
<circle cx="337.21" cy="618.2" r="1.35" fill="#000" fill-opacity="0.52"/>
<circle cx="342.76" cy="612.48" r="1.45" fill="#000" fill-opacity="0.85"/>
<circle cx="340.57" cy="618.6" r="1.35" fill="#000" fill-opacity="0.52"/>
<circle cx="341.12" cy="603.82" r="1.35" fill="#000" fill-opacity="0.52"/>
<circle cx="342.32" cy="597.26" r="1.35" fill="#000" fill-opacity="0.52"/>
<circle cx="376.13" cy="604.3" r="1.35" fill="#000" fill-opacity="0.52"/>
<circle cx="367.57" cy="613.27" r="1.35" fill="#000" fill-opacity="0.52"/>
<circle cx="377.15" cy="588.47" r="1.35" fill="#000" fill-opacity="0.52"/>
<circle cx="374.76" cy="614.77" r="1.35" fill="#000" fill-opacity="0.52"/>
<circle cx="375.41" cy="596.16" r="1.35" fill="#000" fill-opacity="0.52"/>
<circle cx="370.91" cy="600.79" r="1.35" fill="#000" fill-opacity="0.52"/>
<circle cx="377.92" cy="604.01" r="1.35" fill="#000" fill-opacity="0.52"/>
<circle cx="376.43" cy="587.46" r="1.35" fill="#000" fill-opacity="0.52"/>
<circle cx="370.38" cy="597.22" r="1.35" fill="#000" fill-opacity="0.52"/>
<circle cx="369.16" cy="598.71" r="1.35" fill="#000" fill-opacity="0.52"/>
<circle cx="373.04" cy="606.31" r="1.45" fill="#000" fill-opacity="0.85"/>
<circle cx="374.88" cy="585.77" r="1.35" fill="#000" fill-opacity="0.52"/>
<circle cx="375.91" cy="590.31" r="1.35" fill="#000" fill-opacity="0.52"/>
<circle cx="371.8" cy="590.84" r="1.45" fill="#000" fill-opacity="0.85"/>
<circle cx="370.53" cy="592.97" r="1.45" fill="#000" fill-opacity="0.85"/>
<circle cx="229.73" cy="564.8" r="1.45" fill="#000" fill-opacity="0.85"/>
<circle cx="231.8" cy="652" r="1.45" fill="#000" fill-opacity="0.85"/>
<circle cx="236.49" cy="656" r="1.35" fill="#000" fill-opacity="0.52"/>
<circle cx="270.96" cy="652" r="1.45" fill="#000" fill-opacity="0.85"/>
<circle cx="342.05" cy="558.9" r="1.35" fill="#000" fill-opacity="0.52"/>
<circle cx="342.42" cy="564.3" r="1.45" fill="#000" fill-opacity="0.85"/>
<circle cx="373.05" cy="530" r="1.45" fill="#000" fill-opacity="0.85"/>
<path d="M234.16,611.3 C239.92,611.62 257.22,613.92 268.75,613.2 C280.29,612.48 291.82,608.75 303.35,607 C314.88,605.25 326.41,605.7 337.95,602.7 C349.48,599.7 366.78,591.28 372.54,589" fill="none" stroke="#a3a8ad" stroke-opacity="0.85" stroke-width="2.3"/>
<circle cx="234.16" cy="611.3" r="1.5" fill="#777" stroke="#111" stroke-width="1.1"/>
<circle cx="268.75" cy="613.2" r="1.5" fill="#777" stroke="#111" stroke-width="1.1"/>
<circle cx="303.35" cy="607" r="1.5" fill="#777" stroke="#111" stroke-width="1.1"/>
<circle cx="337.95" cy="602.7" r="1.5" fill="#777" stroke="#111" stroke-width="1.1"/>
<circle cx="372.54" cy="589" r="1.5" fill="#777" stroke="#111" stroke-width="1.1"/>
<path d="M234.16,562.1 V558.1 H268.75 V562.1" fill="none" stroke="#2a2a2a" stroke-width="1.05"/>
<text x="251.46" y="556.5" font-size="8" font-weight="normal" text-anchor="middle" fill="#222" stroke="#222" stroke-width="0.3">ns</text>
<path d="M268.75,547.8 V543.8 H303.35 V547.8" fill="none" stroke="#2a2a2a" stroke-width="1.05"/>
<text x="286.05" y="542.2" font-size="8" font-weight="normal" text-anchor="middle" fill="#222" stroke="#222" stroke-width="0.3">ns</text>
<path d="M303.35,541.2 V537.2 H337.95 V541.2" fill="none" stroke="#2a2a2a" stroke-width="1.05"/>
<text x="320.65" y="535.6" font-size="8" font-weight="normal" text-anchor="middle" fill="#222" stroke="#222" stroke-width="0.3">ns</text>
<path d="M337.95,534.5 V530.5 H372.54 V534.5" fill="none" stroke="#2a2a2a" stroke-width="1.05"/>
<text x="355.24" y="528.9" font-size="8" font-weight="normal" text-anchor="middle" fill="#222" stroke="#222" stroke-width="0.3">ns</text>
<path d="M268.75,527.6 V523.6 H372.54 V527.6" fill="none" stroke="#2a2a2a" stroke-width="1.05"/>
<text x="320.65" y="522.6" font-size="8.6" font-weight="normal" text-anchor="middle" fill="#222" stroke="#222" stroke-width="0.55">**</text>
<text x="222.4" y="519.4" font-size="8.3" font-weight="normal" text-anchor="start" fill="#111" stroke="#111" stroke-width="0.25">Kruskal-Wallis, p = 0.005</text>
<line x1="25.6" y1="669.4" x2="28.4" y2="669.4" stroke="#333" stroke-width="1"/>
<text x="24.2" y="672.5" font-size="8.8" font-weight="bold" text-anchor="end" fill="#1a1a1a" >0</text>
<line x1="25.6" y1="634.8" x2="28.4" y2="634.8" stroke="#333" stroke-width="1"/>
<text x="24.2" y="637.9" font-size="8.8" font-weight="bold" text-anchor="end" fill="#1a1a1a" >1</text>
<line x1="25.6" y1="600.2" x2="28.4" y2="600.2" stroke="#333" stroke-width="1"/>
<text x="24.2" y="603.3" font-size="8.8" font-weight="bold" text-anchor="end" fill="#1a1a1a" >2</text>
<line x1="25.6" y1="565.6" x2="28.4" y2="565.6" stroke="#333" stroke-width="1"/>
<text x="24.2" y="568.7" font-size="8.8" font-weight="bold" text-anchor="end" fill="#1a1a1a" >3</text>
<line x1="25.6" y1="531" x2="28.4" y2="531" stroke="#333" stroke-width="1"/>
<text x="24.2" y="534.1" font-size="8.8" font-weight="bold" text-anchor="end" fill="#1a1a1a" >4</text>
<text transform="translate(13.2,599.2) rotate(-90)" font-size="9" font-weight="bold" text-anchor="middle" fill="#1a1a1a">Molar of NH<tspan font-size="6" dy="1.5">4</tspan><tspan dy="-1.5"> SCN (Avidity index)</tspan></text>
<text x="210.85" y="706.7" font-size="8.9" font-weight="bold" text-anchor="middle" fill="#1a1a1a" >Days post plasma infusion</text>
<text transform="translate(403,497.6) scale(0.85,1)" font-size="22" font-weight="bold" fill="#000">F</text>
<text x="431.3" y="490.9" font-size="10.3" font-weight="bold" text-anchor="start" fill="#1e1e1e" >IgG to S protein for the convalescent plasma group</text>
<rect x="430.5" y="498.5" width="179.2" height="14.4" fill="#e9ecec" stroke="#222" stroke-width="1.1"/>
<text x="520.1" y="509.2" font-size="7.1" font-weight="normal" text-anchor="middle" fill="#222" stroke="#222" stroke-width="0.25">High</text>
<line x1="430.5" y1="684.3" x2="609.7" y2="684.3" stroke="#333" stroke-width="1.1"/>
<line x1="430.5" y1="512.9" x2="430.5" y2="684.3" stroke="#333" stroke-width="1.1"/>
<line x1="451.18" y1="684.3" x2="451.18" y2="686.9" stroke="#333" stroke-width="1"/>
<text x="451.18" y="696.7" font-size="8.8" font-weight="bold" text-anchor="middle" fill="#1a1a1a" >-1</text>
<line x1="485.64" y1="684.3" x2="485.64" y2="686.9" stroke="#333" stroke-width="1"/>
<text x="485.64" y="696.7" font-size="8.8" font-weight="bold" text-anchor="middle" fill="#1a1a1a" >0</text>
<line x1="520.1" y1="684.3" x2="520.1" y2="686.9" stroke="#333" stroke-width="1"/>
<text x="520.1" y="696.7" font-size="8.8" font-weight="bold" text-anchor="middle" fill="#1a1a1a" >14</text>
<line x1="554.56" y1="684.3" x2="554.56" y2="686.9" stroke="#333" stroke-width="1"/>
<text x="554.56" y="696.7" font-size="8.8" font-weight="bold" text-anchor="middle" fill="#1a1a1a" >28</text>
<line x1="589.02" y1="684.3" x2="589.02" y2="686.9" stroke="#333" stroke-width="1"/>
<text x="589.02" y="696.7" font-size="8.8" font-weight="bold" text-anchor="middle" fill="#1a1a1a" >90</text>
<rect x="438.88" y="637.4" width="24.6" height="17.3" fill="#40f07c" stroke="#1a1a1a" stroke-width="1.15"/>
<line x1="438.88" y1="654.7" x2="463.48" y2="654.7" stroke="#111" stroke-width="2.1"/>
<rect x="473.34" y="619.1" width="24.6" height="18.3" fill="#40f07c" stroke="#1a1a1a" stroke-width="1.15"/>
<line x1="473.34" y1="619.1" x2="497.94" y2="619.1" stroke="#111" stroke-width="2.1"/>
<rect x="507.8" y="619.1" width="24.6" height="18.3" fill="#40f07c" stroke="#1a1a1a" stroke-width="1.15"/>
<line x1="507.8" y1="637.4" x2="532.4" y2="637.4" stroke="#111" stroke-width="2.1"/>
<rect x="542.26" y="619.1" width="24.6" height="18.3" fill="#40f07c" stroke="#1a1a1a" stroke-width="1.15"/>
<line x1="542.26" y1="628.3" x2="566.86" y2="628.3" stroke="#111" stroke-width="2.1"/>
<line x1="576.72" y1="619.1" x2="601.32" y2="619.1" stroke="#111" stroke-width="2.1"/>
<line x1="451.18" y1="619.6" x2="451.18" y2="671" stroke="#000" stroke-opacity="0.8" stroke-width="1.1"/>
<line x1="485.64" y1="599.4" x2="485.64" y2="637.4" stroke="#000" stroke-opacity="0.8" stroke-width="1.1"/>
<line x1="520.1" y1="601.1" x2="520.1" y2="654.2" stroke="#000" stroke-opacity="0.8" stroke-width="1.1"/>
<line x1="554.56" y1="597.4" x2="554.56" y2="657.9" stroke="#000" stroke-opacity="0.8" stroke-width="1.1"/>
<line x1="589.02" y1="595" x2="589.02" y2="654.2" stroke="#000" stroke-opacity="0.8" stroke-width="1.1"/>
<circle cx="454.79" cy="624.21" r="1.45" fill="#000" fill-opacity="0.85"/>
<circle cx="449.34" cy="663.73" r="1.35" fill="#000" fill-opacity="0.52"/>
<circle cx="446.62" cy="655.23" r="1.35" fill="#000" fill-opacity="0.52"/>
<circle cx="453.01" cy="621.56" r="1.45" fill="#000" fill-opacity="0.85"/>
<circle cx="451.85" cy="651.99" r="1.45" fill="#000" fill-opacity="0.85"/>
<circle cx="455.9" cy="650.58" r="1.35" fill="#000" fill-opacity="0.52"/>
<circle cx="455.2" cy="638.14" r="1.35" fill="#000" fill-opacity="0.52"/>
<circle cx="452.3" cy="644.95" r="1.35" fill="#000" fill-opacity="0.52"/>
<circle cx="460.18" cy="628.6" r="1.45" fill="#000" fill-opacity="0.85"/>
<circle cx="456.18" cy="638.43" r="1.45" fill="#000" fill-opacity="0.85"/>
<circle cx="484.74" cy="627.33" r="1.35" fill="#000" fill-opacity="0.52"/>
<circle cx="478.15" cy="621.28" r="1.35" fill="#000" fill-opacity="0.52"/>
<circle cx="478.41" cy="633.39" r="1.35" fill="#000" fill-opacity="0.52"/>
<circle cx="491.18" cy="620.71" r="1.45" fill="#000" fill-opacity="0.85"/>
<circle cx="489.53" cy="618.78" r="1.45" fill="#000" fill-opacity="0.85"/>
<circle cx="485.24" cy="629.27" r="1.35" fill="#000" fill-opacity="0.52"/>
<circle cx="483.24" cy="628.17" r="1.35" fill="#000" fill-opacity="0.52"/>
<circle cx="494.64" cy="618.8" r="1.35" fill="#000" fill-opacity="0.52"/>
<circle cx="483.28" cy="611.42" r="1.35" fill="#000" fill-opacity="0.52"/>
<circle cx="481.81" cy="637.4" r="1.35" fill="#000" fill-opacity="0.52"/>
<circle cx="484.38" cy="637.05" r="1.35" fill="#000" fill-opacity="0.52"/>
<circle cx="483.93" cy="621.51" r="1.35" fill="#000" fill-opacity="0.52"/>
<circle cx="518.75" cy="625.11" r="1.45" fill="#000" fill-opacity="0.85"/>
<circle cx="528.6" cy="641.29" r="1.45" fill="#000" fill-opacity="0.85"/>
<circle cx="524.32" cy="631.54" r="1.35" fill="#000" fill-opacity="0.52"/>
<circle cx="517.32" cy="605.73" r="1.35" fill="#000" fill-opacity="0.52"/>
<circle cx="521.94" cy="627.57" r="1.35" fill="#000" fill-opacity="0.52"/>
<circle cx="517.21" cy="627.3" r="1.35" fill="#000" fill-opacity="0.52"/>
<circle cx="514.03" cy="606.28" r="1.45" fill="#000" fill-opacity="0.85"/>
<circle cx="520.33" cy="615.86" r="1.35" fill="#000" fill-opacity="0.52"/>
<circle cx="524.11" cy="651.18" r="1.35" fill="#000" fill-opacity="0.52"/>
<circle cx="520.05" cy="641.38" r="1.35" fill="#000" fill-opacity="0.52"/>
<circle cx="558.65" cy="621.68" r="1.45" fill="#000" fill-opacity="0.85"/>
<circle cx="553.23" cy="606.17" r="1.35" fill="#000" fill-opacity="0.52"/>
<circle cx="554.21" cy="638.6" r="1.35" fill="#000" fill-opacity="0.52"/>
<circle cx="551.76" cy="622.97" r="1.45" fill="#000" fill-opacity="0.85"/>
<circle cx="552.96" cy="599.41" r="1.35" fill="#000" fill-opacity="0.52"/>
<circle cx="554.79" cy="599.48" r="1.35" fill="#000" fill-opacity="0.52"/>
<circle cx="548.54" cy="625.62" r="1.35" fill="#000" fill-opacity="0.52"/>
<circle cx="559.12" cy="608.61" r="1.45" fill="#000" fill-opacity="0.85"/>
<circle cx="551.12" cy="639.81" r="1.45" fill="#000" fill-opacity="0.85"/>
<circle cx="554.56" cy="626.07" r="1.35" fill="#000" fill-opacity="0.52"/>
<circle cx="587.62" cy="620.31" r="1.35" fill="#000" fill-opacity="0.52"/>
<circle cx="589.73" cy="652.49" r="1.35" fill="#000" fill-opacity="0.52"/>
<circle cx="583.71" cy="621.26" r="1.45" fill="#000" fill-opacity="0.85"/>
<circle cx="586.42" cy="642.69" r="1.45" fill="#000" fill-opacity="0.85"/>
<circle cx="593.32" cy="616.09" r="1.35" fill="#000" fill-opacity="0.52"/>
<circle cx="587.07" cy="614.51" r="1.35" fill="#000" fill-opacity="0.52"/>
<circle cx="591.81" cy="616.77" r="1.35" fill="#000" fill-opacity="0.52"/>
<circle cx="585.77" cy="620.81" r="1.35" fill="#000" fill-opacity="0.52"/>
<circle cx="520.99" cy="565.8" r="1.45" fill="#000" fill-opacity="0.85"/>
<circle cx="516.72" cy="567.5" r="1.35" fill="#000" fill-opacity="0.52"/>
<circle cx="558.42" cy="559" r="1.35" fill="#000" fill-opacity="0.52"/>
<circle cx="553.24" cy="565.8" r="1.45" fill="#000" fill-opacity="0.85"/>
<circle cx="593.62" cy="578.9" r="1.35" fill="#000" fill-opacity="0.52"/>
<circle cx="593.84" cy="584.6" r="1.45" fill="#000" fill-opacity="0.85"/>
<circle cx="585.43" cy="650.5" r="1.35" fill="#000" fill-opacity="0.52"/>
<circle cx="589.85" cy="654.2" r="1.45" fill="#000" fill-opacity="0.85"/>
<polyline points="451.18,646.3 485.64,624.6 520.1,626.6 554.56,624.1 589.02,619.1" fill="none" stroke="#a3a8ad" stroke-opacity="0.85" stroke-width="2.3" stroke-linejoin="round"/>
<circle cx="451.18" cy="646.3" r="1.5" fill="#777" stroke="#111" stroke-width="1.1"/>
<circle cx="485.64" cy="624.6" r="1.5" fill="#777" stroke="#111" stroke-width="1.1"/>
<circle cx="520.1" cy="626.6" r="1.5" fill="#777" stroke="#111" stroke-width="1.1"/>
<circle cx="554.56" cy="624.1" r="1.5" fill="#777" stroke="#111" stroke-width="1.1"/>
<circle cx="589.02" cy="619.1" r="1.5" fill="#777" stroke="#111" stroke-width="1.1"/>
<path d="M451.18,564.4 V560.4 H485.64 V564.4" fill="none" stroke="#2a2a2a" stroke-width="1.05"/>
<text x="468.41" y="559.4" font-size="8.6" font-weight="normal" text-anchor="middle" fill="#222" stroke="#222" stroke-width="0.55">**</text>
<path d="M485.64,549.6 V545.6 H520.1 V549.6" fill="none" stroke="#2a2a2a" stroke-width="1.05"/>
<text x="502.87" y="544" font-size="8" font-weight="normal" text-anchor="middle" fill="#222" stroke="#222" stroke-width="0.3">ns</text>
<path d="M520.1,542.7 V538.7 H554.56 V542.7" fill="none" stroke="#2a2a2a" stroke-width="1.05"/>
<text x="537.33" y="537.1" font-size="8" font-weight="normal" text-anchor="middle" fill="#222" stroke="#222" stroke-width="0.3">ns</text>
<path d="M554.56,535.5 V531.5 H589.02 V535.5" fill="none" stroke="#2a2a2a" stroke-width="1.05"/>
<text x="571.79" y="529.9" font-size="8" font-weight="normal" text-anchor="middle" fill="#222" stroke="#222" stroke-width="0.3">ns</text>
<path d="M485.64,528.6 V524.6 H589.02 V528.6" fill="none" stroke="#2a2a2a" stroke-width="1.05"/>
<text x="537.33" y="523" font-size="8" font-weight="normal" text-anchor="middle" fill="#222" stroke="#222" stroke-width="0.3">ns</text>
<text x="439.9" y="520.4" font-size="8.3" font-weight="normal" text-anchor="start" fill="#111" stroke="#111" stroke-width="0.25">Kruskal-Wallis, p = 0.06</text>
<rect x="614.6" y="498.5" width="179.8" height="14.4" fill="#e9ecec" stroke="#222" stroke-width="1.1"/>
<text x="704.5" y="509.2" font-size="7.1" font-weight="normal" text-anchor="middle" fill="#222" stroke="#222" stroke-width="0.25">Low</text>
<line x1="614.6" y1="684.3" x2="794.4" y2="684.3" stroke="#333" stroke-width="1.1"/>
<line x1="635.35" y1="684.3" x2="635.35" y2="686.9" stroke="#333" stroke-width="1"/>
<text x="635.35" y="696.7" font-size="8.8" font-weight="bold" text-anchor="middle" fill="#1a1a1a" >-1</text>
<line x1="669.92" y1="684.3" x2="669.92" y2="686.9" stroke="#333" stroke-width="1"/>
<text x="669.92" y="696.7" font-size="8.8" font-weight="bold" text-anchor="middle" fill="#1a1a1a" >0</text>
<line x1="704.5" y1="684.3" x2="704.5" y2="686.9" stroke="#333" stroke-width="1"/>
<text x="704.5" y="696.7" font-size="8.8" font-weight="bold" text-anchor="middle" fill="#1a1a1a" >14</text>
<line x1="739.08" y1="684.3" x2="739.08" y2="686.9" stroke="#333" stroke-width="1"/>
<text x="739.08" y="696.7" font-size="8.8" font-weight="bold" text-anchor="middle" fill="#1a1a1a" >28</text>
<line x1="773.65" y1="684.3" x2="773.65" y2="686.9" stroke="#333" stroke-width="1"/>
<text x="773.65" y="696.7" font-size="8.8" font-weight="bold" text-anchor="middle" fill="#1a1a1a" >90</text>
<rect x="623.05" y="601.9" width="24.6" height="35.5" fill="#e6ea0a" stroke="#1a1a1a" stroke-width="1.15"/>
<line x1="623.05" y1="619.1" x2="647.65" y2="619.1" stroke="#111" stroke-width="2.1"/>
<rect x="657.62" y="611" width="24.6" height="26.4" fill="#e6ea0a" stroke="#1a1a1a" stroke-width="1.15"/>
<line x1="657.62" y1="619.1" x2="682.22" y2="619.1" stroke="#111" stroke-width="2.1"/>
<rect x="692.2" y="619.1" width="24.6" height="18.3" fill="#e6ea0a" stroke="#1a1a1a" stroke-width="1.15"/>
<line x1="692.2" y1="619.1" x2="716.8" y2="619.1" stroke="#111" stroke-width="2.1"/>
<rect x="726.78" y="619.1" width="24.6" height="18.3" fill="#e6ea0a" stroke="#1a1a1a" stroke-width="1.15"/>
<line x1="726.78" y1="619.1" x2="751.38" y2="619.1" stroke="#111" stroke-width="2.1"/>
<rect x="761.35" y="601.9" width="24.6" height="17.2" fill="#e6ea0a" stroke="#1a1a1a" stroke-width="1.15"/>
<line x1="761.35" y1="619.1" x2="785.95" y2="619.1" stroke="#111" stroke-width="2.1"/>
<line x1="635.35" y1="560.4" x2="635.35" y2="670.3" stroke="#000" stroke-opacity="0.8" stroke-width="1.1"/>
<line x1="669.92" y1="585.1" x2="669.92" y2="671.5" stroke="#000" stroke-opacity="0.8" stroke-width="1.1"/>
<line x1="704.5" y1="601.1" x2="704.5" y2="655.4" stroke="#000" stroke-opacity="0.8" stroke-width="1.1"/>
<line x1="739.08" y1="602.4" x2="739.08" y2="653" stroke="#000" stroke-opacity="0.8" stroke-width="1.1"/>
<line x1="773.65" y1="584.6" x2="773.65" y2="619.1" stroke="#000" stroke-opacity="0.8" stroke-width="1.1"/>
<circle cx="638.91" cy="602.72" r="1.35" fill="#000" fill-opacity="0.52"/>
<circle cx="635.81" cy="630.39" r="1.45" fill="#000" fill-opacity="0.85"/>
<circle cx="631.79" cy="605.39" r="1.35" fill="#000" fill-opacity="0.52"/>
<circle cx="640.46" cy="600.22" r="1.35" fill="#000" fill-opacity="0.52"/>
<circle cx="633.66" cy="634.02" r="1.35" fill="#000" fill-opacity="0.52"/>
<circle cx="638.14" cy="593.4" r="1.35" fill="#000" fill-opacity="0.52"/>
<circle cx="640.16" cy="617.33" r="1.45" fill="#000" fill-opacity="0.85"/>
<circle cx="640.68" cy="620.92" r="1.35" fill="#000" fill-opacity="0.52"/>
<circle cx="640.24" cy="662.24" r="1.35" fill="#000" fill-opacity="0.52"/>
<circle cx="636.55" cy="638.78" r="1.35" fill="#000" fill-opacity="0.52"/>
<circle cx="635.36" cy="594.8" r="1.35" fill="#000" fill-opacity="0.52"/>
<circle cx="639.49" cy="589.6" r="1.35" fill="#000" fill-opacity="0.52"/>
<circle cx="636.05" cy="561.84" r="1.35" fill="#000" fill-opacity="0.52"/>
<circle cx="638.08" cy="629.35" r="1.35" fill="#000" fill-opacity="0.52"/>
<circle cx="630.94" cy="614.38" r="1.35" fill="#000" fill-opacity="0.52"/>
<circle cx="644.21" cy="567.79" r="1.35" fill="#000" fill-opacity="0.52"/>
<circle cx="635.28" cy="572.54" r="1.45" fill="#000" fill-opacity="0.85"/>
<circle cx="630.39" cy="606.84" r="1.35" fill="#000" fill-opacity="0.52"/>
<circle cx="627.34" cy="628.9" r="1.35" fill="#000" fill-opacity="0.52"/>
<circle cx="630.59" cy="616.59" r="1.35" fill="#000" fill-opacity="0.52"/>
<circle cx="636.75" cy="588.43" r="1.45" fill="#000" fill-opacity="0.85"/>
<circle cx="636.05" cy="627.01" r="1.35" fill="#000" fill-opacity="0.52"/>
<circle cx="631.71" cy="610.6" r="1.35" fill="#000" fill-opacity="0.52"/>
<circle cx="639.07" cy="613.48" r="1.45" fill="#000" fill-opacity="0.85"/>
<circle cx="636.77" cy="586.99" r="1.35" fill="#000" fill-opacity="0.52"/>
<circle cx="637.73" cy="635.01" r="1.35" fill="#000" fill-opacity="0.52"/>
<circle cx="632.66" cy="620.73" r="1.35" fill="#000" fill-opacity="0.52"/>
<circle cx="626.73" cy="610.14" r="1.35" fill="#000" fill-opacity="0.52"/>
<circle cx="636.77" cy="618.94" r="1.35" fill="#000" fill-opacity="0.52"/>
<circle cx="632.98" cy="622.48" r="1.35" fill="#000" fill-opacity="0.52"/>
<circle cx="637.97" cy="606.02" r="1.45" fill="#000" fill-opacity="0.85"/>
<circle cx="631.59" cy="614.97" r="1.35" fill="#000" fill-opacity="0.52"/>
<circle cx="635.93" cy="651.27" r="1.45" fill="#000" fill-opacity="0.85"/>
<circle cx="636.35" cy="631.62" r="1.45" fill="#000" fill-opacity="0.85"/>
<circle cx="631.91" cy="566.82" r="1.45" fill="#000" fill-opacity="0.85"/>
<circle cx="635.2" cy="639.17" r="1.35" fill="#000" fill-opacity="0.52"/>
<circle cx="631.8" cy="611.33" r="1.35" fill="#000" fill-opacity="0.52"/>
<circle cx="635.16" cy="620.77" r="1.45" fill="#000" fill-opacity="0.85"/>
<circle cx="636.89" cy="621.85" r="1.35" fill="#000" fill-opacity="0.52"/>
<circle cx="634.77" cy="597.21" r="1.45" fill="#000" fill-opacity="0.85"/>
<circle cx="633.82" cy="643.58" r="1.45" fill="#000" fill-opacity="0.85"/>
<circle cx="626.35" cy="603.79" r="1.35" fill="#000" fill-opacity="0.52"/>
<circle cx="630.95" cy="606.49" r="1.45" fill="#000" fill-opacity="0.85"/>
<circle cx="635.28" cy="614.87" r="1.35" fill="#000" fill-opacity="0.52"/>
<circle cx="632.53" cy="646.75" r="1.35" fill="#000" fill-opacity="0.52"/>
<circle cx="635.55" cy="611.28" r="1.35" fill="#000" fill-opacity="0.52"/>
<circle cx="636.49" cy="623.94" r="1.35" fill="#000" fill-opacity="0.52"/>
<circle cx="635.17" cy="572.81" r="1.35" fill="#000" fill-opacity="0.52"/>
<circle cx="632.31" cy="597.23" r="1.35" fill="#000" fill-opacity="0.52"/>
<circle cx="634.63" cy="600.7" r="1.35" fill="#000" fill-opacity="0.52"/>
<circle cx="671.59" cy="614.81" r="1.35" fill="#000" fill-opacity="0.52"/>
<circle cx="669.96" cy="640.11" r="1.45" fill="#000" fill-opacity="0.85"/>
<circle cx="672.71" cy="647.04" r="1.35" fill="#000" fill-opacity="0.52"/>
<circle cx="673.35" cy="631.98" r="1.35" fill="#000" fill-opacity="0.52"/>
<circle cx="670.86" cy="612.6" r="1.35" fill="#000" fill-opacity="0.52"/>
<circle cx="661.39" cy="659.85" r="1.35" fill="#000" fill-opacity="0.52"/>
<circle cx="664.64" cy="633.99" r="1.45" fill="#000" fill-opacity="0.85"/>
<circle cx="670.29" cy="613.38" r="1.35" fill="#000" fill-opacity="0.52"/>
<circle cx="668.51" cy="616.96" r="1.45" fill="#000" fill-opacity="0.85"/>
<circle cx="669.83" cy="611.7" r="1.35" fill="#000" fill-opacity="0.52"/>
<circle cx="669.32" cy="614.75" r="1.35" fill="#000" fill-opacity="0.52"/>
<circle cx="667.06" cy="652.58" r="1.35" fill="#000" fill-opacity="0.52"/>
<circle cx="667.69" cy="623.21" r="1.35" fill="#000" fill-opacity="0.52"/>
<circle cx="672.15" cy="655.82" r="1.35" fill="#000" fill-opacity="0.52"/>
<circle cx="666.51" cy="603.5" r="1.35" fill="#000" fill-opacity="0.52"/>
<circle cx="670.11" cy="627.55" r="1.45" fill="#000" fill-opacity="0.85"/>
<circle cx="671.11" cy="604.7" r="1.35" fill="#000" fill-opacity="0.52"/>
<circle cx="664.51" cy="645.02" r="1.45" fill="#000" fill-opacity="0.85"/>
<circle cx="670.67" cy="622.23" r="1.35" fill="#000" fill-opacity="0.52"/>
<circle cx="661.24" cy="609.17" r="1.35" fill="#000" fill-opacity="0.52"/>
<circle cx="671.48" cy="621.21" r="1.35" fill="#000" fill-opacity="0.52"/>
<circle cx="667.87" cy="627.23" r="1.35" fill="#000" fill-opacity="0.52"/>
<circle cx="672.13" cy="662.46" r="1.35" fill="#000" fill-opacity="0.52"/>
<circle cx="667.02" cy="623.05" r="1.35" fill="#000" fill-opacity="0.52"/>
<circle cx="671.61" cy="629.15" r="1.35" fill="#000" fill-opacity="0.52"/>
<circle cx="672.51" cy="613.74" r="1.35" fill="#000" fill-opacity="0.52"/>
<circle cx="672.24" cy="622.01" r="1.35" fill="#000" fill-opacity="0.52"/>
<circle cx="673.27" cy="643.51" r="1.35" fill="#000" fill-opacity="0.52"/>
<circle cx="669.9" cy="616.79" r="1.35" fill="#000" fill-opacity="0.52"/>
<circle cx="673.58" cy="626.63" r="1.35" fill="#000" fill-opacity="0.52"/>
<circle cx="667.65" cy="625" r="1.45" fill="#000" fill-opacity="0.85"/>
<circle cx="667.53" cy="609.02" r="1.45" fill="#000" fill-opacity="0.85"/>
<circle cx="675.04" cy="609.54" r="1.45" fill="#000" fill-opacity="0.85"/>
<circle cx="666.93" cy="603.46" r="1.45" fill="#000" fill-opacity="0.85"/>
<circle cx="666.75" cy="619.42" r="1.35" fill="#000" fill-opacity="0.52"/>
<circle cx="670.68" cy="611.37" r="1.35" fill="#000" fill-opacity="0.52"/>
<circle cx="671.47" cy="634.28" r="1.35" fill="#000" fill-opacity="0.52"/>
<circle cx="671.69" cy="620.77" r="1.35" fill="#000" fill-opacity="0.52"/>
<circle cx="676.51" cy="617.17" r="1.35" fill="#000" fill-opacity="0.52"/>
<circle cx="670.63" cy="629.26" r="1.35" fill="#000" fill-opacity="0.52"/>
<circle cx="667.93" cy="610.68" r="1.35" fill="#000" fill-opacity="0.52"/>
<circle cx="671.79" cy="657.86" r="1.35" fill="#000" fill-opacity="0.52"/>
<circle cx="668.22" cy="625.93" r="1.45" fill="#000" fill-opacity="0.85"/>
<circle cx="671.58" cy="623.15" r="1.35" fill="#000" fill-opacity="0.52"/>
<circle cx="671.61" cy="623.97" r="1.45" fill="#000" fill-opacity="0.85"/>
<circle cx="665.8" cy="624.27" r="1.45" fill="#000" fill-opacity="0.85"/>
<circle cx="671.78" cy="629.69" r="1.35" fill="#000" fill-opacity="0.52"/>
<circle cx="669.63" cy="610.23" r="1.35" fill="#000" fill-opacity="0.52"/>
<circle cx="672.49" cy="603.2" r="1.35" fill="#000" fill-opacity="0.52"/>
<circle cx="667.44" cy="633.77" r="1.45" fill="#000" fill-opacity="0.85"/>
<circle cx="703.49" cy="635.92" r="1.45" fill="#000" fill-opacity="0.85"/>
<circle cx="702.91" cy="629.99" r="1.35" fill="#000" fill-opacity="0.52"/>
<circle cx="696.23" cy="634.81" r="1.35" fill="#000" fill-opacity="0.52"/>
<circle cx="707.44" cy="638.59" r="1.35" fill="#000" fill-opacity="0.52"/>
<circle cx="702.2" cy="638.68" r="1.35" fill="#000" fill-opacity="0.52"/>
<circle cx="706.31" cy="631.62" r="1.35" fill="#000" fill-opacity="0.52"/>
<circle cx="706.33" cy="621.23" r="1.35" fill="#000" fill-opacity="0.52"/>
<circle cx="713.5" cy="628.09" r="1.35" fill="#000" fill-opacity="0.52"/>
<circle cx="709.34" cy="633.82" r="1.35" fill="#000" fill-opacity="0.52"/>
<circle cx="702.88" cy="625.48" r="1.35" fill="#000" fill-opacity="0.52"/>
<circle cx="704.3" cy="621.04" r="1.35" fill="#000" fill-opacity="0.52"/>
<circle cx="705.05" cy="616.79" r="1.45" fill="#000" fill-opacity="0.85"/>
<circle cx="700.2" cy="623.72" r="1.35" fill="#000" fill-opacity="0.52"/>
<circle cx="705.21" cy="632.13" r="1.35" fill="#000" fill-opacity="0.52"/>
<circle cx="704.57" cy="637.11" r="1.35" fill="#000" fill-opacity="0.52"/>
<circle cx="700.89" cy="645.74" r="1.35" fill="#000" fill-opacity="0.52"/>
<circle cx="703.86" cy="626.6" r="1.35" fill="#000" fill-opacity="0.52"/>
<circle cx="703.69" cy="640.64" r="1.45" fill="#000" fill-opacity="0.85"/>
<circle cx="711.8" cy="629.37" r="1.45" fill="#000" fill-opacity="0.85"/>
<circle cx="707.3" cy="624.99" r="1.35" fill="#000" fill-opacity="0.52"/>
<circle cx="699.42" cy="612.12" r="1.35" fill="#000" fill-opacity="0.52"/>
<circle cx="705.06" cy="635.68" r="1.45" fill="#000" fill-opacity="0.85"/>
<circle cx="703.14" cy="625.25" r="1.45" fill="#000" fill-opacity="0.85"/>
<circle cx="712.9" cy="624.89" r="1.35" fill="#000" fill-opacity="0.52"/>
<circle cx="698.2" cy="654.85" r="1.45" fill="#000" fill-opacity="0.85"/>
<circle cx="706.99" cy="645.12" r="1.35" fill="#000" fill-opacity="0.52"/>
<circle cx="709.2" cy="644.14" r="1.35" fill="#000" fill-opacity="0.52"/>
<circle cx="708.15" cy="647.91" r="1.35" fill="#000" fill-opacity="0.52"/>
<circle cx="709.12" cy="625.86" r="1.45" fill="#000" fill-opacity="0.85"/>
<circle cx="704.27" cy="616.37" r="1.45" fill="#000" fill-opacity="0.85"/>
<circle cx="697.34" cy="622.61" r="1.45" fill="#000" fill-opacity="0.85"/>
<circle cx="703.46" cy="635.89" r="1.35" fill="#000" fill-opacity="0.52"/>
<circle cx="705.56" cy="641.98" r="1.35" fill="#000" fill-opacity="0.52"/>
<circle cx="705.38" cy="620.48" r="1.35" fill="#000" fill-opacity="0.52"/>
<circle cx="707.9" cy="623.15" r="1.35" fill="#000" fill-opacity="0.52"/>
<circle cx="702.4" cy="636.44" r="1.35" fill="#000" fill-opacity="0.52"/>
<circle cx="703.89" cy="611.84" r="1.35" fill="#000" fill-opacity="0.52"/>
<circle cx="703.62" cy="620.6" r="1.35" fill="#000" fill-opacity="0.52"/>
<circle cx="702.16" cy="639.91" r="1.35" fill="#000" fill-opacity="0.52"/>
<circle cx="705.38" cy="625.49" r="1.35" fill="#000" fill-opacity="0.52"/>
<circle cx="700.22" cy="622.18" r="1.45" fill="#000" fill-opacity="0.85"/>
<circle cx="701.33" cy="616.96" r="1.35" fill="#000" fill-opacity="0.52"/>
<circle cx="706.12" cy="637.92" r="1.35" fill="#000" fill-opacity="0.52"/>
<circle cx="700.77" cy="611.37" r="1.45" fill="#000" fill-opacity="0.85"/>
<circle cx="704.37" cy="623.53" r="1.45" fill="#000" fill-opacity="0.85"/>
<circle cx="705.93" cy="622.17" r="1.35" fill="#000" fill-opacity="0.52"/>
<circle cx="699.84" cy="632.51" r="1.35" fill="#000" fill-opacity="0.52"/>
<circle cx="704.86" cy="629.86" r="1.35" fill="#000" fill-opacity="0.52"/>
<circle cx="710.8" cy="626.94" r="1.35" fill="#000" fill-opacity="0.52"/>
<circle cx="705.84" cy="631.64" r="1.35" fill="#000" fill-opacity="0.52"/>
<circle cx="745.56" cy="613.95" r="1.35" fill="#000" fill-opacity="0.52"/>
<circle cx="737.69" cy="621.21" r="1.35" fill="#000" fill-opacity="0.52"/>
<circle cx="739.25" cy="610.16" r="1.35" fill="#000" fill-opacity="0.52"/>
<circle cx="743.15" cy="607.52" r="1.45" fill="#000" fill-opacity="0.85"/>
<circle cx="741.58" cy="613.99" r="1.45" fill="#000" fill-opacity="0.85"/>
<circle cx="739.07" cy="631.45" r="1.35" fill="#000" fill-opacity="0.52"/>
<circle cx="740.53" cy="635.28" r="1.45" fill="#000" fill-opacity="0.85"/>
<circle cx="742.47" cy="615.31" r="1.45" fill="#000" fill-opacity="0.85"/>
<circle cx="739.25" cy="641.88" r="1.35" fill="#000" fill-opacity="0.52"/>
<circle cx="740.54" cy="641.87" r="1.35" fill="#000" fill-opacity="0.52"/>
<circle cx="738.51" cy="622.26" r="1.35" fill="#000" fill-opacity="0.52"/>
<circle cx="735.28" cy="631.24" r="1.35" fill="#000" fill-opacity="0.52"/>
<circle cx="740.56" cy="626.49" r="1.45" fill="#000" fill-opacity="0.85"/>
<circle cx="736.62" cy="634.85" r="1.35" fill="#000" fill-opacity="0.52"/>
<circle cx="740.27" cy="617.69" r="1.45" fill="#000" fill-opacity="0.85"/>
<circle cx="737.91" cy="630.49" r="1.35" fill="#000" fill-opacity="0.52"/>
<circle cx="744.4" cy="651.9" r="1.35" fill="#000" fill-opacity="0.52"/>
<circle cx="739.52" cy="626.18" r="1.45" fill="#000" fill-opacity="0.85"/>
<circle cx="733.11" cy="625.13" r="1.45" fill="#000" fill-opacity="0.85"/>
<circle cx="738.64" cy="635.63" r="1.35" fill="#000" fill-opacity="0.52"/>
<circle cx="736.26" cy="626.79" r="1.45" fill="#000" fill-opacity="0.85"/>
<circle cx="737.1" cy="616.92" r="1.35" fill="#000" fill-opacity="0.52"/>
<circle cx="737.12" cy="613.76" r="1.45" fill="#000" fill-opacity="0.85"/>
<circle cx="739.87" cy="605.85" r="1.35" fill="#000" fill-opacity="0.52"/>
<circle cx="740.71" cy="627.52" r="1.35" fill="#000" fill-opacity="0.52"/>
<circle cx="742.4" cy="635.79" r="1.35" fill="#000" fill-opacity="0.52"/>
<circle cx="742.29" cy="621.78" r="1.35" fill="#000" fill-opacity="0.52"/>
<circle cx="738.42" cy="635.44" r="1.35" fill="#000" fill-opacity="0.52"/>
<circle cx="739.18" cy="622.3" r="1.45" fill="#000" fill-opacity="0.85"/>
<circle cx="731.74" cy="621.53" r="1.45" fill="#000" fill-opacity="0.85"/>
<circle cx="739.32" cy="633.59" r="1.45" fill="#000" fill-opacity="0.85"/>
<circle cx="731.07" cy="621.58" r="1.35" fill="#000" fill-opacity="0.52"/>
<circle cx="735.42" cy="637.13" r="1.45" fill="#000" fill-opacity="0.85"/>
<circle cx="741.86" cy="625.03" r="1.35" fill="#000" fill-opacity="0.52"/>
<circle cx="737.44" cy="605.59" r="1.35" fill="#000" fill-opacity="0.52"/>
<circle cx="744.79" cy="624.05" r="1.45" fill="#000" fill-opacity="0.85"/>
<circle cx="742.15" cy="634.84" r="1.45" fill="#000" fill-opacity="0.85"/>
<circle cx="740.62" cy="628.84" r="1.45" fill="#000" fill-opacity="0.85"/>
<circle cx="738.85" cy="623.76" r="1.35" fill="#000" fill-opacity="0.52"/>
<circle cx="741.9" cy="628.18" r="1.35" fill="#000" fill-opacity="0.52"/>
<circle cx="737.36" cy="628.07" r="1.35" fill="#000" fill-opacity="0.52"/>
<circle cx="734.71" cy="614.68" r="1.45" fill="#000" fill-opacity="0.85"/>
<circle cx="734.33" cy="624.41" r="1.35" fill="#000" fill-opacity="0.52"/>
<circle cx="739.12" cy="622.9" r="1.35" fill="#000" fill-opacity="0.52"/>
<circle cx="737.43" cy="622.23" r="1.45" fill="#000" fill-opacity="0.85"/>
<circle cx="740.48" cy="606.73" r="1.45" fill="#000" fill-opacity="0.85"/>
<circle cx="734.58" cy="619.01" r="1.35" fill="#000" fill-opacity="0.52"/>
<circle cx="732.24" cy="627.71" r="1.45" fill="#000" fill-opacity="0.85"/>
<circle cx="743.28" cy="647.56" r="1.35" fill="#000" fill-opacity="0.52"/>
<circle cx="741.13" cy="615.41" r="1.45" fill="#000" fill-opacity="0.85"/>
<circle cx="768.85" cy="606.94" r="1.35" fill="#000" fill-opacity="0.52"/>
<circle cx="777.29" cy="619.1" r="1.45" fill="#000" fill-opacity="0.85"/>
<circle cx="771.99" cy="606.67" r="1.35" fill="#000" fill-opacity="0.52"/>
<circle cx="772.7" cy="587.91" r="1.35" fill="#000" fill-opacity="0.52"/>
<circle cx="772.14" cy="608.31" r="1.45" fill="#000" fill-opacity="0.85"/>
<circle cx="772.72" cy="618.04" r="1.35" fill="#000" fill-opacity="0.52"/>
<circle cx="767.77" cy="606.24" r="1.35" fill="#000" fill-opacity="0.52"/>
<circle cx="771.72" cy="601.97" r="1.45" fill="#000" fill-opacity="0.85"/>
<circle cx="775.69" cy="617.89" r="1.35" fill="#000" fill-opacity="0.52"/>
<circle cx="764.65" cy="592.9" r="1.35" fill="#000" fill-opacity="0.52"/>
<circle cx="777.56" cy="616.98" r="1.45" fill="#000" fill-opacity="0.85"/>
<circle cx="766.89" cy="601" r="1.35" fill="#000" fill-opacity="0.52"/>
<circle cx="766.69" cy="615.05" r="1.35" fill="#000" fill-opacity="0.52"/>
<circle cx="776.4" cy="590.48" r="1.45" fill="#000" fill-opacity="0.85"/>
<circle cx="775.42" cy="618.9" r="1.35" fill="#000" fill-opacity="0.52"/>
<circle cx="775.61" cy="613.22" r="1.35" fill="#000" fill-opacity="0.52"/>
<circle cx="773.24" cy="604.8" r="1.45" fill="#000" fill-opacity="0.85"/>
<circle cx="773.21" cy="618.29" r="1.35" fill="#000" fill-opacity="0.52"/>
<circle cx="782.65" cy="611.35" r="1.45" fill="#000" fill-opacity="0.85"/>
<circle cx="775.37" cy="610.55" r="1.35" fill="#000" fill-opacity="0.52"/>
<circle cx="770.8" cy="611.04" r="1.45" fill="#000" fill-opacity="0.85"/>
<circle cx="773.58" cy="597.44" r="1.35" fill="#000" fill-opacity="0.52"/>
<circle cx="774.11" cy="588.9" r="1.35" fill="#000" fill-opacity="0.52"/>
<circle cx="773.01" cy="608.59" r="1.35" fill="#000" fill-opacity="0.52"/>
<circle cx="770.76" cy="589.93" r="1.35" fill="#000" fill-opacity="0.52"/>
<circle cx="772.37" cy="608.98" r="1.35" fill="#000" fill-opacity="0.52"/>
<circle cx="768.86" cy="605.27" r="1.35" fill="#000" fill-opacity="0.52"/>
<circle cx="769.64" cy="604.15" r="1.35" fill="#000" fill-opacity="0.52"/>
<circle cx="770.68" cy="619.1" r="1.35" fill="#000" fill-opacity="0.52"/>
<circle cx="778.81" cy="607.46" r="1.35" fill="#000" fill-opacity="0.52"/>
<circle cx="767.42" cy="599.97" r="1.35" fill="#000" fill-opacity="0.52"/>
<circle cx="631.44" cy="674" r="1.35" fill="#000" fill-opacity="0.52"/>
<circle cx="705.7" cy="672.7" r="1.45" fill="#000" fill-opacity="0.85"/>
<circle cx="742.17" cy="672.7" r="1.45" fill="#000" fill-opacity="0.85"/>
<circle cx="701.98" cy="565.8" r="1.45" fill="#000" fill-opacity="0.85"/>
<circle cx="706.34" cy="584.6" r="1.45" fill="#000" fill-opacity="0.85"/>
<circle cx="743" cy="561.6" r="1.45" fill="#000" fill-opacity="0.85"/>
<circle cx="735.35" cy="584.6" r="1.45" fill="#000" fill-opacity="0.85"/>
<circle cx="770.01" cy="565.8" r="1.45" fill="#000" fill-opacity="0.85"/>
<circle cx="773.58" cy="560" r="1.35" fill="#000" fill-opacity="0.52"/>
<circle cx="668.27" cy="565.8" r="1.45" fill="#000" fill-opacity="0.85"/>
<circle cx="778.15" cy="531.5" r="1.45" fill="#000" fill-opacity="0.85"/>
<polyline points="635.35,625.8 669.92,625.8 704.5,625.8 739.08,625.8 773.65,613.5" fill="none" stroke="#a3a8ad" stroke-opacity="0.85" stroke-width="2.3" stroke-linejoin="round"/>
<circle cx="635.35" cy="625.8" r="1.5" fill="#777" stroke="#111" stroke-width="1.1"/>
<circle cx="669.92" cy="625.8" r="1.5" fill="#777" stroke="#111" stroke-width="1.1"/>
<circle cx="704.5" cy="625.8" r="1.5" fill="#777" stroke="#111" stroke-width="1.1"/>
<circle cx="739.08" cy="625.8" r="1.5" fill="#777" stroke="#111" stroke-width="1.1"/>
<circle cx="773.65" cy="613.5" r="1.5" fill="#777" stroke="#111" stroke-width="1.1"/>
<path d="M635.35,565.6 V561.6 H669.92 V565.6" fill="none" stroke="#2a2a2a" stroke-width="1.05"/>
<text x="652.63" y="560" font-size="8" font-weight="normal" text-anchor="middle" fill="#222" stroke="#222" stroke-width="0.3">ns</text>
<path d="M669.92,549.6 V545.6 H704.5 V549.6" fill="none" stroke="#2a2a2a" stroke-width="1.05"/>
<text x="687.21" y="544" font-size="8" font-weight="normal" text-anchor="middle" fill="#222" stroke="#222" stroke-width="0.3">ns</text>
<path d="M704.5,542.7 V538.7 H739.08 V542.7" fill="none" stroke="#2a2a2a" stroke-width="1.05"/>
<text x="721.79" y="537.1" font-size="8" font-weight="normal" text-anchor="middle" fill="#222" stroke="#222" stroke-width="0.3">ns</text>
<path d="M739.08,535.5 V531.5 H773.65 V535.5" fill="none" stroke="#2a2a2a" stroke-width="1.05"/>
<text x="756.37" y="530.5" font-size="8.6" font-weight="normal" text-anchor="middle" fill="#222" stroke="#222" stroke-width="0.55">*</text>
<path d="M669.92,528.6 V524.6 H773.65 V528.6" fill="none" stroke="#2a2a2a" stroke-width="1.05"/>
<text x="721.79" y="523.6" font-size="8.6" font-weight="normal" text-anchor="middle" fill="#222" stroke="#222" stroke-width="0.55">*</text>
<text x="623.9" y="520.4" font-size="8.3" font-weight="normal" text-anchor="start" fill="#111" stroke="#111" stroke-width="0.25">Kruskal-Wallis, p = 0.16</text>
<line x1="427.7" y1="672.4" x2="430.5" y2="672.4" stroke="#333" stroke-width="1"/>
<text x="426.3" y="675.5" font-size="8.8" font-weight="bold" text-anchor="end" fill="#1a1a1a" >0</text>
<line x1="427.7" y1="637.5" x2="430.5" y2="637.5" stroke="#333" stroke-width="1"/>
<text x="426.3" y="640.6" font-size="8.8" font-weight="bold" text-anchor="end" fill="#1a1a1a" >1</text>
<line x1="427.7" y1="602.6" x2="430.5" y2="602.6" stroke="#333" stroke-width="1"/>
<text x="426.3" y="605.7" font-size="8.8" font-weight="bold" text-anchor="end" fill="#1a1a1a" >2</text>
<line x1="427.7" y1="567.7" x2="430.5" y2="567.7" stroke="#333" stroke-width="1"/>
<text x="426.3" y="570.8" font-size="8.8" font-weight="bold" text-anchor="end" fill="#1a1a1a" >3</text>
<line x1="427.7" y1="532.8" x2="430.5" y2="532.8" stroke="#333" stroke-width="1"/>
<text x="426.3" y="535.9" font-size="8.8" font-weight="bold" text-anchor="end" fill="#1a1a1a" >4</text>
<text transform="translate(415.3,600.1) rotate(-90)" font-size="9" font-weight="bold" text-anchor="middle" fill="#1a1a1a">Molar of NH<tspan font-size="6" dy="1.5">4</tspan><tspan dy="-1.5"> SCN (Avidity index)</tspan></text>
<text x="612.45" y="706.9" font-size="8.9" font-weight="bold" text-anchor="middle" fill="#1a1a1a" >Days post plasma infusion</text>
</svg>
</body></html>
